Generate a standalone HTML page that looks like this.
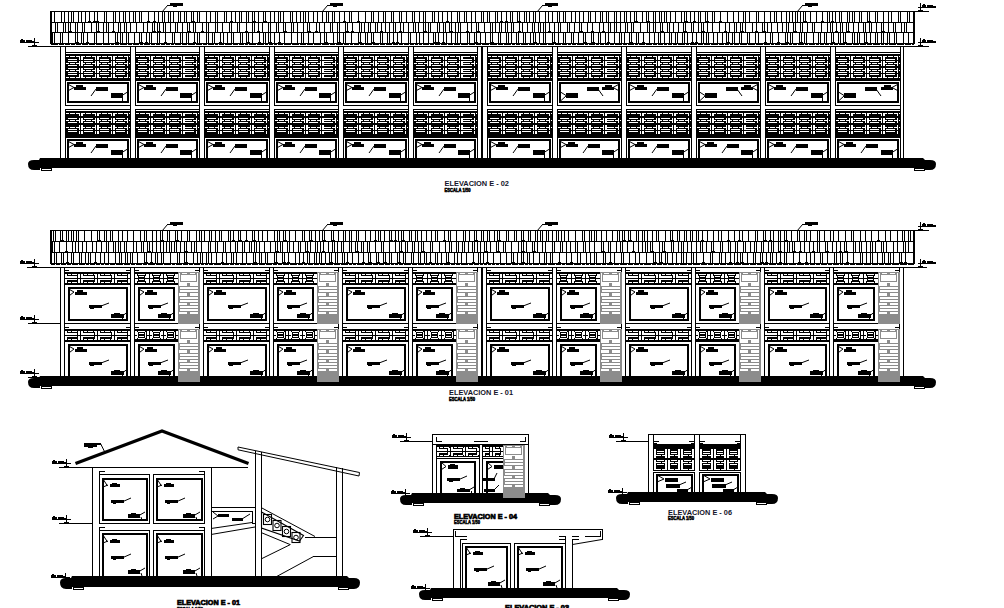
<!DOCTYPE html>
<html><head><meta charset="utf-8"><style>
html,body{margin:0;padding:0;background:#fff;width:1004px;height:608px;overflow:hidden}
svg{display:block}
</style></head><body>
<svg width="1004" height="608" viewBox="0 0 1004 608">
<rect width="1004" height="608" fill="#fff"/>
<path fill="#000" d="M50 11h865v1h-865zM50 43h865v1h-865zM50 11h1v33h-1zM914 11h1v33h-1zM51 11h1v33h-1zM913 11h1v33h-1zM50 22h865v1h-865zM50 32h865v1h-865zM54 11h1v12h-1zM61 11h1v12h-1zM64 11h1v12h-1zM68 11h1v12h-1zM71 11h1v12h-1zM73 11h1v11h-1zM78 11h1v12h-1zM81 11h1v12h-1zM85 11h1v12h-1zM89 11h1v12h-1zM88 21h3v1h-3zM94 11h1v12h-1zM93 21h3v1h-3zM97 11h1v12h-1zM96 21h3v1h-3zM104 11h1v12h-1zM106 11h1v11h-1zM113 11h1v12h-1zM115 11h1v11h-1zM119 11h1v12h-1zM123 11h1v12h-1zM125 11h1v11h-1zM129 11h1v12h-1zM133 11h1v12h-1zM135 11h1v11h-1zM139 11h1v12h-1zM141 11h1v11h-1zM148 11h1v12h-1zM147 21h3v1h-3zM154 11h1v12h-1zM153 21h3v1h-3zM158 11h1v12h-1zM162 11h1v12h-1zM164 11h1v11h-1zM168 11h1v12h-1zM170 11h1v11h-1zM173 11h1v12h-1zM178 11h1v12h-1zM180 11h1v11h-1zM184 11h1v12h-1zM186 11h1v11h-1zM191 11h1v12h-1zM193 11h1v11h-1zM192 21h3v1h-3zM197 11h1v12h-1zM199 11h1v11h-1zM206 11h1v12h-1zM210 11h1v12h-1zM215 11h1v12h-1zM217 11h1v11h-1zM224 11h1v12h-1zM226 11h1v11h-1zM231 11h1v12h-1zM230 21h3v1h-3zM235 11h1v12h-1zM239 11h1v12h-1zM241 11h1v11h-1zM246 11h1v12h-1zM248 11h1v11h-1zM252 11h1v12h-1zM254 11h1v11h-1zM253 21h3v1h-3zM258 11h1v12h-1zM263 11h1v12h-1zM265 11h1v11h-1zM264 21h3v1h-3zM270 11h1v12h-1zM274 11h1v12h-1zM278 11h1v12h-1zM280 11h1v11h-1zM283 11h1v12h-1zM290 11h1v12h-1zM292 11h1v11h-1zM296 11h1v12h-1zM300 11h1v12h-1zM303 11h1v12h-1zM305 11h1v11h-1zM308 11h1v12h-1zM313 11h1v12h-1zM317 11h1v12h-1zM322 11h1v12h-1zM326 11h1v12h-1zM328 11h1v11h-1zM332 11h1v12h-1zM334 11h1v11h-1zM339 11h1v12h-1zM344 11h1v12h-1zM343 21h3v1h-3zM349 11h1v12h-1zM351 11h1v11h-1zM358 11h1v12h-1zM357 21h3v1h-3zM365 11h1v12h-1zM371 11h1v12h-1zM373 11h1v11h-1zM378 11h1v12h-1zM383 11h1v12h-1zM385 11h1v11h-1zM391 11h1v12h-1zM393 11h1v11h-1zM399 11h1v12h-1zM401 11h1v11h-1zM406 11h1v12h-1zM412 11h1v12h-1zM414 11h1v11h-1zM419 11h1v12h-1zM423 11h1v12h-1zM425 11h1v11h-1zM432 11h1v12h-1zM434 11h1v11h-1zM438 11h1v12h-1zM442 11h1v12h-1zM447 11h1v12h-1zM446 21h3v1h-3zM451 11h1v12h-1zM457 11h1v12h-1zM459 11h1v11h-1zM464 11h1v12h-1zM466 11h1v11h-1zM471 11h1v12h-1zM475 11h1v12h-1zM481 11h1v12h-1zM483 11h1v11h-1zM487 11h1v12h-1zM489 11h1v11h-1zM495 11h1v12h-1zM497 11h1v11h-1zM501 11h1v12h-1zM500 21h3v1h-3zM506 11h1v12h-1zM505 21h3v1h-3zM510 11h1v12h-1zM512 11h1v11h-1zM517 11h1v12h-1zM519 11h1v11h-1zM518 21h3v1h-3zM524 11h1v12h-1zM526 11h1v11h-1zM529 11h1v12h-1zM533 11h1v12h-1zM535 11h1v11h-1zM539 11h1v12h-1zM545 11h1v12h-1zM548 11h1v12h-1zM552 11h1v12h-1zM557 11h1v12h-1zM559 11h1v11h-1zM563 11h1v12h-1zM565 11h1v11h-1zM571 11h1v12h-1zM575 11h1v12h-1zM579 11h1v12h-1zM583 11h1v12h-1zM588 11h1v12h-1zM590 11h1v11h-1zM595 11h1v12h-1zM600 11h1v12h-1zM602 11h1v11h-1zM606 11h1v12h-1zM608 11h1v11h-1zM614 11h1v12h-1zM616 11h1v11h-1zM620 11h1v12h-1zM624 11h1v12h-1zM626 11h1v11h-1zM630 11h1v12h-1zM634 11h1v12h-1zM636 11h1v11h-1zM635 21h3v1h-3zM642 11h1v12h-1zM646 11h1v12h-1zM648 11h1v11h-1zM647 21h3v1h-3zM653 11h1v12h-1zM655 11h1v11h-1zM659 11h1v12h-1zM661 11h1v11h-1zM664 11h1v12h-1zM666 11h1v11h-1zM670 11h1v12h-1zM675 11h1v12h-1zM681 11h1v12h-1zM684 11h1v12h-1zM686 11h1v11h-1zM685 21h3v1h-3zM690 11h1v12h-1zM694 11h1v12h-1zM693 21h3v1h-3zM698 11h1v12h-1zM700 11h1v11h-1zM705 11h1v12h-1zM707 11h1v11h-1zM706 21h3v1h-3zM712 11h1v12h-1zM714 11h1v11h-1zM720 11h1v12h-1zM719 21h3v1h-3zM727 11h1v12h-1zM733 11h1v12h-1zM738 11h1v12h-1zM743 11h1v12h-1zM745 11h1v11h-1zM749 11h1v12h-1zM756 11h1v12h-1zM758 11h1v11h-1zM764 11h1v12h-1zM770 11h1v12h-1zM774 11h1v12h-1zM776 11h1v11h-1zM781 11h1v12h-1zM786 11h1v12h-1zM789 11h1v12h-1zM792 11h1v12h-1zM795 11h1v12h-1zM797 11h1v11h-1zM800 11h1v12h-1zM803 11h1v12h-1zM805 11h1v11h-1zM804 21h3v1h-3zM810 11h1v12h-1zM816 11h1v12h-1zM822 11h1v12h-1zM821 21h3v1h-3zM827 11h1v12h-1zM829 11h1v11h-1zM832 11h1v12h-1zM831 21h3v1h-3zM835 11h1v12h-1zM839 11h1v12h-1zM841 11h1v11h-1zM847 11h1v12h-1zM849 11h1v11h-1zM852 11h1v12h-1zM854 11h1v11h-1zM859 11h1v12h-1zM861 11h1v11h-1zM867 11h1v12h-1zM869 11h1v11h-1zM868 21h3v1h-3zM875 11h1v12h-1zM877 11h1v11h-1zM883 11h1v12h-1zM888 11h1v12h-1zM891 11h1v12h-1zM898 11h1v12h-1zM900 11h1v11h-1zM907 11h1v12h-1zM909 11h1v11h-1zM55 22h1v11h-1zM57 22h1v10h-1zM63 22h1v11h-1zM65 22h1v10h-1zM68 22h1v11h-1zM70 22h1v10h-1zM69 31h3v1h-3zM75 22h1v11h-1zM77 22h1v10h-1zM82 22h1v11h-1zM84 22h1v10h-1zM91 22h1v11h-1zM96 22h1v11h-1zM98 22h1v10h-1zM97 31h3v1h-3zM103 22h1v11h-1zM106 22h1v11h-1zM108 22h1v10h-1zM113 22h1v11h-1zM112 31h3v1h-3zM118 22h1v11h-1zM120 22h1v10h-1zM124 22h1v11h-1zM126 22h1v10h-1zM130 22h1v11h-1zM136 22h1v11h-1zM143 22h1v11h-1zM147 22h1v11h-1zM152 22h1v11h-1zM154 22h1v10h-1zM153 31h3v1h-3zM157 22h1v11h-1zM159 22h1v10h-1zM158 31h3v1h-3zM163 22h1v11h-1zM165 22h1v10h-1zM170 22h1v11h-1zM175 22h1v11h-1zM177 22h1v10h-1zM182 22h1v11h-1zM187 22h1v11h-1zM189 22h1v10h-1zM188 31h3v1h-3zM193 22h1v11h-1zM195 22h1v10h-1zM202 22h1v11h-1zM201 31h3v1h-3zM206 22h1v11h-1zM208 22h1v10h-1zM215 22h1v11h-1zM217 22h1v10h-1zM222 22h1v11h-1zM229 22h1v11h-1zM231 22h1v10h-1zM237 22h1v11h-1zM239 22h1v10h-1zM246 22h1v11h-1zM245 31h3v1h-3zM252 22h1v11h-1zM254 22h1v10h-1zM258 22h1v11h-1zM257 31h3v1h-3zM262 22h1v11h-1zM268 22h1v11h-1zM270 22h1v10h-1zM276 22h1v11h-1zM278 22h1v10h-1zM283 22h1v11h-1zM285 22h1v10h-1zM284 31h3v1h-3zM291 22h1v11h-1zM293 22h1v10h-1zM297 22h1v11h-1zM303 22h1v11h-1zM307 22h1v11h-1zM309 22h1v10h-1zM308 31h3v1h-3zM316 22h1v11h-1zM315 31h3v1h-3zM319 22h1v11h-1zM324 22h1v11h-1zM330 22h1v11h-1zM332 22h1v10h-1zM337 22h1v11h-1zM339 22h1v10h-1zM345 22h1v11h-1zM347 22h1v10h-1zM346 31h3v1h-3zM352 22h1v11h-1zM351 31h3v1h-3zM359 22h1v11h-1zM361 22h1v10h-1zM364 22h1v11h-1zM368 22h1v11h-1zM370 22h1v10h-1zM375 22h1v11h-1zM377 22h1v10h-1zM381 22h1v11h-1zM380 31h3v1h-3zM385 22h1v11h-1zM389 22h1v11h-1zM393 22h1v11h-1zM395 22h1v10h-1zM400 22h1v11h-1zM399 31h3v1h-3zM403 22h1v11h-1zM408 22h1v11h-1zM413 22h1v11h-1zM415 22h1v10h-1zM418 22h1v11h-1zM423 22h1v11h-1zM425 22h1v10h-1zM424 31h3v1h-3zM428 22h1v11h-1zM430 22h1v10h-1zM437 22h1v11h-1zM439 22h1v10h-1zM443 22h1v11h-1zM445 22h1v10h-1zM449 22h1v11h-1zM451 22h1v10h-1zM450 31h3v1h-3zM455 22h1v11h-1zM458 22h1v11h-1zM460 22h1v10h-1zM467 22h1v11h-1zM466 31h3v1h-3zM471 22h1v11h-1zM476 22h1v11h-1zM478 22h1v10h-1zM477 31h3v1h-3zM484 22h1v11h-1zM490 22h1v11h-1zM492 22h1v10h-1zM495 22h1v11h-1zM499 22h1v11h-1zM501 22h1v10h-1zM505 22h1v11h-1zM507 22h1v10h-1zM511 22h1v11h-1zM513 22h1v10h-1zM519 22h1v11h-1zM518 31h3v1h-3zM522 22h1v11h-1zM527 22h1v11h-1zM532 22h1v11h-1zM534 22h1v10h-1zM538 22h1v11h-1zM540 22h1v10h-1zM543 22h1v11h-1zM545 22h1v10h-1zM549 22h1v11h-1zM548 31h3v1h-3zM554 22h1v11h-1zM558 22h1v11h-1zM560 22h1v10h-1zM567 22h1v11h-1zM569 22h1v10h-1zM574 22h1v11h-1zM579 22h1v11h-1zM581 22h1v10h-1zM580 31h3v1h-3zM587 22h1v11h-1zM592 22h1v11h-1zM591 31h3v1h-3zM599 22h1v11h-1zM603 22h1v11h-1zM602 31h3v1h-3zM608 22h1v11h-1zM610 22h1v10h-1zM614 22h1v11h-1zM616 22h1v10h-1zM620 22h1v11h-1zM625 22h1v11h-1zM627 22h1v10h-1zM631 22h1v11h-1zM633 22h1v10h-1zM640 22h1v11h-1zM647 22h1v11h-1zM649 22h1v10h-1zM653 22h1v11h-1zM655 22h1v10h-1zM660 22h1v11h-1zM662 22h1v10h-1zM661 31h3v1h-3zM667 22h1v11h-1zM669 22h1v10h-1zM673 22h1v11h-1zM678 22h1v11h-1zM683 22h1v11h-1zM685 22h1v10h-1zM684 31h3v1h-3zM691 22h1v11h-1zM693 22h1v10h-1zM698 22h1v11h-1zM701 22h1v11h-1zM703 22h1v10h-1zM702 31h3v1h-3zM707 22h1v11h-1zM712 22h1v11h-1zM719 22h1v11h-1zM725 22h1v11h-1zM724 31h3v1h-3zM729 22h1v11h-1zM734 22h1v11h-1zM736 22h1v10h-1zM740 22h1v11h-1zM742 22h1v10h-1zM741 31h3v1h-3zM745 22h1v11h-1zM752 22h1v11h-1zM756 22h1v11h-1zM755 31h3v1h-3zM762 22h1v11h-1zM764 22h1v10h-1zM763 31h3v1h-3zM767 22h1v11h-1zM771 22h1v11h-1zM777 22h1v11h-1zM782 22h1v11h-1zM786 22h1v11h-1zM788 22h1v10h-1zM793 22h1v11h-1zM795 22h1v10h-1zM794 31h3v1h-3zM800 22h1v11h-1zM802 22h1v10h-1zM807 22h1v11h-1zM812 22h1v11h-1zM814 22h1v10h-1zM821 22h1v11h-1zM827 22h1v11h-1zM830 22h1v11h-1zM832 22h1v10h-1zM836 22h1v11h-1zM835 31h3v1h-3zM840 22h1v11h-1zM842 22h1v10h-1zM846 22h1v11h-1zM848 22h1v10h-1zM847 31h3v1h-3zM853 22h1v11h-1zM858 22h1v11h-1zM863 22h1v11h-1zM865 22h1v10h-1zM869 22h1v11h-1zM871 22h1v10h-1zM876 22h1v11h-1zM881 22h1v11h-1zM883 22h1v10h-1zM882 31h3v1h-3zM888 22h1v11h-1zM893 22h1v11h-1zM895 22h1v10h-1zM901 22h1v11h-1zM904 22h1v11h-1zM906 22h1v10h-1zM52 32h1v12h-1zM54 32h1v11h-1zM60 32h1v12h-1zM62 32h1v11h-1zM68 32h1v12h-1zM75 32h1v12h-1zM77 32h1v11h-1zM76 42h3v1h-3zM81 32h1v12h-1zM83 32h1v11h-1zM87 32h1v12h-1zM86 42h3v1h-3zM94 32h1v12h-1zM96 32h1v11h-1zM103 32h1v12h-1zM108 32h1v12h-1zM115 32h1v12h-1zM117 32h1v11h-1zM116 42h3v1h-3zM120 32h1v12h-1zM122 32h1v11h-1zM126 32h1v12h-1zM128 32h1v11h-1zM134 32h1v12h-1zM139 32h1v12h-1zM141 32h1v11h-1zM140 42h3v1h-3zM146 32h1v12h-1zM145 42h3v1h-3zM149 32h1v12h-1zM151 32h1v11h-1zM157 32h1v12h-1zM159 32h1v11h-1zM165 32h1v12h-1zM164 42h3v1h-3zM172 32h1v12h-1zM174 32h1v11h-1zM180 32h1v12h-1zM182 32h1v11h-1zM186 32h1v12h-1zM188 32h1v11h-1zM194 32h1v12h-1zM193 42h3v1h-3zM197 32h1v12h-1zM199 32h1v11h-1zM206 32h1v12h-1zM208 32h1v11h-1zM212 32h1v12h-1zM214 32h1v11h-1zM220 32h1v12h-1zM219 42h3v1h-3zM223 32h1v12h-1zM227 32h1v12h-1zM231 32h1v12h-1zM233 32h1v11h-1zM240 32h1v12h-1zM242 32h1v11h-1zM246 32h1v12h-1zM248 32h1v11h-1zM247 42h3v1h-3zM252 32h1v12h-1zM259 32h1v12h-1zM258 42h3v1h-3zM263 32h1v12h-1zM265 32h1v11h-1zM268 32h1v12h-1zM270 32h1v11h-1zM269 42h3v1h-3zM274 32h1v12h-1zM279 32h1v12h-1zM278 42h3v1h-3zM284 32h1v12h-1zM291 32h1v12h-1zM297 32h1v12h-1zM301 32h1v12h-1zM303 32h1v11h-1zM308 32h1v12h-1zM313 32h1v12h-1zM320 32h1v12h-1zM324 32h1v12h-1zM326 32h1v11h-1zM325 42h3v1h-3zM333 32h1v12h-1zM337 32h1v12h-1zM339 32h1v11h-1zM338 42h3v1h-3zM343 32h1v12h-1zM345 32h1v11h-1zM351 32h1v12h-1zM358 32h1v12h-1zM360 32h1v11h-1zM359 42h3v1h-3zM365 32h1v12h-1zM367 32h1v11h-1zM371 32h1v12h-1zM373 32h1v11h-1zM372 42h3v1h-3zM380 32h1v12h-1zM382 32h1v11h-1zM387 32h1v12h-1zM389 32h1v11h-1zM393 32h1v12h-1zM392 42h3v1h-3zM397 32h1v12h-1zM396 42h3v1h-3zM401 32h1v12h-1zM408 32h1v12h-1zM410 32h1v11h-1zM416 32h1v12h-1zM419 32h1v12h-1zM423 32h1v12h-1zM428 32h1v12h-1zM433 32h1v12h-1zM435 32h1v11h-1zM434 42h3v1h-3zM438 32h1v12h-1zM437 42h3v1h-3zM443 32h1v12h-1zM442 42h3v1h-3zM446 32h1v12h-1zM451 32h1v12h-1zM455 32h1v12h-1zM457 32h1v11h-1zM460 32h1v12h-1zM467 32h1v12h-1zM469 32h1v11h-1zM474 32h1v12h-1zM476 32h1v11h-1zM475 42h3v1h-3zM480 32h1v12h-1zM485 32h1v12h-1zM490 32h1v12h-1zM492 32h1v11h-1zM491 42h3v1h-3zM498 32h1v12h-1zM500 32h1v11h-1zM506 32h1v12h-1zM508 32h1v11h-1zM511 32h1v12h-1zM516 32h1v12h-1zM518 32h1v11h-1zM523 32h1v12h-1zM525 32h1v11h-1zM530 32h1v12h-1zM533 32h1v12h-1zM535 32h1v11h-1zM534 42h3v1h-3zM539 32h1v12h-1zM543 32h1v12h-1zM545 32h1v11h-1zM552 32h1v12h-1zM554 32h1v11h-1zM553 42h3v1h-3zM558 32h1v12h-1zM563 32h1v12h-1zM565 32h1v11h-1zM571 32h1v12h-1zM573 32h1v11h-1zM578 32h1v12h-1zM583 32h1v12h-1zM585 32h1v11h-1zM584 42h3v1h-3zM591 32h1v12h-1zM593 32h1v11h-1zM592 42h3v1h-3zM598 32h1v12h-1zM600 32h1v11h-1zM605 32h1v12h-1zM608 32h1v12h-1zM607 42h3v1h-3zM614 32h1v12h-1zM619 32h1v12h-1zM621 32h1v11h-1zM624 32h1v12h-1zM629 32h1v12h-1zM631 32h1v11h-1zM630 42h3v1h-3zM636 32h1v12h-1zM638 32h1v11h-1zM643 32h1v12h-1zM642 42h3v1h-3zM649 32h1v12h-1zM654 32h1v12h-1zM658 32h1v12h-1zM660 32h1v11h-1zM664 32h1v12h-1zM669 32h1v12h-1zM671 32h1v11h-1zM675 32h1v12h-1zM677 32h1v11h-1zM682 32h1v12h-1zM684 32h1v11h-1zM687 32h1v12h-1zM692 32h1v12h-1zM691 42h3v1h-3zM696 32h1v12h-1zM695 42h3v1h-3zM701 32h1v12h-1zM703 32h1v11h-1zM706 32h1v12h-1zM708 32h1v11h-1zM713 32h1v12h-1zM717 32h1v12h-1zM722 32h1v12h-1zM726 32h1v12h-1zM728 32h1v11h-1zM727 42h3v1h-3zM732 32h1v12h-1zM734 32h1v11h-1zM739 32h1v12h-1zM741 32h1v11h-1zM747 32h1v12h-1zM749 32h1v11h-1zM755 32h1v12h-1zM758 32h1v12h-1zM765 32h1v12h-1zM764 42h3v1h-3zM770 32h1v12h-1zM772 32h1v11h-1zM778 32h1v12h-1zM777 42h3v1h-3zM785 32h1v12h-1zM787 32h1v11h-1zM786 42h3v1h-3zM790 32h1v12h-1zM792 32h1v11h-1zM799 32h1v12h-1zM801 32h1v11h-1zM800 42h3v1h-3zM804 32h1v12h-1zM806 32h1v11h-1zM813 32h1v12h-1zM818 32h1v12h-1zM820 32h1v11h-1zM824 32h1v12h-1zM826 32h1v11h-1zM831 32h1v12h-1zM833 32h1v11h-1zM832 42h3v1h-3zM838 32h1v12h-1zM840 32h1v11h-1zM843 32h1v12h-1zM845 32h1v11h-1zM844 42h3v1h-3zM852 32h1v12h-1zM854 32h1v11h-1zM857 32h1v12h-1zM859 32h1v11h-1zM864 32h1v12h-1zM866 32h1v11h-1zM865 42h3v1h-3zM870 32h1v12h-1zM875 32h1v12h-1zM877 32h1v11h-1zM881 32h1v12h-1zM883 32h1v11h-1zM887 32h1v12h-1zM889 32h1v11h-1zM894 32h1v12h-1zM896 32h1v11h-1zM903 32h1v12h-1zM908 32h1v12h-1zM51 44h7v1h-7zM59 44h5v1h-5zM65 44h5v1h-5zM71 44h4v1h-4zM76 44h5v1h-5zM82 44h6v1h-6zM89 44h6v1h-6zM96 44h6v1h-6zM103 44h7v1h-7zM111 44h3v1h-3zM115 44h4v1h-4zM120 44h7v1h-7zM128 44h4v1h-4zM133 44h6v1h-6zM140 44h3v1h-3zM144 44h6v1h-6zM151 44h4v1h-4zM156 44h4v1h-4zM161 44h4v1h-4zM166 44h4v1h-4zM171 44h3v1h-3zM175 44h6v1h-6zM182 44h5v1h-5zM188 44h7v1h-7zM196 44h6v1h-6zM203 44h4v1h-4zM208 44h6v1h-6zM215 44h3v1h-3zM219 44h5v1h-5zM225 44h7v1h-7zM233 44h5v1h-5zM239 44h5v1h-5zM245 44h3v1h-3zM249 44h7v1h-7zM257 44h7v1h-7zM265 44h3v1h-3zM269 44h4v1h-4zM274 44h3v1h-3zM278 44h5v1h-5zM284 44h7v1h-7zM292 44h7v1h-7zM300 44h6v1h-6zM307 44h6v1h-6zM314 44h7v1h-7zM322 44h7v1h-7zM330 44h5v1h-5zM336 44h7v1h-7zM344 44h5v1h-5zM350 44h3v1h-3zM354 44h5v1h-5zM360 44h4v1h-4zM365 44h7v1h-7zM373 44h6v1h-6zM380 44h5v1h-5zM386 44h6v1h-6zM393 44h5v1h-5zM399 44h4v1h-4zM404 44h5v1h-5zM410 44h4v1h-4zM415 44h3v1h-3zM419 44h3v1h-3zM423 44h6v1h-6zM430 44h4v1h-4zM435 44h5v1h-5zM441 44h6v1h-6zM448 44h5v1h-5zM454 44h6v1h-6zM461 44h7v1h-7zM469 44h6v1h-6zM476 44h5v1h-5zM482 44h7v1h-7zM490 44h7v1h-7zM498 44h5v1h-5zM504 44h7v1h-7zM512 44h3v1h-3zM516 44h4v1h-4zM521 44h7v1h-7zM529 44h6v1h-6zM536 44h3v1h-3zM540 44h7v1h-7zM548 44h6v1h-6zM555 44h6v1h-6zM562 44h5v1h-5zM568 44h3v1h-3zM572 44h4v1h-4zM577 44h7v1h-7zM585 44h3v1h-3zM589 44h6v1h-6zM596 44h3v1h-3zM600 44h4v1h-4zM605 44h4v1h-4zM610 44h4v1h-4zM615 44h7v1h-7zM623 44h4v1h-4zM628 44h6v1h-6zM635 44h3v1h-3zM639 44h6v1h-6zM646 44h6v1h-6zM653 44h4v1h-4zM658 44h5v1h-5zM664 44h3v1h-3zM668 44h4v1h-4zM673 44h4v1h-4zM678 44h7v1h-7zM686 44h3v1h-3zM690 44h7v1h-7zM698 44h5v1h-5zM704 44h6v1h-6zM711 44h7v1h-7zM719 44h5v1h-5zM725 44h4v1h-4zM730 44h3v1h-3zM734 44h5v1h-5zM740 44h7v1h-7zM748 44h7v1h-7zM756 44h7v1h-7zM764 44h6v1h-6zM771 44h3v1h-3zM775 44h5v1h-5zM781 44h7v1h-7zM789 44h3v1h-3zM793 44h4v1h-4zM798 44h6v1h-6zM805 44h3v1h-3zM809 44h6v1h-6zM816 44h3v1h-3zM820 44h4v1h-4zM825 44h4v1h-4zM830 44h3v1h-3zM834 44h4v1h-4zM839 44h6v1h-6zM846 44h6v1h-6zM853 44h6v1h-6zM860 44h6v1h-6zM867 44h5v1h-5zM873 44h7v1h-7zM881 44h3v1h-3zM885 44h3v1h-3zM889 44h7v1h-7zM897 44h7v1h-7zM905 44h6v1h-6zM912 44h2v1h-2zM28 46h901v1h-901zM20 40h5v2h-5zM26 40h6v2h-6zM32 41h2v1h-2zM21 39h2v1h-2zM20 42h19v1h-19zM34 38h1v8h-1zM32 45h5v1h-5zM28 46h33v1h-33zM922 40h4v2h-4zM927 40h6v2h-6zM933 41h3v1h-3zM923 39h2v1h-2zM918 42h18v1h-18zM920 38h1v8h-1zM918 45h5v1h-5zM922 5h4v2h-4zM927 5h6v2h-6zM933 6h3v1h-3zM923 4h2v1h-2zM918 7h18v1h-18zM920 3h1v8h-1zM918 10h5v1h-5zM914 11h15v1h-15zM167 5h16v1h-16zM170 3h10v2h-10zM173 6h4v1h-4zM180 3h3v2h-3zM327 5h16v1h-16zM330 3h10v2h-10zM333 6h4v1h-4zM340 3h3v2h-3zM542 5h16v1h-16zM545 3h10v2h-10zM548 6h4v1h-4zM555 3h3v2h-3zM802 5h16v1h-16zM805 3h10v2h-10zM808 6h4v1h-4zM815 3h3v2h-3zM60 47h1v112h-1zM65 47h1v112h-1zM130 47h1v112h-1zM135 47h1v112h-1zM199 47h1v112h-1zM204 47h1v112h-1zM269 47h1v112h-1zM274 47h1v112h-1zM338 47h1v112h-1zM343 47h1v112h-1zM408 47h1v112h-1zM413 47h1v112h-1zM477 47h1v112h-1zM482 47h1v112h-1zM482 47h1v112h-1zM487 47h1v112h-1zM552 47h1v112h-1zM557 47h1v112h-1zM621 47h1v112h-1zM626 47h1v112h-1zM691 47h1v112h-1zM696 47h1v112h-1zM760 47h1v112h-1zM765 47h1v112h-1zM830 47h1v112h-1zM835 47h1v112h-1zM900 47h1v112h-1zM903 47h1v112h-1zM481 47h1v112h-1zM65 52h66v1h-66zM65 54h66v26h-66z"/>
<path fill="#fff" d="M66 56h3v1h-3zM70 56h5v1h-5zM76 56h4v1h-4zM81 56h4v1h-4zM66 63h3v1h-3zM70 63h5v1h-5zM76 63h4v1h-4zM81 63h4v1h-4zM66 70h3v1h-3zM70 70h5v1h-5zM76 70h4v1h-4zM81 70h4v1h-4zM66 77h3v1h-3zM70 77h5v1h-5zM76 77h4v1h-4zM81 77h4v1h-4zM68 59h9v1h-9zM68 61h9v1h-9zM68 65h9v1h-9zM68 68h9v1h-9zM68 72h9v1h-9zM68 74h9v1h-9zM79 56h1v4h-1zM81 56h2v4h-2zM79 61h1v5h-1zM81 61h2v5h-2zM79 68h1v5h-1zM81 68h2v5h-2zM79 74h1v4h-1zM81 74h2v4h-2zM82 56h3v1h-3zM86 56h5v1h-5zM92 56h4v1h-4zM97 56h4v1h-4zM82 63h3v1h-3zM86 63h5v1h-5zM92 63h4v1h-4zM97 63h4v1h-4zM82 70h3v1h-3zM86 70h5v1h-5zM92 70h4v1h-4zM97 70h4v1h-4zM82 77h3v1h-3zM86 77h5v1h-5zM92 77h4v1h-4zM97 77h4v1h-4zM84 59h9v1h-9zM84 61h9v1h-9zM84 65h9v1h-9zM84 68h9v1h-9zM84 72h9v1h-9zM84 74h9v1h-9zM95 56h1v4h-1zM97 56h2v4h-2zM95 61h1v5h-1zM97 61h2v5h-2zM95 68h1v5h-1zM97 68h2v5h-2zM95 74h1v4h-1zM97 74h2v4h-2zM98 56h3v1h-3zM102 56h5v1h-5zM108 56h4v1h-4zM113 56h4v1h-4zM98 63h3v1h-3zM102 63h5v1h-5zM108 63h4v1h-4zM113 63h4v1h-4zM98 70h3v1h-3zM102 70h5v1h-5zM108 70h4v1h-4zM113 70h4v1h-4zM98 77h3v1h-3zM102 77h5v1h-5zM108 77h4v1h-4zM113 77h4v1h-4zM100 59h9v1h-9zM100 61h9v1h-9zM100 65h9v1h-9zM100 68h9v1h-9zM100 72h9v1h-9zM100 74h9v1h-9zM111 56h1v4h-1zM113 56h2v4h-2zM111 61h1v5h-1zM113 61h2v5h-2zM111 68h1v5h-1zM113 68h2v5h-2zM111 74h1v4h-1zM113 74h2v4h-2zM114 56h3v1h-3zM118 56h5v1h-5zM124 56h4v1h-4zM129 56h1v1h-1zM114 63h3v1h-3zM118 63h5v1h-5zM124 63h4v1h-4zM129 63h1v1h-1zM114 70h3v1h-3zM118 70h5v1h-5zM124 70h4v1h-4zM129 70h1v1h-1zM114 77h3v1h-3zM118 77h5v1h-5zM124 77h4v1h-4zM129 77h1v1h-1zM116 59h9v1h-9zM116 61h9v1h-9zM116 65h9v1h-9zM116 68h9v1h-9zM116 72h9v1h-9zM116 74h9v1h-9zM127 56h1v4h-1zM127 61h1v5h-1zM127 68h1v5h-1zM127 74h1v4h-1z"/>
<path fill="none" stroke="#000" stroke-width="1" d="M162 12L167.5 5.5M322 12L327.5 5.5M537 12L542.5 5.5M797 12L802.5 5.5"/>
<path fill="#000" d="M65 80h66v1h-66zM65 105h66v1h-66z"/>
<path fill="#fff" d="M65 106h1v3h-1z"/>
<path fill="#000" d="M67 82h62v2h-62zM67 101h62v2h-62zM67 82h2v21h-2zM127 82h2v21h-2zM76 85h7v2h-7zM74 87h12v3h-12zM96 87h12v4h-12zM111 93h12v5h-12zM122 97h1v6h-1zM65 109h66v1h-66zM65 111h66v26h-66z"/>
<path fill="#fff" d="M66 113h3v1h-3zM70 113h5v1h-5zM76 113h4v1h-4zM81 113h4v1h-4zM66 120h3v1h-3zM70 120h5v1h-5zM76 120h4v1h-4zM81 120h4v1h-4zM66 127h3v1h-3zM70 127h5v1h-5zM76 127h4v1h-4zM81 127h4v1h-4zM68 118h9v1h-9zM68 122h9v1h-9zM68 129h9v1h-9zM68 131h9v1h-9zM79 113h1v3h-1zM81 113h2v3h-2zM79 118h1v5h-1zM81 118h2v5h-2zM79 125h1v5h-1zM81 125h2v5h-2zM79 131h1v3h-1zM81 131h2v3h-2zM82 113h3v1h-3zM86 113h5v1h-5zM92 113h4v1h-4zM97 113h4v1h-4zM82 120h3v1h-3zM86 120h5v1h-5zM92 120h4v1h-4zM97 120h4v1h-4zM82 127h3v1h-3zM86 127h5v1h-5zM92 127h4v1h-4zM97 127h4v1h-4zM84 118h9v1h-9zM84 122h9v1h-9zM84 129h9v1h-9zM84 131h9v1h-9zM95 113h1v3h-1zM97 113h2v3h-2zM95 118h1v5h-1zM97 118h2v5h-2zM95 125h1v5h-1zM97 125h2v5h-2zM95 131h1v3h-1zM97 131h2v3h-2zM98 113h3v1h-3zM102 113h5v1h-5zM108 113h4v1h-4zM113 113h4v1h-4zM98 120h3v1h-3zM102 120h5v1h-5zM108 120h4v1h-4zM113 120h4v1h-4zM98 127h3v1h-3zM102 127h5v1h-5zM108 127h4v1h-4zM113 127h4v1h-4zM100 118h9v1h-9zM100 122h9v1h-9zM100 129h9v1h-9zM100 131h9v1h-9zM111 113h1v3h-1zM113 113h2v3h-2zM111 118h1v5h-1zM113 118h2v5h-2zM111 125h1v5h-1zM113 125h2v5h-2zM111 131h1v3h-1zM113 131h2v3h-2zM114 113h3v1h-3zM118 113h5v1h-5zM124 113h4v1h-4zM129 113h1v1h-1zM114 120h3v1h-3zM118 120h5v1h-5zM124 120h4v1h-4zM129 120h1v1h-1zM114 127h3v1h-3zM118 127h5v1h-5zM124 127h4v1h-4zM129 127h1v1h-1zM116 118h9v1h-9zM116 122h9v1h-9zM116 129h9v1h-9zM116 131h9v1h-9zM127 113h1v3h-1zM127 118h1v5h-1zM127 125h1v5h-1zM127 131h1v3h-1z"/>
<path fill="none" stroke="#000" stroke-width="1" d="M68.5 84.5L74 87.5M68.5 90.5L74 87.5M91 96L96 89M122 95.5L127.5 92"/>
<path fill="#000" d="M65 137h66v1h-66zM67 139h62v2h-62zM67 139h2v20h-2zM127 139h2v20h-2zM76 142h7v2h-7zM74 144h12v3h-12zM96 144h12v4h-12zM111 150h12v5h-12zM122 154h1v5h-1zM135 52h65v1h-65zM135 54h65v26h-65z"/>
<path fill="#fff" d="M136 56h3v1h-3zM140 56h5v1h-5zM146 56h4v1h-4zM151 56h4v1h-4zM136 63h3v1h-3zM140 63h5v1h-5zM146 63h4v1h-4zM151 63h4v1h-4zM136 70h3v1h-3zM140 70h5v1h-5zM146 70h4v1h-4zM151 70h4v1h-4zM136 77h3v1h-3zM140 77h5v1h-5zM146 77h4v1h-4zM151 77h4v1h-4zM138 59h9v1h-9zM138 61h9v1h-9zM138 65h9v1h-9zM138 68h9v1h-9zM138 72h9v1h-9zM138 74h9v1h-9zM149 56h1v4h-1zM151 56h2v4h-2zM149 61h1v5h-1zM151 61h2v5h-2zM149 68h1v5h-1zM151 68h2v5h-2zM149 74h1v4h-1zM151 74h2v4h-2zM152 56h3v1h-3zM156 56h5v1h-5zM162 56h4v1h-4zM167 56h4v1h-4zM152 63h3v1h-3zM156 63h5v1h-5zM162 63h4v1h-4zM167 63h4v1h-4zM152 70h3v1h-3zM156 70h5v1h-5zM162 70h4v1h-4zM167 70h4v1h-4zM152 77h3v1h-3zM156 77h5v1h-5zM162 77h4v1h-4zM167 77h4v1h-4zM154 59h9v1h-9zM154 61h9v1h-9zM154 65h9v1h-9zM154 68h9v1h-9zM154 72h9v1h-9zM154 74h9v1h-9zM165 56h1v4h-1zM167 56h2v4h-2zM165 61h1v5h-1zM167 61h2v5h-2zM165 68h1v5h-1zM167 68h2v5h-2zM165 74h1v4h-1zM167 74h2v4h-2zM168 56h3v1h-3zM172 56h5v1h-5zM178 56h4v1h-4zM183 56h4v1h-4zM168 63h3v1h-3zM172 63h5v1h-5zM178 63h4v1h-4zM183 63h4v1h-4zM168 70h3v1h-3zM172 70h5v1h-5zM178 70h4v1h-4zM183 70h4v1h-4zM168 77h3v1h-3zM172 77h5v1h-5zM178 77h4v1h-4zM183 77h4v1h-4zM170 59h9v1h-9zM170 61h9v1h-9zM170 65h9v1h-9zM170 68h9v1h-9zM170 72h9v1h-9zM170 74h9v1h-9zM181 56h1v4h-1zM183 56h2v4h-2zM181 61h1v5h-1zM183 61h2v5h-2zM181 68h1v5h-1zM183 68h2v5h-2zM181 74h1v4h-1zM183 74h2v4h-2zM183 56h3v1h-3zM187 56h5v1h-5zM193 56h4v1h-4zM198 56h1v1h-1zM183 63h3v1h-3zM187 63h5v1h-5zM193 63h4v1h-4zM198 63h1v1h-1zM183 70h3v1h-3zM187 70h5v1h-5zM193 70h4v1h-4zM198 70h1v1h-1zM183 77h3v1h-3zM187 77h5v1h-5zM193 77h4v1h-4zM198 77h1v1h-1zM185 59h9v1h-9zM185 61h9v1h-9zM185 65h9v1h-9zM185 68h9v1h-9zM185 72h9v1h-9zM185 74h9v1h-9zM196 56h1v4h-1zM196 61h1v5h-1zM196 68h1v5h-1zM196 74h1v4h-1z"/>
<path fill="none" stroke="#000" stroke-width="1" d="M68.5 141.5L74 144.5M68.5 147.5L74 144.5M91 153L96 146M122 152.5L127.5 149"/>
<path fill="#000" d="M135 80h65v1h-65zM135 105h65v1h-65z"/>
<path fill="#fff" d="M135 106h1v3h-1z"/>
<path fill="#000" d="M137 82h61v2h-61zM137 101h61v2h-61zM137 82h2v21h-2zM196 82h2v21h-2zM146 85h7v2h-7zM144 87h12v3h-12zM166 87h12v4h-12zM180 93h12v5h-12zM191 97h1v6h-1zM135 109h65v1h-65zM135 111h65v26h-65z"/>
<path fill="#fff" d="M136 113h3v1h-3zM140 113h5v1h-5zM146 113h4v1h-4zM151 113h4v1h-4zM136 120h3v1h-3zM140 120h5v1h-5zM146 120h4v1h-4zM151 120h4v1h-4zM136 127h3v1h-3zM140 127h5v1h-5zM146 127h4v1h-4zM151 127h4v1h-4zM138 118h9v1h-9zM138 122h9v1h-9zM138 129h9v1h-9zM138 131h9v1h-9zM149 113h1v3h-1zM151 113h2v3h-2zM149 118h1v5h-1zM151 118h2v5h-2zM149 125h1v5h-1zM151 125h2v5h-2zM149 131h1v3h-1zM151 131h2v3h-2zM152 113h3v1h-3zM156 113h5v1h-5zM162 113h4v1h-4zM167 113h4v1h-4zM152 120h3v1h-3zM156 120h5v1h-5zM162 120h4v1h-4zM167 120h4v1h-4zM152 127h3v1h-3zM156 127h5v1h-5zM162 127h4v1h-4zM167 127h4v1h-4zM154 118h9v1h-9zM154 122h9v1h-9zM154 129h9v1h-9zM154 131h9v1h-9zM165 113h1v3h-1zM167 113h2v3h-2zM165 118h1v5h-1zM167 118h2v5h-2zM165 125h1v5h-1zM167 125h2v5h-2zM165 131h1v3h-1zM167 131h2v3h-2zM168 113h3v1h-3zM172 113h5v1h-5zM178 113h4v1h-4zM183 113h4v1h-4zM168 120h3v1h-3zM172 120h5v1h-5zM178 120h4v1h-4zM183 120h4v1h-4zM168 127h3v1h-3zM172 127h5v1h-5zM178 127h4v1h-4zM183 127h4v1h-4zM170 118h9v1h-9zM170 122h9v1h-9zM170 129h9v1h-9zM170 131h9v1h-9zM181 113h1v3h-1zM183 113h2v3h-2zM181 118h1v5h-1zM183 118h2v5h-2zM181 125h1v5h-1zM183 125h2v5h-2zM181 131h1v3h-1zM183 131h2v3h-2zM183 113h3v1h-3zM187 113h5v1h-5zM193 113h4v1h-4zM198 113h1v1h-1zM183 120h3v1h-3zM187 120h5v1h-5zM193 120h4v1h-4zM198 120h1v1h-1zM183 127h3v1h-3zM187 127h5v1h-5zM193 127h4v1h-4zM198 127h1v1h-1zM185 118h9v1h-9zM185 122h9v1h-9zM185 129h9v1h-9zM185 131h9v1h-9zM196 113h1v3h-1zM196 118h1v5h-1zM196 125h1v5h-1zM196 131h1v3h-1z"/>
<path fill="none" stroke="#000" stroke-width="1" d="M138.5 84.5L144 87.5M138.5 90.5L144 87.5M161 96L166 89M191 95.5L196.5 92"/>
<path fill="#000" d="M135 137h65v1h-65zM137 139h61v2h-61zM137 139h2v20h-2zM196 139h2v20h-2zM146 142h7v2h-7zM144 144h12v3h-12zM166 144h12v4h-12zM180 150h12v5h-12zM191 154h1v5h-1zM204 52h66v1h-66zM204 54h66v26h-66z"/>
<path fill="#fff" d="M205 56h3v1h-3zM209 56h5v1h-5zM215 56h4v1h-4zM220 56h4v1h-4zM205 63h3v1h-3zM209 63h5v1h-5zM215 63h4v1h-4zM220 63h4v1h-4zM205 70h3v1h-3zM209 70h5v1h-5zM215 70h4v1h-4zM220 70h4v1h-4zM205 77h3v1h-3zM209 77h5v1h-5zM215 77h4v1h-4zM220 77h4v1h-4zM207 59h9v1h-9zM207 61h9v1h-9zM207 65h9v1h-9zM207 68h9v1h-9zM207 72h9v1h-9zM207 74h9v1h-9zM218 56h1v4h-1zM220 56h2v4h-2zM218 61h1v5h-1zM220 61h2v5h-2zM218 68h1v5h-1zM220 68h2v5h-2zM218 74h1v4h-1zM220 74h2v4h-2zM221 56h3v1h-3zM225 56h5v1h-5zM231 56h4v1h-4zM236 56h4v1h-4zM221 63h3v1h-3zM225 63h5v1h-5zM231 63h4v1h-4zM236 63h4v1h-4zM221 70h3v1h-3zM225 70h5v1h-5zM231 70h4v1h-4zM236 70h4v1h-4zM221 77h3v1h-3zM225 77h5v1h-5zM231 77h4v1h-4zM236 77h4v1h-4zM223 59h9v1h-9zM223 61h9v1h-9zM223 65h9v1h-9zM223 68h9v1h-9zM223 72h9v1h-9zM223 74h9v1h-9zM234 56h1v4h-1zM236 56h2v4h-2zM234 61h1v5h-1zM236 61h2v5h-2zM234 68h1v5h-1zM236 68h2v5h-2zM234 74h1v4h-1zM236 74h2v4h-2zM237 56h3v1h-3zM241 56h5v1h-5zM247 56h4v1h-4zM252 56h4v1h-4zM237 63h3v1h-3zM241 63h5v1h-5zM247 63h4v1h-4zM252 63h4v1h-4zM237 70h3v1h-3zM241 70h5v1h-5zM247 70h4v1h-4zM252 70h4v1h-4zM237 77h3v1h-3zM241 77h5v1h-5zM247 77h4v1h-4zM252 77h4v1h-4zM239 59h9v1h-9zM239 61h9v1h-9zM239 65h9v1h-9zM239 68h9v1h-9zM239 72h9v1h-9zM239 74h9v1h-9zM250 56h1v4h-1zM252 56h2v4h-2zM250 61h1v5h-1zM252 61h2v5h-2zM250 68h1v5h-1zM252 68h2v5h-2zM250 74h1v4h-1zM252 74h2v4h-2zM253 56h3v1h-3zM257 56h5v1h-5zM263 56h4v1h-4zM268 56h1v1h-1zM253 63h3v1h-3zM257 63h5v1h-5zM263 63h4v1h-4zM268 63h1v1h-1zM253 70h3v1h-3zM257 70h5v1h-5zM263 70h4v1h-4zM268 70h1v1h-1zM253 77h3v1h-3zM257 77h5v1h-5zM263 77h4v1h-4zM268 77h1v1h-1zM255 59h9v1h-9zM255 61h9v1h-9zM255 65h9v1h-9zM255 68h9v1h-9zM255 72h9v1h-9zM255 74h9v1h-9zM266 56h1v4h-1zM266 61h1v5h-1zM266 68h1v5h-1zM266 74h1v4h-1z"/>
<path fill="none" stroke="#000" stroke-width="1" d="M138.5 141.5L144 144.5M138.5 147.5L144 144.5M161 153L166 146M191 152.5L196.5 149"/>
<path fill="#000" d="M204 80h66v1h-66zM204 105h66v1h-66z"/>
<path fill="#fff" d="M204 106h1v3h-1z"/>
<path fill="#000" d="M206 82h62v2h-62zM206 101h62v2h-62zM206 82h2v21h-2zM266 82h2v21h-2zM215 85h7v2h-7zM213 87h12v3h-12zM235 87h12v4h-12zM250 93h12v5h-12zM261 97h1v6h-1zM204 109h66v1h-66zM204 111h66v26h-66z"/>
<path fill="#fff" d="M205 113h3v1h-3zM209 113h5v1h-5zM215 113h4v1h-4zM220 113h4v1h-4zM205 120h3v1h-3zM209 120h5v1h-5zM215 120h4v1h-4zM220 120h4v1h-4zM205 127h3v1h-3zM209 127h5v1h-5zM215 127h4v1h-4zM220 127h4v1h-4zM207 118h9v1h-9zM207 122h9v1h-9zM207 129h9v1h-9zM207 131h9v1h-9zM218 113h1v3h-1zM220 113h2v3h-2zM218 118h1v5h-1zM220 118h2v5h-2zM218 125h1v5h-1zM220 125h2v5h-2zM218 131h1v3h-1zM220 131h2v3h-2zM221 113h3v1h-3zM225 113h5v1h-5zM231 113h4v1h-4zM236 113h4v1h-4zM221 120h3v1h-3zM225 120h5v1h-5zM231 120h4v1h-4zM236 120h4v1h-4zM221 127h3v1h-3zM225 127h5v1h-5zM231 127h4v1h-4zM236 127h4v1h-4zM223 118h9v1h-9zM223 122h9v1h-9zM223 129h9v1h-9zM223 131h9v1h-9zM234 113h1v3h-1zM236 113h2v3h-2zM234 118h1v5h-1zM236 118h2v5h-2zM234 125h1v5h-1zM236 125h2v5h-2zM234 131h1v3h-1zM236 131h2v3h-2zM237 113h3v1h-3zM241 113h5v1h-5zM247 113h4v1h-4zM252 113h4v1h-4zM237 120h3v1h-3zM241 120h5v1h-5zM247 120h4v1h-4zM252 120h4v1h-4zM237 127h3v1h-3zM241 127h5v1h-5zM247 127h4v1h-4zM252 127h4v1h-4zM239 118h9v1h-9zM239 122h9v1h-9zM239 129h9v1h-9zM239 131h9v1h-9zM250 113h1v3h-1zM252 113h2v3h-2zM250 118h1v5h-1zM252 118h2v5h-2zM250 125h1v5h-1zM252 125h2v5h-2zM250 131h1v3h-1zM252 131h2v3h-2zM253 113h3v1h-3zM257 113h5v1h-5zM263 113h4v1h-4zM268 113h1v1h-1zM253 120h3v1h-3zM257 120h5v1h-5zM263 120h4v1h-4zM268 120h1v1h-1zM253 127h3v1h-3zM257 127h5v1h-5zM263 127h4v1h-4zM268 127h1v1h-1zM255 118h9v1h-9zM255 122h9v1h-9zM255 129h9v1h-9zM255 131h9v1h-9zM266 113h1v3h-1zM266 118h1v5h-1zM266 125h1v5h-1zM266 131h1v3h-1z"/>
<path fill="none" stroke="#000" stroke-width="1" d="M207.5 84.5L213 87.5M207.5 90.5L213 87.5M230 96L235 89M261 95.5L266.5 92"/>
<path fill="#000" d="M204 137h66v1h-66zM206 139h62v2h-62zM206 139h2v20h-2zM266 139h2v20h-2zM215 142h7v2h-7zM213 144h12v3h-12zM235 144h12v4h-12zM250 150h12v5h-12zM261 154h1v5h-1zM274 52h65v1h-65zM274 54h65v26h-65z"/>
<path fill="#fff" d="M275 56h3v1h-3zM279 56h5v1h-5zM285 56h4v1h-4zM290 56h4v1h-4zM275 63h3v1h-3zM279 63h5v1h-5zM285 63h4v1h-4zM290 63h4v1h-4zM275 70h3v1h-3zM279 70h5v1h-5zM285 70h4v1h-4zM290 70h4v1h-4zM275 77h3v1h-3zM279 77h5v1h-5zM285 77h4v1h-4zM290 77h4v1h-4zM277 59h9v1h-9zM277 61h9v1h-9zM277 65h9v1h-9zM277 68h9v1h-9zM277 72h9v1h-9zM277 74h9v1h-9zM288 56h1v4h-1zM290 56h2v4h-2zM288 61h1v5h-1zM290 61h2v5h-2zM288 68h1v5h-1zM290 68h2v5h-2zM288 74h1v4h-1zM290 74h2v4h-2zM291 56h3v1h-3zM295 56h5v1h-5zM301 56h4v1h-4zM306 56h4v1h-4zM291 63h3v1h-3zM295 63h5v1h-5zM301 63h4v1h-4zM306 63h4v1h-4zM291 70h3v1h-3zM295 70h5v1h-5zM301 70h4v1h-4zM306 70h4v1h-4zM291 77h3v1h-3zM295 77h5v1h-5zM301 77h4v1h-4zM306 77h4v1h-4zM293 59h9v1h-9zM293 61h9v1h-9zM293 65h9v1h-9zM293 68h9v1h-9zM293 72h9v1h-9zM293 74h9v1h-9zM304 56h1v4h-1zM306 56h2v4h-2zM304 61h1v5h-1zM306 61h2v5h-2zM304 68h1v5h-1zM306 68h2v5h-2zM304 74h1v4h-1zM306 74h2v4h-2zM307 56h3v1h-3zM311 56h5v1h-5zM317 56h4v1h-4zM322 56h4v1h-4zM307 63h3v1h-3zM311 63h5v1h-5zM317 63h4v1h-4zM322 63h4v1h-4zM307 70h3v1h-3zM311 70h5v1h-5zM317 70h4v1h-4zM322 70h4v1h-4zM307 77h3v1h-3zM311 77h5v1h-5zM317 77h4v1h-4zM322 77h4v1h-4zM309 59h9v1h-9zM309 61h9v1h-9zM309 65h9v1h-9zM309 68h9v1h-9zM309 72h9v1h-9zM309 74h9v1h-9zM320 56h1v4h-1zM322 56h2v4h-2zM320 61h1v5h-1zM322 61h2v5h-2zM320 68h1v5h-1zM322 68h2v5h-2zM320 74h1v4h-1zM322 74h2v4h-2zM322 56h3v1h-3zM326 56h5v1h-5zM332 56h4v1h-4zM337 56h1v1h-1zM322 63h3v1h-3zM326 63h5v1h-5zM332 63h4v1h-4zM337 63h1v1h-1zM322 70h3v1h-3zM326 70h5v1h-5zM332 70h4v1h-4zM337 70h1v1h-1zM322 77h3v1h-3zM326 77h5v1h-5zM332 77h4v1h-4zM337 77h1v1h-1zM324 59h9v1h-9zM324 61h9v1h-9zM324 65h9v1h-9zM324 68h9v1h-9zM324 72h9v1h-9zM324 74h9v1h-9zM335 56h1v4h-1zM335 61h1v5h-1zM335 68h1v5h-1zM335 74h1v4h-1z"/>
<path fill="none" stroke="#000" stroke-width="1" d="M207.5 141.5L213 144.5M207.5 147.5L213 144.5M230 153L235 146M261 152.5L266.5 149"/>
<path fill="#000" d="M274 80h65v1h-65zM274 105h65v1h-65z"/>
<path fill="#fff" d="M274 106h1v3h-1z"/>
<path fill="#000" d="M276 82h61v2h-61zM276 101h61v2h-61zM276 82h2v21h-2zM335 82h2v21h-2zM285 85h7v2h-7zM283 87h12v3h-12zM305 87h12v4h-12zM319 93h12v5h-12zM330 97h1v6h-1zM274 109h65v1h-65zM274 111h65v26h-65z"/>
<path fill="#fff" d="M275 113h3v1h-3zM279 113h5v1h-5zM285 113h4v1h-4zM290 113h4v1h-4zM275 120h3v1h-3zM279 120h5v1h-5zM285 120h4v1h-4zM290 120h4v1h-4zM275 127h3v1h-3zM279 127h5v1h-5zM285 127h4v1h-4zM290 127h4v1h-4zM277 118h9v1h-9zM277 122h9v1h-9zM277 129h9v1h-9zM277 131h9v1h-9zM288 113h1v3h-1zM290 113h2v3h-2zM288 118h1v5h-1zM290 118h2v5h-2zM288 125h1v5h-1zM290 125h2v5h-2zM288 131h1v3h-1zM290 131h2v3h-2zM291 113h3v1h-3zM295 113h5v1h-5zM301 113h4v1h-4zM306 113h4v1h-4zM291 120h3v1h-3zM295 120h5v1h-5zM301 120h4v1h-4zM306 120h4v1h-4zM291 127h3v1h-3zM295 127h5v1h-5zM301 127h4v1h-4zM306 127h4v1h-4zM293 118h9v1h-9zM293 122h9v1h-9zM293 129h9v1h-9zM293 131h9v1h-9zM304 113h1v3h-1zM306 113h2v3h-2zM304 118h1v5h-1zM306 118h2v5h-2zM304 125h1v5h-1zM306 125h2v5h-2zM304 131h1v3h-1zM306 131h2v3h-2zM307 113h3v1h-3zM311 113h5v1h-5zM317 113h4v1h-4zM322 113h4v1h-4zM307 120h3v1h-3zM311 120h5v1h-5zM317 120h4v1h-4zM322 120h4v1h-4zM307 127h3v1h-3zM311 127h5v1h-5zM317 127h4v1h-4zM322 127h4v1h-4zM309 118h9v1h-9zM309 122h9v1h-9zM309 129h9v1h-9zM309 131h9v1h-9zM320 113h1v3h-1zM322 113h2v3h-2zM320 118h1v5h-1zM322 118h2v5h-2zM320 125h1v5h-1zM322 125h2v5h-2zM320 131h1v3h-1zM322 131h2v3h-2zM322 113h3v1h-3zM326 113h5v1h-5zM332 113h4v1h-4zM337 113h1v1h-1zM322 120h3v1h-3zM326 120h5v1h-5zM332 120h4v1h-4zM337 120h1v1h-1zM322 127h3v1h-3zM326 127h5v1h-5zM332 127h4v1h-4zM337 127h1v1h-1zM324 118h9v1h-9zM324 122h9v1h-9zM324 129h9v1h-9zM324 131h9v1h-9zM335 113h1v3h-1zM335 118h1v5h-1zM335 125h1v5h-1zM335 131h1v3h-1z"/>
<path fill="none" stroke="#000" stroke-width="1" d="M277.5 84.5L283 87.5M277.5 90.5L283 87.5M300 96L305 89M330 95.5L335.5 92"/>
<path fill="#000" d="M274 137h65v1h-65zM276 139h61v2h-61zM276 139h2v20h-2zM335 139h2v20h-2zM285 142h7v2h-7zM283 144h12v3h-12zM305 144h12v4h-12zM319 150h12v5h-12zM330 154h1v5h-1zM343 52h66v1h-66zM343 54h66v26h-66z"/>
<path fill="#fff" d="M344 56h3v1h-3zM348 56h5v1h-5zM354 56h4v1h-4zM359 56h4v1h-4zM344 63h3v1h-3zM348 63h5v1h-5zM354 63h4v1h-4zM359 63h4v1h-4zM344 70h3v1h-3zM348 70h5v1h-5zM354 70h4v1h-4zM359 70h4v1h-4zM344 77h3v1h-3zM348 77h5v1h-5zM354 77h4v1h-4zM359 77h4v1h-4zM346 59h9v1h-9zM346 61h9v1h-9zM346 65h9v1h-9zM346 68h9v1h-9zM346 72h9v1h-9zM346 74h9v1h-9zM357 56h1v4h-1zM359 56h2v4h-2zM357 61h1v5h-1zM359 61h2v5h-2zM357 68h1v5h-1zM359 68h2v5h-2zM357 74h1v4h-1zM359 74h2v4h-2zM360 56h3v1h-3zM364 56h5v1h-5zM370 56h4v1h-4zM375 56h4v1h-4zM360 63h3v1h-3zM364 63h5v1h-5zM370 63h4v1h-4zM375 63h4v1h-4zM360 70h3v1h-3zM364 70h5v1h-5zM370 70h4v1h-4zM375 70h4v1h-4zM360 77h3v1h-3zM364 77h5v1h-5zM370 77h4v1h-4zM375 77h4v1h-4zM362 59h9v1h-9zM362 61h9v1h-9zM362 65h9v1h-9zM362 68h9v1h-9zM362 72h9v1h-9zM362 74h9v1h-9zM373 56h1v4h-1zM375 56h2v4h-2zM373 61h1v5h-1zM375 61h2v5h-2zM373 68h1v5h-1zM375 68h2v5h-2zM373 74h1v4h-1zM375 74h2v4h-2zM376 56h3v1h-3zM380 56h5v1h-5zM386 56h4v1h-4zM391 56h4v1h-4zM376 63h3v1h-3zM380 63h5v1h-5zM386 63h4v1h-4zM391 63h4v1h-4zM376 70h3v1h-3zM380 70h5v1h-5zM386 70h4v1h-4zM391 70h4v1h-4zM376 77h3v1h-3zM380 77h5v1h-5zM386 77h4v1h-4zM391 77h4v1h-4zM378 59h9v1h-9zM378 61h9v1h-9zM378 65h9v1h-9zM378 68h9v1h-9zM378 72h9v1h-9zM378 74h9v1h-9zM389 56h1v4h-1zM391 56h2v4h-2zM389 61h1v5h-1zM391 61h2v5h-2zM389 68h1v5h-1zM391 68h2v5h-2zM389 74h1v4h-1zM391 74h2v4h-2zM392 56h3v1h-3zM396 56h5v1h-5zM402 56h4v1h-4zM407 56h1v1h-1zM392 63h3v1h-3zM396 63h5v1h-5zM402 63h4v1h-4zM407 63h1v1h-1zM392 70h3v1h-3zM396 70h5v1h-5zM402 70h4v1h-4zM407 70h1v1h-1zM392 77h3v1h-3zM396 77h5v1h-5zM402 77h4v1h-4zM407 77h1v1h-1zM394 59h9v1h-9zM394 61h9v1h-9zM394 65h9v1h-9zM394 68h9v1h-9zM394 72h9v1h-9zM394 74h9v1h-9zM405 56h1v4h-1zM405 61h1v5h-1zM405 68h1v5h-1zM405 74h1v4h-1z"/>
<path fill="none" stroke="#000" stroke-width="1" d="M277.5 141.5L283 144.5M277.5 147.5L283 144.5M300 153L305 146M330 152.5L335.5 149"/>
<path fill="#000" d="M343 80h66v1h-66zM343 105h66v1h-66z"/>
<path fill="#fff" d="M343 106h1v3h-1z"/>
<path fill="#000" d="M345 82h62v2h-62zM345 101h62v2h-62zM345 82h2v21h-2zM405 82h2v21h-2zM354 85h7v2h-7zM352 87h12v3h-12zM374 87h12v4h-12zM389 93h12v5h-12zM400 97h1v6h-1zM343 109h66v1h-66zM343 111h66v26h-66z"/>
<path fill="#fff" d="M344 113h3v1h-3zM348 113h5v1h-5zM354 113h4v1h-4zM359 113h4v1h-4zM344 120h3v1h-3zM348 120h5v1h-5zM354 120h4v1h-4zM359 120h4v1h-4zM344 127h3v1h-3zM348 127h5v1h-5zM354 127h4v1h-4zM359 127h4v1h-4zM346 118h9v1h-9zM346 122h9v1h-9zM346 129h9v1h-9zM346 131h9v1h-9zM357 113h1v3h-1zM359 113h2v3h-2zM357 118h1v5h-1zM359 118h2v5h-2zM357 125h1v5h-1zM359 125h2v5h-2zM357 131h1v3h-1zM359 131h2v3h-2zM360 113h3v1h-3zM364 113h5v1h-5zM370 113h4v1h-4zM375 113h4v1h-4zM360 120h3v1h-3zM364 120h5v1h-5zM370 120h4v1h-4zM375 120h4v1h-4zM360 127h3v1h-3zM364 127h5v1h-5zM370 127h4v1h-4zM375 127h4v1h-4zM362 118h9v1h-9zM362 122h9v1h-9zM362 129h9v1h-9zM362 131h9v1h-9zM373 113h1v3h-1zM375 113h2v3h-2zM373 118h1v5h-1zM375 118h2v5h-2zM373 125h1v5h-1zM375 125h2v5h-2zM373 131h1v3h-1zM375 131h2v3h-2zM376 113h3v1h-3zM380 113h5v1h-5zM386 113h4v1h-4zM391 113h4v1h-4zM376 120h3v1h-3zM380 120h5v1h-5zM386 120h4v1h-4zM391 120h4v1h-4zM376 127h3v1h-3zM380 127h5v1h-5zM386 127h4v1h-4zM391 127h4v1h-4zM378 118h9v1h-9zM378 122h9v1h-9zM378 129h9v1h-9zM378 131h9v1h-9zM389 113h1v3h-1zM391 113h2v3h-2zM389 118h1v5h-1zM391 118h2v5h-2zM389 125h1v5h-1zM391 125h2v5h-2zM389 131h1v3h-1zM391 131h2v3h-2zM392 113h3v1h-3zM396 113h5v1h-5zM402 113h4v1h-4zM407 113h1v1h-1zM392 120h3v1h-3zM396 120h5v1h-5zM402 120h4v1h-4zM407 120h1v1h-1zM392 127h3v1h-3zM396 127h5v1h-5zM402 127h4v1h-4zM407 127h1v1h-1zM394 118h9v1h-9zM394 122h9v1h-9zM394 129h9v1h-9zM394 131h9v1h-9zM405 113h1v3h-1zM405 118h1v5h-1zM405 125h1v5h-1zM405 131h1v3h-1z"/>
<path fill="none" stroke="#000" stroke-width="1" d="M346.5 84.5L352 87.5M346.5 90.5L352 87.5M369 96L374 89M400 95.5L405.5 92"/>
<path fill="#000" d="M343 137h66v1h-66zM345 139h62v2h-62zM345 139h2v20h-2zM405 139h2v20h-2zM354 142h7v2h-7zM352 144h12v3h-12zM374 144h12v4h-12zM389 150h12v5h-12zM400 154h1v5h-1zM413 52h65v1h-65zM413 54h65v26h-65z"/>
<path fill="#fff" d="M414 56h3v1h-3zM418 56h5v1h-5zM424 56h4v1h-4zM429 56h4v1h-4zM414 63h3v1h-3zM418 63h5v1h-5zM424 63h4v1h-4zM429 63h4v1h-4zM414 70h3v1h-3zM418 70h5v1h-5zM424 70h4v1h-4zM429 70h4v1h-4zM414 77h3v1h-3zM418 77h5v1h-5zM424 77h4v1h-4zM429 77h4v1h-4zM416 59h9v1h-9zM416 61h9v1h-9zM416 65h9v1h-9zM416 68h9v1h-9zM416 72h9v1h-9zM416 74h9v1h-9zM427 56h1v4h-1zM429 56h2v4h-2zM427 61h1v5h-1zM429 61h2v5h-2zM427 68h1v5h-1zM429 68h2v5h-2zM427 74h1v4h-1zM429 74h2v4h-2zM430 56h3v1h-3zM434 56h5v1h-5zM440 56h4v1h-4zM445 56h4v1h-4zM430 63h3v1h-3zM434 63h5v1h-5zM440 63h4v1h-4zM445 63h4v1h-4zM430 70h3v1h-3zM434 70h5v1h-5zM440 70h4v1h-4zM445 70h4v1h-4zM430 77h3v1h-3zM434 77h5v1h-5zM440 77h4v1h-4zM445 77h4v1h-4zM432 59h9v1h-9zM432 61h9v1h-9zM432 65h9v1h-9zM432 68h9v1h-9zM432 72h9v1h-9zM432 74h9v1h-9zM443 56h1v4h-1zM445 56h2v4h-2zM443 61h1v5h-1zM445 61h2v5h-2zM443 68h1v5h-1zM445 68h2v5h-2zM443 74h1v4h-1zM445 74h2v4h-2zM446 56h3v1h-3zM450 56h5v1h-5zM456 56h4v1h-4zM461 56h4v1h-4zM446 63h3v1h-3zM450 63h5v1h-5zM456 63h4v1h-4zM461 63h4v1h-4zM446 70h3v1h-3zM450 70h5v1h-5zM456 70h4v1h-4zM461 70h4v1h-4zM446 77h3v1h-3zM450 77h5v1h-5zM456 77h4v1h-4zM461 77h4v1h-4zM448 59h9v1h-9zM448 61h9v1h-9zM448 65h9v1h-9zM448 68h9v1h-9zM448 72h9v1h-9zM448 74h9v1h-9zM459 56h1v4h-1zM461 56h2v4h-2zM459 61h1v5h-1zM461 61h2v5h-2zM459 68h1v5h-1zM461 68h2v5h-2zM459 74h1v4h-1zM461 74h2v4h-2zM461 56h3v1h-3zM465 56h5v1h-5zM471 56h4v1h-4zM476 56h1v1h-1zM461 63h3v1h-3zM465 63h5v1h-5zM471 63h4v1h-4zM476 63h1v1h-1zM461 70h3v1h-3zM465 70h5v1h-5zM471 70h4v1h-4zM476 70h1v1h-1zM461 77h3v1h-3zM465 77h5v1h-5zM471 77h4v1h-4zM476 77h1v1h-1zM463 59h9v1h-9zM463 61h9v1h-9zM463 65h9v1h-9zM463 68h9v1h-9zM463 72h9v1h-9zM463 74h9v1h-9zM474 56h1v4h-1zM474 61h1v5h-1zM474 68h1v5h-1zM474 74h1v4h-1z"/>
<path fill="none" stroke="#000" stroke-width="1" d="M346.5 141.5L352 144.5M346.5 147.5L352 144.5M369 153L374 146M400 152.5L405.5 149"/>
<path fill="#000" d="M413 80h65v1h-65zM413 105h65v1h-65z"/>
<path fill="#fff" d="M413 106h1v3h-1z"/>
<path fill="#000" d="M415 82h61v2h-61zM415 101h61v2h-61zM415 82h2v21h-2zM474 82h2v21h-2zM424 85h7v2h-7zM422 87h12v3h-12zM444 87h12v4h-12zM458 93h12v5h-12zM469 97h1v6h-1zM413 109h65v1h-65zM413 111h65v26h-65z"/>
<path fill="#fff" d="M414 113h3v1h-3zM418 113h5v1h-5zM424 113h4v1h-4zM429 113h4v1h-4zM414 120h3v1h-3zM418 120h5v1h-5zM424 120h4v1h-4zM429 120h4v1h-4zM414 127h3v1h-3zM418 127h5v1h-5zM424 127h4v1h-4zM429 127h4v1h-4zM416 118h9v1h-9zM416 122h9v1h-9zM416 129h9v1h-9zM416 131h9v1h-9zM427 113h1v3h-1zM429 113h2v3h-2zM427 118h1v5h-1zM429 118h2v5h-2zM427 125h1v5h-1zM429 125h2v5h-2zM427 131h1v3h-1zM429 131h2v3h-2zM430 113h3v1h-3zM434 113h5v1h-5zM440 113h4v1h-4zM445 113h4v1h-4zM430 120h3v1h-3zM434 120h5v1h-5zM440 120h4v1h-4zM445 120h4v1h-4zM430 127h3v1h-3zM434 127h5v1h-5zM440 127h4v1h-4zM445 127h4v1h-4zM432 118h9v1h-9zM432 122h9v1h-9zM432 129h9v1h-9zM432 131h9v1h-9zM443 113h1v3h-1zM445 113h2v3h-2zM443 118h1v5h-1zM445 118h2v5h-2zM443 125h1v5h-1zM445 125h2v5h-2zM443 131h1v3h-1zM445 131h2v3h-2zM446 113h3v1h-3zM450 113h5v1h-5zM456 113h4v1h-4zM461 113h4v1h-4zM446 120h3v1h-3zM450 120h5v1h-5zM456 120h4v1h-4zM461 120h4v1h-4zM446 127h3v1h-3zM450 127h5v1h-5zM456 127h4v1h-4zM461 127h4v1h-4zM448 118h9v1h-9zM448 122h9v1h-9zM448 129h9v1h-9zM448 131h9v1h-9zM459 113h1v3h-1zM461 113h2v3h-2zM459 118h1v5h-1zM461 118h2v5h-2zM459 125h1v5h-1zM461 125h2v5h-2zM459 131h1v3h-1zM461 131h2v3h-2zM461 113h3v1h-3zM465 113h5v1h-5zM471 113h4v1h-4zM476 113h1v1h-1zM461 120h3v1h-3zM465 120h5v1h-5zM471 120h4v1h-4zM476 120h1v1h-1zM461 127h3v1h-3zM465 127h5v1h-5zM471 127h4v1h-4zM476 127h1v1h-1zM463 118h9v1h-9zM463 122h9v1h-9zM463 129h9v1h-9zM463 131h9v1h-9zM474 113h1v3h-1zM474 118h1v5h-1zM474 125h1v5h-1zM474 131h1v3h-1z"/>
<path fill="none" stroke="#000" stroke-width="1" d="M416.5 84.5L422 87.5M416.5 90.5L422 87.5M439 96L444 89M469 95.5L474.5 92"/>
<path fill="#000" d="M413 137h65v1h-65zM415 139h61v2h-61zM415 139h2v20h-2zM474 139h2v20h-2zM424 142h7v2h-7zM422 144h12v3h-12zM444 144h12v4h-12zM458 150h12v5h-12zM469 154h1v5h-1zM487 52h66v1h-66zM487 54h66v26h-66z"/>
<path fill="#fff" d="M488 56h3v1h-3zM492 56h5v1h-5zM498 56h4v1h-4zM503 56h4v1h-4zM488 63h3v1h-3zM492 63h5v1h-5zM498 63h4v1h-4zM503 63h4v1h-4zM488 70h3v1h-3zM492 70h5v1h-5zM498 70h4v1h-4zM503 70h4v1h-4zM488 77h3v1h-3zM492 77h5v1h-5zM498 77h4v1h-4zM503 77h4v1h-4zM490 59h9v1h-9zM490 61h9v1h-9zM490 65h9v1h-9zM490 68h9v1h-9zM490 72h9v1h-9zM490 74h9v1h-9zM501 56h1v4h-1zM503 56h2v4h-2zM501 61h1v5h-1zM503 61h2v5h-2zM501 68h1v5h-1zM503 68h2v5h-2zM501 74h1v4h-1zM503 74h2v4h-2zM504 56h3v1h-3zM508 56h5v1h-5zM514 56h4v1h-4zM519 56h4v1h-4zM504 63h3v1h-3zM508 63h5v1h-5zM514 63h4v1h-4zM519 63h4v1h-4zM504 70h3v1h-3zM508 70h5v1h-5zM514 70h4v1h-4zM519 70h4v1h-4zM504 77h3v1h-3zM508 77h5v1h-5zM514 77h4v1h-4zM519 77h4v1h-4zM506 59h9v1h-9zM506 61h9v1h-9zM506 65h9v1h-9zM506 68h9v1h-9zM506 72h9v1h-9zM506 74h9v1h-9zM517 56h1v4h-1zM519 56h2v4h-2zM517 61h1v5h-1zM519 61h2v5h-2zM517 68h1v5h-1zM519 68h2v5h-2zM517 74h1v4h-1zM519 74h2v4h-2zM520 56h3v1h-3zM524 56h5v1h-5zM530 56h4v1h-4zM535 56h4v1h-4zM520 63h3v1h-3zM524 63h5v1h-5zM530 63h4v1h-4zM535 63h4v1h-4zM520 70h3v1h-3zM524 70h5v1h-5zM530 70h4v1h-4zM535 70h4v1h-4zM520 77h3v1h-3zM524 77h5v1h-5zM530 77h4v1h-4zM535 77h4v1h-4zM522 59h9v1h-9zM522 61h9v1h-9zM522 65h9v1h-9zM522 68h9v1h-9zM522 72h9v1h-9zM522 74h9v1h-9zM533 56h1v4h-1zM535 56h2v4h-2zM533 61h1v5h-1zM535 61h2v5h-2zM533 68h1v5h-1zM535 68h2v5h-2zM533 74h1v4h-1zM535 74h2v4h-2zM536 56h3v1h-3zM540 56h5v1h-5zM546 56h4v1h-4zM551 56h1v1h-1zM536 63h3v1h-3zM540 63h5v1h-5zM546 63h4v1h-4zM551 63h1v1h-1zM536 70h3v1h-3zM540 70h5v1h-5zM546 70h4v1h-4zM551 70h1v1h-1zM536 77h3v1h-3zM540 77h5v1h-5zM546 77h4v1h-4zM551 77h1v1h-1zM538 59h9v1h-9zM538 61h9v1h-9zM538 65h9v1h-9zM538 68h9v1h-9zM538 72h9v1h-9zM538 74h9v1h-9zM549 56h1v4h-1zM549 61h1v5h-1zM549 68h1v5h-1zM549 74h1v4h-1z"/>
<path fill="none" stroke="#000" stroke-width="1" d="M416.5 141.5L422 144.5M416.5 147.5L422 144.5M439 153L444 146M469 152.5L474.5 149"/>
<path fill="#000" d="M487 80h66v1h-66zM487 105h66v1h-66z"/>
<path fill="#fff" d="M487 106h1v3h-1z"/>
<path fill="#000" d="M489 82h62v2h-62zM489 101h62v2h-62zM489 82h2v21h-2zM549 82h2v21h-2zM498 85h7v2h-7zM496 87h12v3h-12zM518 87h12v4h-12zM533 93h12v5h-12zM544 97h1v6h-1zM487 109h66v1h-66zM487 111h66v26h-66z"/>
<path fill="#fff" d="M488 113h3v1h-3zM492 113h5v1h-5zM498 113h4v1h-4zM503 113h4v1h-4zM488 120h3v1h-3zM492 120h5v1h-5zM498 120h4v1h-4zM503 120h4v1h-4zM488 127h3v1h-3zM492 127h5v1h-5zM498 127h4v1h-4zM503 127h4v1h-4zM490 118h9v1h-9zM490 122h9v1h-9zM490 129h9v1h-9zM490 131h9v1h-9zM501 113h1v3h-1zM503 113h2v3h-2zM501 118h1v5h-1zM503 118h2v5h-2zM501 125h1v5h-1zM503 125h2v5h-2zM501 131h1v3h-1zM503 131h2v3h-2zM504 113h3v1h-3zM508 113h5v1h-5zM514 113h4v1h-4zM519 113h4v1h-4zM504 120h3v1h-3zM508 120h5v1h-5zM514 120h4v1h-4zM519 120h4v1h-4zM504 127h3v1h-3zM508 127h5v1h-5zM514 127h4v1h-4zM519 127h4v1h-4zM506 118h9v1h-9zM506 122h9v1h-9zM506 129h9v1h-9zM506 131h9v1h-9zM517 113h1v3h-1zM519 113h2v3h-2zM517 118h1v5h-1zM519 118h2v5h-2zM517 125h1v5h-1zM519 125h2v5h-2zM517 131h1v3h-1zM519 131h2v3h-2zM520 113h3v1h-3zM524 113h5v1h-5zM530 113h4v1h-4zM535 113h4v1h-4zM520 120h3v1h-3zM524 120h5v1h-5zM530 120h4v1h-4zM535 120h4v1h-4zM520 127h3v1h-3zM524 127h5v1h-5zM530 127h4v1h-4zM535 127h4v1h-4zM522 118h9v1h-9zM522 122h9v1h-9zM522 129h9v1h-9zM522 131h9v1h-9zM533 113h1v3h-1zM535 113h2v3h-2zM533 118h1v5h-1zM535 118h2v5h-2zM533 125h1v5h-1zM535 125h2v5h-2zM533 131h1v3h-1zM535 131h2v3h-2zM536 113h3v1h-3zM540 113h5v1h-5zM546 113h4v1h-4zM551 113h1v1h-1zM536 120h3v1h-3zM540 120h5v1h-5zM546 120h4v1h-4zM551 120h1v1h-1zM536 127h3v1h-3zM540 127h5v1h-5zM546 127h4v1h-4zM551 127h1v1h-1zM538 118h9v1h-9zM538 122h9v1h-9zM538 129h9v1h-9zM538 131h9v1h-9zM549 113h1v3h-1zM549 118h1v5h-1zM549 125h1v5h-1zM549 131h1v3h-1z"/>
<path fill="none" stroke="#000" stroke-width="1" d="M490.5 84.5L496 87.5M490.5 90.5L496 87.5M513 96L518 89M544 95.5L549.5 92"/>
<path fill="#000" d="M487 137h66v1h-66zM489 139h62v2h-62zM489 139h2v20h-2zM549 139h2v20h-2zM498 142h7v2h-7zM496 144h12v3h-12zM518 144h12v4h-12zM533 150h12v5h-12zM544 154h1v5h-1zM557 52h65v1h-65zM557 54h65v26h-65z"/>
<path fill="#fff" d="M558 56h3v1h-3zM562 56h5v1h-5zM568 56h4v1h-4zM573 56h4v1h-4zM558 63h3v1h-3zM562 63h5v1h-5zM568 63h4v1h-4zM573 63h4v1h-4zM558 70h3v1h-3zM562 70h5v1h-5zM568 70h4v1h-4zM573 70h4v1h-4zM558 77h3v1h-3zM562 77h5v1h-5zM568 77h4v1h-4zM573 77h4v1h-4zM560 59h9v1h-9zM560 61h9v1h-9zM560 65h9v1h-9zM560 68h9v1h-9zM560 72h9v1h-9zM560 74h9v1h-9zM571 56h1v4h-1zM573 56h2v4h-2zM571 61h1v5h-1zM573 61h2v5h-2zM571 68h1v5h-1zM573 68h2v5h-2zM571 74h1v4h-1zM573 74h2v4h-2zM574 56h3v1h-3zM578 56h5v1h-5zM584 56h4v1h-4zM589 56h4v1h-4zM574 63h3v1h-3zM578 63h5v1h-5zM584 63h4v1h-4zM589 63h4v1h-4zM574 70h3v1h-3zM578 70h5v1h-5zM584 70h4v1h-4zM589 70h4v1h-4zM574 77h3v1h-3zM578 77h5v1h-5zM584 77h4v1h-4zM589 77h4v1h-4zM576 59h9v1h-9zM576 61h9v1h-9zM576 65h9v1h-9zM576 68h9v1h-9zM576 72h9v1h-9zM576 74h9v1h-9zM587 56h1v4h-1zM589 56h2v4h-2zM587 61h1v5h-1zM589 61h2v5h-2zM587 68h1v5h-1zM589 68h2v5h-2zM587 74h1v4h-1zM589 74h2v4h-2zM590 56h3v1h-3zM594 56h5v1h-5zM600 56h4v1h-4zM605 56h4v1h-4zM590 63h3v1h-3zM594 63h5v1h-5zM600 63h4v1h-4zM605 63h4v1h-4zM590 70h3v1h-3zM594 70h5v1h-5zM600 70h4v1h-4zM605 70h4v1h-4zM590 77h3v1h-3zM594 77h5v1h-5zM600 77h4v1h-4zM605 77h4v1h-4zM592 59h9v1h-9zM592 61h9v1h-9zM592 65h9v1h-9zM592 68h9v1h-9zM592 72h9v1h-9zM592 74h9v1h-9zM603 56h1v4h-1zM605 56h2v4h-2zM603 61h1v5h-1zM605 61h2v5h-2zM603 68h1v5h-1zM605 68h2v5h-2zM603 74h1v4h-1zM605 74h2v4h-2zM605 56h3v1h-3zM609 56h5v1h-5zM615 56h4v1h-4zM620 56h1v1h-1zM605 63h3v1h-3zM609 63h5v1h-5zM615 63h4v1h-4zM620 63h1v1h-1zM605 70h3v1h-3zM609 70h5v1h-5zM615 70h4v1h-4zM620 70h1v1h-1zM605 77h3v1h-3zM609 77h5v1h-5zM615 77h4v1h-4zM620 77h1v1h-1zM607 59h9v1h-9zM607 61h9v1h-9zM607 65h9v1h-9zM607 68h9v1h-9zM607 72h9v1h-9zM607 74h9v1h-9zM618 56h1v4h-1zM618 61h1v5h-1zM618 68h1v5h-1zM618 74h1v4h-1z"/>
<path fill="none" stroke="#000" stroke-width="1" d="M490.5 141.5L496 144.5M490.5 147.5L496 144.5M513 153L518 146M544 152.5L549.5 149"/>
<path fill="#000" d="M557 80h65v1h-65zM557 105h65v1h-65z"/>
<path fill="#fff" d="M557 106h1v3h-1z"/>
<path fill="#000" d="M559 82h61v2h-61zM559 101h61v2h-61zM559 82h2v21h-2zM618 82h2v21h-2zM605 85h7v2h-7zM602 87h12v3h-12zM587 87h12v4h-12zM566 93h12v5h-12zM557 109h65v1h-65zM557 111h65v26h-65z"/>
<path fill="#fff" d="M558 113h3v1h-3zM562 113h5v1h-5zM568 113h4v1h-4zM573 113h4v1h-4zM558 120h3v1h-3zM562 120h5v1h-5zM568 120h4v1h-4zM573 120h4v1h-4zM558 127h3v1h-3zM562 127h5v1h-5zM568 127h4v1h-4zM573 127h4v1h-4zM560 118h9v1h-9zM560 122h9v1h-9zM560 129h9v1h-9zM560 131h9v1h-9zM571 113h1v3h-1zM573 113h2v3h-2zM571 118h1v5h-1zM573 118h2v5h-2zM571 125h1v5h-1zM573 125h2v5h-2zM571 131h1v3h-1zM573 131h2v3h-2zM574 113h3v1h-3zM578 113h5v1h-5zM584 113h4v1h-4zM589 113h4v1h-4zM574 120h3v1h-3zM578 120h5v1h-5zM584 120h4v1h-4zM589 120h4v1h-4zM574 127h3v1h-3zM578 127h5v1h-5zM584 127h4v1h-4zM589 127h4v1h-4zM576 118h9v1h-9zM576 122h9v1h-9zM576 129h9v1h-9zM576 131h9v1h-9zM587 113h1v3h-1zM589 113h2v3h-2zM587 118h1v5h-1zM589 118h2v5h-2zM587 125h1v5h-1zM589 125h2v5h-2zM587 131h1v3h-1zM589 131h2v3h-2zM590 113h3v1h-3zM594 113h5v1h-5zM600 113h4v1h-4zM605 113h4v1h-4zM590 120h3v1h-3zM594 120h5v1h-5zM600 120h4v1h-4zM605 120h4v1h-4zM590 127h3v1h-3zM594 127h5v1h-5zM600 127h4v1h-4zM605 127h4v1h-4zM592 118h9v1h-9zM592 122h9v1h-9zM592 129h9v1h-9zM592 131h9v1h-9zM603 113h1v3h-1zM605 113h2v3h-2zM603 118h1v5h-1zM605 118h2v5h-2zM603 125h1v5h-1zM605 125h2v5h-2zM603 131h1v3h-1zM605 131h2v3h-2zM605 113h3v1h-3zM609 113h5v1h-5zM615 113h4v1h-4zM620 113h1v1h-1zM605 120h3v1h-3zM609 120h5v1h-5zM615 120h4v1h-4zM620 120h1v1h-1zM605 127h3v1h-3zM609 127h5v1h-5zM615 127h4v1h-4zM620 127h1v1h-1zM607 118h9v1h-9zM607 122h9v1h-9zM607 129h9v1h-9zM607 131h9v1h-9zM618 113h1v3h-1zM618 118h1v5h-1zM618 125h1v5h-1zM618 131h1v3h-1z"/>
<path fill="none" stroke="#000" stroke-width="1" d="M618.5 84.5L613 87.5M618.5 90.5L613 87.5M598 89L603 96M566 95.5L560.5 92M566 96L560.5 101"/>
<path fill="#000" d="M557 137h65v1h-65zM559 139h61v2h-61zM559 139h2v20h-2zM618 139h2v20h-2zM568 142h7v2h-7zM566 144h12v3h-12zM588 144h12v4h-12zM602 150h12v5h-12zM613 154h1v5h-1zM626 52h66v1h-66zM626 54h66v26h-66z"/>
<path fill="#fff" d="M627 56h3v1h-3zM631 56h5v1h-5zM637 56h4v1h-4zM642 56h4v1h-4zM627 63h3v1h-3zM631 63h5v1h-5zM637 63h4v1h-4zM642 63h4v1h-4zM627 70h3v1h-3zM631 70h5v1h-5zM637 70h4v1h-4zM642 70h4v1h-4zM627 77h3v1h-3zM631 77h5v1h-5zM637 77h4v1h-4zM642 77h4v1h-4zM629 59h9v1h-9zM629 61h9v1h-9zM629 65h9v1h-9zM629 68h9v1h-9zM629 72h9v1h-9zM629 74h9v1h-9zM640 56h1v4h-1zM642 56h2v4h-2zM640 61h1v5h-1zM642 61h2v5h-2zM640 68h1v5h-1zM642 68h2v5h-2zM640 74h1v4h-1zM642 74h2v4h-2zM643 56h3v1h-3zM647 56h5v1h-5zM653 56h4v1h-4zM658 56h4v1h-4zM643 63h3v1h-3zM647 63h5v1h-5zM653 63h4v1h-4zM658 63h4v1h-4zM643 70h3v1h-3zM647 70h5v1h-5zM653 70h4v1h-4zM658 70h4v1h-4zM643 77h3v1h-3zM647 77h5v1h-5zM653 77h4v1h-4zM658 77h4v1h-4zM645 59h9v1h-9zM645 61h9v1h-9zM645 65h9v1h-9zM645 68h9v1h-9zM645 72h9v1h-9zM645 74h9v1h-9zM656 56h1v4h-1zM658 56h2v4h-2zM656 61h1v5h-1zM658 61h2v5h-2zM656 68h1v5h-1zM658 68h2v5h-2zM656 74h1v4h-1zM658 74h2v4h-2zM659 56h3v1h-3zM663 56h5v1h-5zM669 56h4v1h-4zM674 56h4v1h-4zM659 63h3v1h-3zM663 63h5v1h-5zM669 63h4v1h-4zM674 63h4v1h-4zM659 70h3v1h-3zM663 70h5v1h-5zM669 70h4v1h-4zM674 70h4v1h-4zM659 77h3v1h-3zM663 77h5v1h-5zM669 77h4v1h-4zM674 77h4v1h-4zM661 59h9v1h-9zM661 61h9v1h-9zM661 65h9v1h-9zM661 68h9v1h-9zM661 72h9v1h-9zM661 74h9v1h-9zM672 56h1v4h-1zM674 56h2v4h-2zM672 61h1v5h-1zM674 61h2v5h-2zM672 68h1v5h-1zM674 68h2v5h-2zM672 74h1v4h-1zM674 74h2v4h-2zM675 56h3v1h-3zM679 56h5v1h-5zM685 56h4v1h-4zM690 56h1v1h-1zM675 63h3v1h-3zM679 63h5v1h-5zM685 63h4v1h-4zM690 63h1v1h-1zM675 70h3v1h-3zM679 70h5v1h-5zM685 70h4v1h-4zM690 70h1v1h-1zM675 77h3v1h-3zM679 77h5v1h-5zM685 77h4v1h-4zM690 77h1v1h-1zM677 59h9v1h-9zM677 61h9v1h-9zM677 65h9v1h-9zM677 68h9v1h-9zM677 72h9v1h-9zM677 74h9v1h-9zM688 56h1v4h-1zM688 61h1v5h-1zM688 68h1v5h-1zM688 74h1v4h-1z"/>
<path fill="none" stroke="#000" stroke-width="1" d="M560.5 141.5L566 144.5M560.5 147.5L566 144.5M583 153L588 146M613 152.5L618.5 149"/>
<path fill="#000" d="M626 80h66v1h-66zM626 105h66v1h-66z"/>
<path fill="#fff" d="M626 106h1v3h-1z"/>
<path fill="#000" d="M628 82h62v2h-62zM628 101h62v2h-62zM628 82h2v21h-2zM688 82h2v21h-2zM637 85h7v2h-7zM635 87h12v3h-12zM657 87h12v4h-12zM672 93h12v5h-12zM683 97h1v6h-1zM626 109h66v1h-66zM626 111h66v26h-66z"/>
<path fill="#fff" d="M627 113h3v1h-3zM631 113h5v1h-5zM637 113h4v1h-4zM642 113h4v1h-4zM627 120h3v1h-3zM631 120h5v1h-5zM637 120h4v1h-4zM642 120h4v1h-4zM627 127h3v1h-3zM631 127h5v1h-5zM637 127h4v1h-4zM642 127h4v1h-4zM629 118h9v1h-9zM629 122h9v1h-9zM629 129h9v1h-9zM629 131h9v1h-9zM640 113h1v3h-1zM642 113h2v3h-2zM640 118h1v5h-1zM642 118h2v5h-2zM640 125h1v5h-1zM642 125h2v5h-2zM640 131h1v3h-1zM642 131h2v3h-2zM643 113h3v1h-3zM647 113h5v1h-5zM653 113h4v1h-4zM658 113h4v1h-4zM643 120h3v1h-3zM647 120h5v1h-5zM653 120h4v1h-4zM658 120h4v1h-4zM643 127h3v1h-3zM647 127h5v1h-5zM653 127h4v1h-4zM658 127h4v1h-4zM645 118h9v1h-9zM645 122h9v1h-9zM645 129h9v1h-9zM645 131h9v1h-9zM656 113h1v3h-1zM658 113h2v3h-2zM656 118h1v5h-1zM658 118h2v5h-2zM656 125h1v5h-1zM658 125h2v5h-2zM656 131h1v3h-1zM658 131h2v3h-2zM659 113h3v1h-3zM663 113h5v1h-5zM669 113h4v1h-4zM674 113h4v1h-4zM659 120h3v1h-3zM663 120h5v1h-5zM669 120h4v1h-4zM674 120h4v1h-4zM659 127h3v1h-3zM663 127h5v1h-5zM669 127h4v1h-4zM674 127h4v1h-4zM661 118h9v1h-9zM661 122h9v1h-9zM661 129h9v1h-9zM661 131h9v1h-9zM672 113h1v3h-1zM674 113h2v3h-2zM672 118h1v5h-1zM674 118h2v5h-2zM672 125h1v5h-1zM674 125h2v5h-2zM672 131h1v3h-1zM674 131h2v3h-2zM675 113h3v1h-3zM679 113h5v1h-5zM685 113h4v1h-4zM690 113h1v1h-1zM675 120h3v1h-3zM679 120h5v1h-5zM685 120h4v1h-4zM690 120h1v1h-1zM675 127h3v1h-3zM679 127h5v1h-5zM685 127h4v1h-4zM690 127h1v1h-1zM677 118h9v1h-9zM677 122h9v1h-9zM677 129h9v1h-9zM677 131h9v1h-9zM688 113h1v3h-1zM688 118h1v5h-1zM688 125h1v5h-1zM688 131h1v3h-1z"/>
<path fill="none" stroke="#000" stroke-width="1" d="M629.5 84.5L635 87.5M629.5 90.5L635 87.5M652 96L657 89M683 95.5L688.5 92"/>
<path fill="#000" d="M626 137h66v1h-66zM628 139h62v2h-62zM628 139h2v20h-2zM688 139h2v20h-2zM637 142h7v2h-7zM635 144h12v3h-12zM657 144h12v4h-12zM672 150h12v5h-12zM683 154h1v5h-1zM696 52h65v1h-65zM696 54h65v26h-65z"/>
<path fill="#fff" d="M697 56h3v1h-3zM701 56h5v1h-5zM707 56h4v1h-4zM712 56h4v1h-4zM697 63h3v1h-3zM701 63h5v1h-5zM707 63h4v1h-4zM712 63h4v1h-4zM697 70h3v1h-3zM701 70h5v1h-5zM707 70h4v1h-4zM712 70h4v1h-4zM697 77h3v1h-3zM701 77h5v1h-5zM707 77h4v1h-4zM712 77h4v1h-4zM699 59h9v1h-9zM699 61h9v1h-9zM699 65h9v1h-9zM699 68h9v1h-9zM699 72h9v1h-9zM699 74h9v1h-9zM710 56h1v4h-1zM712 56h2v4h-2zM710 61h1v5h-1zM712 61h2v5h-2zM710 68h1v5h-1zM712 68h2v5h-2zM710 74h1v4h-1zM712 74h2v4h-2zM713 56h3v1h-3zM717 56h5v1h-5zM723 56h4v1h-4zM728 56h4v1h-4zM713 63h3v1h-3zM717 63h5v1h-5zM723 63h4v1h-4zM728 63h4v1h-4zM713 70h3v1h-3zM717 70h5v1h-5zM723 70h4v1h-4zM728 70h4v1h-4zM713 77h3v1h-3zM717 77h5v1h-5zM723 77h4v1h-4zM728 77h4v1h-4zM715 59h9v1h-9zM715 61h9v1h-9zM715 65h9v1h-9zM715 68h9v1h-9zM715 72h9v1h-9zM715 74h9v1h-9zM726 56h1v4h-1zM728 56h2v4h-2zM726 61h1v5h-1zM728 61h2v5h-2zM726 68h1v5h-1zM728 68h2v5h-2zM726 74h1v4h-1zM728 74h2v4h-2zM729 56h3v1h-3zM733 56h5v1h-5zM739 56h4v1h-4zM744 56h4v1h-4zM729 63h3v1h-3zM733 63h5v1h-5zM739 63h4v1h-4zM744 63h4v1h-4zM729 70h3v1h-3zM733 70h5v1h-5zM739 70h4v1h-4zM744 70h4v1h-4zM729 77h3v1h-3zM733 77h5v1h-5zM739 77h4v1h-4zM744 77h4v1h-4zM731 59h9v1h-9zM731 61h9v1h-9zM731 65h9v1h-9zM731 68h9v1h-9zM731 72h9v1h-9zM731 74h9v1h-9zM742 56h1v4h-1zM744 56h2v4h-2zM742 61h1v5h-1zM744 61h2v5h-2zM742 68h1v5h-1zM744 68h2v5h-2zM742 74h1v4h-1zM744 74h2v4h-2zM744 56h3v1h-3zM748 56h5v1h-5zM754 56h4v1h-4zM759 56h1v1h-1zM744 63h3v1h-3zM748 63h5v1h-5zM754 63h4v1h-4zM759 63h1v1h-1zM744 70h3v1h-3zM748 70h5v1h-5zM754 70h4v1h-4zM759 70h1v1h-1zM744 77h3v1h-3zM748 77h5v1h-5zM754 77h4v1h-4zM759 77h1v1h-1zM746 59h9v1h-9zM746 61h9v1h-9zM746 65h9v1h-9zM746 68h9v1h-9zM746 72h9v1h-9zM746 74h9v1h-9zM757 56h1v4h-1zM757 61h1v5h-1zM757 68h1v5h-1zM757 74h1v4h-1z"/>
<path fill="none" stroke="#000" stroke-width="1" d="M629.5 141.5L635 144.5M629.5 147.5L635 144.5M652 153L657 146M683 152.5L688.5 149"/>
<path fill="#000" d="M696 80h65v1h-65zM696 105h65v1h-65z"/>
<path fill="#fff" d="M696 106h1v3h-1z"/>
<path fill="#000" d="M698 82h61v2h-61zM698 101h61v2h-61zM698 82h2v21h-2zM757 82h2v21h-2zM744 85h7v2h-7zM741 87h12v3h-12zM726 87h12v4h-12zM705 93h12v5h-12zM696 109h65v1h-65zM696 111h65v26h-65z"/>
<path fill="#fff" d="M697 113h3v1h-3zM701 113h5v1h-5zM707 113h4v1h-4zM712 113h4v1h-4zM697 120h3v1h-3zM701 120h5v1h-5zM707 120h4v1h-4zM712 120h4v1h-4zM697 127h3v1h-3zM701 127h5v1h-5zM707 127h4v1h-4zM712 127h4v1h-4zM699 118h9v1h-9zM699 122h9v1h-9zM699 129h9v1h-9zM699 131h9v1h-9zM710 113h1v3h-1zM712 113h2v3h-2zM710 118h1v5h-1zM712 118h2v5h-2zM710 125h1v5h-1zM712 125h2v5h-2zM710 131h1v3h-1zM712 131h2v3h-2zM713 113h3v1h-3zM717 113h5v1h-5zM723 113h4v1h-4zM728 113h4v1h-4zM713 120h3v1h-3zM717 120h5v1h-5zM723 120h4v1h-4zM728 120h4v1h-4zM713 127h3v1h-3zM717 127h5v1h-5zM723 127h4v1h-4zM728 127h4v1h-4zM715 118h9v1h-9zM715 122h9v1h-9zM715 129h9v1h-9zM715 131h9v1h-9zM726 113h1v3h-1zM728 113h2v3h-2zM726 118h1v5h-1zM728 118h2v5h-2zM726 125h1v5h-1zM728 125h2v5h-2zM726 131h1v3h-1zM728 131h2v3h-2zM729 113h3v1h-3zM733 113h5v1h-5zM739 113h4v1h-4zM744 113h4v1h-4zM729 120h3v1h-3zM733 120h5v1h-5zM739 120h4v1h-4zM744 120h4v1h-4zM729 127h3v1h-3zM733 127h5v1h-5zM739 127h4v1h-4zM744 127h4v1h-4zM731 118h9v1h-9zM731 122h9v1h-9zM731 129h9v1h-9zM731 131h9v1h-9zM742 113h1v3h-1zM744 113h2v3h-2zM742 118h1v5h-1zM744 118h2v5h-2zM742 125h1v5h-1zM744 125h2v5h-2zM742 131h1v3h-1zM744 131h2v3h-2zM744 113h3v1h-3zM748 113h5v1h-5zM754 113h4v1h-4zM759 113h1v1h-1zM744 120h3v1h-3zM748 120h5v1h-5zM754 120h4v1h-4zM759 120h1v1h-1zM744 127h3v1h-3zM748 127h5v1h-5zM754 127h4v1h-4zM759 127h1v1h-1zM746 118h9v1h-9zM746 122h9v1h-9zM746 129h9v1h-9zM746 131h9v1h-9zM757 113h1v3h-1zM757 118h1v5h-1zM757 125h1v5h-1zM757 131h1v3h-1z"/>
<path fill="none" stroke="#000" stroke-width="1" d="M757.5 84.5L752 87.5M757.5 90.5L752 87.5M737 89L742 96M705 95.5L699.5 92M705 96L699.5 101"/>
<path fill="#000" d="M696 137h65v1h-65zM698 139h61v2h-61zM698 139h2v20h-2zM757 139h2v20h-2zM707 142h7v2h-7zM705 144h12v3h-12zM727 144h12v4h-12zM741 150h12v5h-12zM752 154h1v5h-1zM765 52h66v1h-66zM765 54h66v26h-66z"/>
<path fill="#fff" d="M766 56h3v1h-3zM770 56h5v1h-5zM776 56h4v1h-4zM781 56h4v1h-4zM766 63h3v1h-3zM770 63h5v1h-5zM776 63h4v1h-4zM781 63h4v1h-4zM766 70h3v1h-3zM770 70h5v1h-5zM776 70h4v1h-4zM781 70h4v1h-4zM766 77h3v1h-3zM770 77h5v1h-5zM776 77h4v1h-4zM781 77h4v1h-4zM768 59h9v1h-9zM768 61h9v1h-9zM768 65h9v1h-9zM768 68h9v1h-9zM768 72h9v1h-9zM768 74h9v1h-9zM779 56h1v4h-1zM781 56h2v4h-2zM779 61h1v5h-1zM781 61h2v5h-2zM779 68h1v5h-1zM781 68h2v5h-2zM779 74h1v4h-1zM781 74h2v4h-2zM782 56h3v1h-3zM786 56h5v1h-5zM792 56h4v1h-4zM797 56h4v1h-4zM782 63h3v1h-3zM786 63h5v1h-5zM792 63h4v1h-4zM797 63h4v1h-4zM782 70h3v1h-3zM786 70h5v1h-5zM792 70h4v1h-4zM797 70h4v1h-4zM782 77h3v1h-3zM786 77h5v1h-5zM792 77h4v1h-4zM797 77h4v1h-4zM784 59h9v1h-9zM784 61h9v1h-9zM784 65h9v1h-9zM784 68h9v1h-9zM784 72h9v1h-9zM784 74h9v1h-9zM795 56h1v4h-1zM797 56h2v4h-2zM795 61h1v5h-1zM797 61h2v5h-2zM795 68h1v5h-1zM797 68h2v5h-2zM795 74h1v4h-1zM797 74h2v4h-2zM798 56h3v1h-3zM802 56h5v1h-5zM808 56h4v1h-4zM813 56h4v1h-4zM798 63h3v1h-3zM802 63h5v1h-5zM808 63h4v1h-4zM813 63h4v1h-4zM798 70h3v1h-3zM802 70h5v1h-5zM808 70h4v1h-4zM813 70h4v1h-4zM798 77h3v1h-3zM802 77h5v1h-5zM808 77h4v1h-4zM813 77h4v1h-4zM800 59h9v1h-9zM800 61h9v1h-9zM800 65h9v1h-9zM800 68h9v1h-9zM800 72h9v1h-9zM800 74h9v1h-9zM811 56h1v4h-1zM813 56h2v4h-2zM811 61h1v5h-1zM813 61h2v5h-2zM811 68h1v5h-1zM813 68h2v5h-2zM811 74h1v4h-1zM813 74h2v4h-2zM814 56h3v1h-3zM818 56h5v1h-5zM824 56h4v1h-4zM829 56h1v1h-1zM814 63h3v1h-3zM818 63h5v1h-5zM824 63h4v1h-4zM829 63h1v1h-1zM814 70h3v1h-3zM818 70h5v1h-5zM824 70h4v1h-4zM829 70h1v1h-1zM814 77h3v1h-3zM818 77h5v1h-5zM824 77h4v1h-4zM829 77h1v1h-1zM816 59h9v1h-9zM816 61h9v1h-9zM816 65h9v1h-9zM816 68h9v1h-9zM816 72h9v1h-9zM816 74h9v1h-9zM827 56h1v4h-1zM827 61h1v5h-1zM827 68h1v5h-1zM827 74h1v4h-1z"/>
<path fill="none" stroke="#000" stroke-width="1" d="M699.5 141.5L705 144.5M699.5 147.5L705 144.5M722 153L727 146M752 152.5L757.5 149"/>
<path fill="#000" d="M765 80h66v1h-66zM765 105h66v1h-66z"/>
<path fill="#fff" d="M765 106h1v3h-1z"/>
<path fill="#000" d="M767 82h62v2h-62zM767 101h62v2h-62zM767 82h2v21h-2zM827 82h2v21h-2zM776 85h7v2h-7zM774 87h12v3h-12zM796 87h12v4h-12zM811 93h12v5h-12zM822 97h1v6h-1zM765 109h66v1h-66zM765 111h66v26h-66z"/>
<path fill="#fff" d="M766 113h3v1h-3zM770 113h5v1h-5zM776 113h4v1h-4zM781 113h4v1h-4zM766 120h3v1h-3zM770 120h5v1h-5zM776 120h4v1h-4zM781 120h4v1h-4zM766 127h3v1h-3zM770 127h5v1h-5zM776 127h4v1h-4zM781 127h4v1h-4zM768 118h9v1h-9zM768 122h9v1h-9zM768 129h9v1h-9zM768 131h9v1h-9zM779 113h1v3h-1zM781 113h2v3h-2zM779 118h1v5h-1zM781 118h2v5h-2zM779 125h1v5h-1zM781 125h2v5h-2zM779 131h1v3h-1zM781 131h2v3h-2zM782 113h3v1h-3zM786 113h5v1h-5zM792 113h4v1h-4zM797 113h4v1h-4zM782 120h3v1h-3zM786 120h5v1h-5zM792 120h4v1h-4zM797 120h4v1h-4zM782 127h3v1h-3zM786 127h5v1h-5zM792 127h4v1h-4zM797 127h4v1h-4zM784 118h9v1h-9zM784 122h9v1h-9zM784 129h9v1h-9zM784 131h9v1h-9zM795 113h1v3h-1zM797 113h2v3h-2zM795 118h1v5h-1zM797 118h2v5h-2zM795 125h1v5h-1zM797 125h2v5h-2zM795 131h1v3h-1zM797 131h2v3h-2zM798 113h3v1h-3zM802 113h5v1h-5zM808 113h4v1h-4zM813 113h4v1h-4zM798 120h3v1h-3zM802 120h5v1h-5zM808 120h4v1h-4zM813 120h4v1h-4zM798 127h3v1h-3zM802 127h5v1h-5zM808 127h4v1h-4zM813 127h4v1h-4zM800 118h9v1h-9zM800 122h9v1h-9zM800 129h9v1h-9zM800 131h9v1h-9zM811 113h1v3h-1zM813 113h2v3h-2zM811 118h1v5h-1zM813 118h2v5h-2zM811 125h1v5h-1zM813 125h2v5h-2zM811 131h1v3h-1zM813 131h2v3h-2zM814 113h3v1h-3zM818 113h5v1h-5zM824 113h4v1h-4zM829 113h1v1h-1zM814 120h3v1h-3zM818 120h5v1h-5zM824 120h4v1h-4zM829 120h1v1h-1zM814 127h3v1h-3zM818 127h5v1h-5zM824 127h4v1h-4zM829 127h1v1h-1zM816 118h9v1h-9zM816 122h9v1h-9zM816 129h9v1h-9zM816 131h9v1h-9zM827 113h1v3h-1zM827 118h1v5h-1zM827 125h1v5h-1zM827 131h1v3h-1z"/>
<path fill="none" stroke="#000" stroke-width="1" d="M768.5 84.5L774 87.5M768.5 90.5L774 87.5M791 96L796 89M822 95.5L827.5 92"/>
<path fill="#000" d="M765 137h66v1h-66zM767 139h62v2h-62zM767 139h2v20h-2zM827 139h2v20h-2zM776 142h7v2h-7zM774 144h12v3h-12zM796 144h12v4h-12zM811 150h12v5h-12zM822 154h1v5h-1zM835 52h66v1h-66zM835 54h66v26h-66z"/>
<path fill="#fff" d="M836 56h3v1h-3zM840 56h5v1h-5zM846 56h4v1h-4zM851 56h4v1h-4zM836 63h3v1h-3zM840 63h5v1h-5zM846 63h4v1h-4zM851 63h4v1h-4zM836 70h3v1h-3zM840 70h5v1h-5zM846 70h4v1h-4zM851 70h4v1h-4zM836 77h3v1h-3zM840 77h5v1h-5zM846 77h4v1h-4zM851 77h4v1h-4zM838 59h9v1h-9zM838 61h9v1h-9zM838 65h9v1h-9zM838 68h9v1h-9zM838 72h9v1h-9zM838 74h9v1h-9zM849 56h1v4h-1zM851 56h2v4h-2zM849 61h1v5h-1zM851 61h2v5h-2zM849 68h1v5h-1zM851 68h2v5h-2zM849 74h1v4h-1zM851 74h2v4h-2zM852 56h3v1h-3zM856 56h5v1h-5zM862 56h4v1h-4zM867 56h4v1h-4zM852 63h3v1h-3zM856 63h5v1h-5zM862 63h4v1h-4zM867 63h4v1h-4zM852 70h3v1h-3zM856 70h5v1h-5zM862 70h4v1h-4zM867 70h4v1h-4zM852 77h3v1h-3zM856 77h5v1h-5zM862 77h4v1h-4zM867 77h4v1h-4zM854 59h9v1h-9zM854 61h9v1h-9zM854 65h9v1h-9zM854 68h9v1h-9zM854 72h9v1h-9zM854 74h9v1h-9zM865 56h1v4h-1zM867 56h2v4h-2zM865 61h1v5h-1zM867 61h2v5h-2zM865 68h1v5h-1zM867 68h2v5h-2zM865 74h1v4h-1zM867 74h2v4h-2zM868 56h3v1h-3zM872 56h5v1h-5zM878 56h4v1h-4zM883 56h4v1h-4zM868 63h3v1h-3zM872 63h5v1h-5zM878 63h4v1h-4zM883 63h4v1h-4zM868 70h3v1h-3zM872 70h5v1h-5zM878 70h4v1h-4zM883 70h4v1h-4zM868 77h3v1h-3zM872 77h5v1h-5zM878 77h4v1h-4zM883 77h4v1h-4zM870 59h9v1h-9zM870 61h9v1h-9zM870 65h9v1h-9zM870 68h9v1h-9zM870 72h9v1h-9zM870 74h9v1h-9zM881 56h1v4h-1zM883 56h2v4h-2zM881 61h1v5h-1zM883 61h2v5h-2zM881 68h1v5h-1zM883 68h2v5h-2zM881 74h1v4h-1zM883 74h2v4h-2zM884 56h3v1h-3zM888 56h5v1h-5zM894 56h4v1h-4zM899 56h1v1h-1zM884 63h3v1h-3zM888 63h5v1h-5zM894 63h4v1h-4zM899 63h1v1h-1zM884 70h3v1h-3zM888 70h5v1h-5zM894 70h4v1h-4zM899 70h1v1h-1zM884 77h3v1h-3zM888 77h5v1h-5zM894 77h4v1h-4zM899 77h1v1h-1zM886 59h9v1h-9zM886 61h9v1h-9zM886 65h9v1h-9zM886 68h9v1h-9zM886 72h9v1h-9zM886 74h9v1h-9zM897 56h1v4h-1zM897 61h1v5h-1zM897 68h1v5h-1zM897 74h1v4h-1z"/>
<path fill="none" stroke="#000" stroke-width="1" d="M768.5 141.5L774 144.5M768.5 147.5L774 144.5M791 153L796 146M822 152.5L827.5 149"/>
<path fill="#000" d="M835 80h66v1h-66zM835 105h66v1h-66z"/>
<path fill="#fff" d="M835 106h1v3h-1z"/>
<path fill="#000" d="M837 82h62v2h-62zM837 101h62v2h-62zM837 82h2v21h-2zM897 82h2v21h-2zM884 85h7v2h-7zM881 87h12v3h-12zM865 87h12v4h-12zM844 93h12v5h-12zM835 109h66v1h-66zM835 111h66v26h-66z"/>
<path fill="#fff" d="M836 113h3v1h-3zM840 113h5v1h-5zM846 113h4v1h-4zM851 113h4v1h-4zM836 120h3v1h-3zM840 120h5v1h-5zM846 120h4v1h-4zM851 120h4v1h-4zM836 127h3v1h-3zM840 127h5v1h-5zM846 127h4v1h-4zM851 127h4v1h-4zM838 118h9v1h-9zM838 122h9v1h-9zM838 129h9v1h-9zM838 131h9v1h-9zM849 113h1v3h-1zM851 113h2v3h-2zM849 118h1v5h-1zM851 118h2v5h-2zM849 125h1v5h-1zM851 125h2v5h-2zM849 131h1v3h-1zM851 131h2v3h-2zM852 113h3v1h-3zM856 113h5v1h-5zM862 113h4v1h-4zM867 113h4v1h-4zM852 120h3v1h-3zM856 120h5v1h-5zM862 120h4v1h-4zM867 120h4v1h-4zM852 127h3v1h-3zM856 127h5v1h-5zM862 127h4v1h-4zM867 127h4v1h-4zM854 118h9v1h-9zM854 122h9v1h-9zM854 129h9v1h-9zM854 131h9v1h-9zM865 113h1v3h-1zM867 113h2v3h-2zM865 118h1v5h-1zM867 118h2v5h-2zM865 125h1v5h-1zM867 125h2v5h-2zM865 131h1v3h-1zM867 131h2v3h-2zM868 113h3v1h-3zM872 113h5v1h-5zM878 113h4v1h-4zM883 113h4v1h-4zM868 120h3v1h-3zM872 120h5v1h-5zM878 120h4v1h-4zM883 120h4v1h-4zM868 127h3v1h-3zM872 127h5v1h-5zM878 127h4v1h-4zM883 127h4v1h-4zM870 118h9v1h-9zM870 122h9v1h-9zM870 129h9v1h-9zM870 131h9v1h-9zM881 113h1v3h-1zM883 113h2v3h-2zM881 118h1v5h-1zM883 118h2v5h-2zM881 125h1v5h-1zM883 125h2v5h-2zM881 131h1v3h-1zM883 131h2v3h-2zM884 113h3v1h-3zM888 113h5v1h-5zM894 113h4v1h-4zM899 113h1v1h-1zM884 120h3v1h-3zM888 120h5v1h-5zM894 120h4v1h-4zM899 120h1v1h-1zM884 127h3v1h-3zM888 127h5v1h-5zM894 127h4v1h-4zM899 127h1v1h-1zM886 118h9v1h-9zM886 122h9v1h-9zM886 129h9v1h-9zM886 131h9v1h-9zM897 113h1v3h-1zM897 118h1v5h-1zM897 125h1v5h-1zM897 131h1v3h-1z"/>
<path fill="none" stroke="#000" stroke-width="1" d="M897.5 84.5L892 87.5M897.5 90.5L892 87.5M876 89L881 96M844 95.5L838.5 92M844 96L838.5 101"/>
<path fill="#000" d="M835 137h66v1h-66zM837 139h62v2h-62zM837 139h2v20h-2zM897 139h2v20h-2zM846 142h7v2h-7zM844 144h12v3h-12zM866 144h12v4h-12zM881 150h12v5h-12zM892 154h1v5h-1z"/>
<path fill="none" stroke="#000" stroke-width="1" d="M838.5 141.5L844 144.5M838.5 147.5L844 144.5M861 153L866 146M892 152.5L897.5 149"/>
<path d="M40 158H923L925 160H930Q936 160 936 164.0Q936 170 930 170H924V168H40V170H34Q28 170 28 164.0Q28 160 34 160H39Z" fill="#000"/>
<path fill="#000" d="M41 168h11v1h-11zM41 170h11v1h-11zM41 168h1v3h-1zM51 168h1v3h-1zM914 168h11v1h-11zM914 170h11v1h-11zM914 168h1v3h-1zM924 168h1v3h-1z"/>
<text x="444.5" y="186" font-family="Liberation Sans, sans-serif" font-weight="bold" font-size="7" fill="#14142a" textLength="64.5" lengthAdjust="spacingAndGlyphs">ELEVACION E - 02</text>
<text x="444.5" y="191.5" font-family="Liberation Sans, sans-serif" font-weight="bold" font-size="5" fill="#000" stroke="#000" stroke-width="0.5" textLength="26" lengthAdjust="spacingAndGlyphs">ESCALA 1/50</text>
<path fill="#000" d="M50 230h865v1h-865zM50 263h865v1h-865zM50 230h1v34h-1zM914 230h1v34h-1zM51 230h1v34h-1zM913 230h1v34h-1zM50 241h865v1h-865zM50 252h865v1h-865zM53 230h1v12h-1zM55 230h1v11h-1zM60 230h1v12h-1zM62 230h1v11h-1zM61 240h3v1h-3zM66 230h1v12h-1zM68 230h1v11h-1zM71 230h1v12h-1zM73 230h1v11h-1zM76 230h1v12h-1zM78 230h1v11h-1zM84 230h1v12h-1zM91 230h1v12h-1zM97 230h1v12h-1zM99 230h1v11h-1zM98 240h3v1h-3zM104 230h1v12h-1zM106 230h1v11h-1zM110 230h1v12h-1zM112 230h1v11h-1zM118 230h1v12h-1zM122 230h1v12h-1zM127 230h1v12h-1zM133 230h1v12h-1zM140 230h1v12h-1zM144 230h1v12h-1zM146 230h1v11h-1zM152 230h1v12h-1zM156 230h1v12h-1zM160 230h1v12h-1zM162 230h1v11h-1zM161 240h3v1h-3zM167 230h1v12h-1zM169 230h1v11h-1zM175 230h1v12h-1zM177 230h1v11h-1zM176 240h3v1h-3zM181 230h1v12h-1zM187 230h1v12h-1zM189 230h1v11h-1zM196 230h1v12h-1zM199 230h1v12h-1zM201 230h1v11h-1zM204 230h1v12h-1zM209 230h1v12h-1zM211 230h1v11h-1zM215 230h1v12h-1zM219 230h1v12h-1zM221 230h1v11h-1zM228 230h1v12h-1zM230 230h1v11h-1zM233 230h1v12h-1zM232 240h3v1h-3zM238 230h1v12h-1zM240 230h1v11h-1zM239 240h3v1h-3zM246 230h1v12h-1zM245 240h3v1h-3zM252 230h1v12h-1zM254 230h1v11h-1zM253 240h3v1h-3zM258 230h1v12h-1zM262 230h1v12h-1zM267 230h1v12h-1zM274 230h1v12h-1zM277 230h1v12h-1zM279 230h1v11h-1zM283 230h1v12h-1zM285 230h1v11h-1zM284 240h3v1h-3zM289 230h1v12h-1zM295 230h1v12h-1zM302 230h1v12h-1zM304 230h1v11h-1zM309 230h1v12h-1zM311 230h1v11h-1zM310 240h3v1h-3zM315 230h1v12h-1zM319 230h1v12h-1zM322 230h1v12h-1zM324 230h1v11h-1zM323 240h3v1h-3zM331 230h1v12h-1zM333 230h1v11h-1zM332 240h3v1h-3zM338 230h1v12h-1zM343 230h1v12h-1zM345 230h1v11h-1zM349 230h1v12h-1zM351 230h1v11h-1zM356 230h1v12h-1zM358 230h1v11h-1zM365 230h1v12h-1zM370 230h1v12h-1zM375 230h1v12h-1zM374 240h3v1h-3zM378 230h1v12h-1zM380 230h1v11h-1zM384 230h1v12h-1zM389 230h1v12h-1zM391 230h1v11h-1zM390 240h3v1h-3zM395 230h1v12h-1zM394 240h3v1h-3zM398 230h1v12h-1zM401 230h1v12h-1zM403 230h1v11h-1zM402 240h3v1h-3zM409 230h1v12h-1zM411 230h1v11h-1zM415 230h1v12h-1zM417 230h1v11h-1zM421 230h1v12h-1zM426 230h1v12h-1zM431 230h1v12h-1zM435 230h1v12h-1zM437 230h1v11h-1zM444 230h1v12h-1zM443 240h3v1h-3zM448 230h1v12h-1zM450 230h1v11h-1zM456 230h1v12h-1zM463 230h1v12h-1zM465 230h1v11h-1zM469 230h1v12h-1zM474 230h1v12h-1zM476 230h1v11h-1zM475 240h3v1h-3zM481 230h1v12h-1zM483 230h1v11h-1zM487 230h1v12h-1zM489 230h1v11h-1zM494 230h1v12h-1zM497 230h1v12h-1zM499 230h1v11h-1zM498 240h3v1h-3zM506 230h1v12h-1zM508 230h1v11h-1zM514 230h1v12h-1zM516 230h1v11h-1zM521 230h1v12h-1zM523 230h1v11h-1zM522 240h3v1h-3zM528 230h1v12h-1zM530 230h1v11h-1zM535 230h1v12h-1zM537 230h1v11h-1zM540 230h1v12h-1zM542 230h1v11h-1zM546 230h1v12h-1zM548 230h1v11h-1zM552 230h1v12h-1zM556 230h1v12h-1zM558 230h1v11h-1zM561 230h1v12h-1zM564 230h1v12h-1zM568 230h1v12h-1zM575 230h1v12h-1zM582 230h1v12h-1zM584 230h1v11h-1zM589 230h1v12h-1zM591 230h1v11h-1zM594 230h1v12h-1zM596 230h1v11h-1zM601 230h1v12h-1zM606 230h1v12h-1zM612 230h1v12h-1zM617 230h1v12h-1zM619 230h1v11h-1zM622 230h1v12h-1zM624 230h1v11h-1zM623 240h3v1h-3zM628 230h1v12h-1zM630 230h1v11h-1zM629 240h3v1h-3zM636 230h1v12h-1zM638 230h1v11h-1zM642 230h1v12h-1zM644 230h1v11h-1zM647 230h1v12h-1zM652 230h1v12h-1zM656 230h1v12h-1zM658 230h1v11h-1zM665 230h1v12h-1zM670 230h1v12h-1zM672 230h1v11h-1zM671 240h3v1h-3zM677 230h1v12h-1zM679 230h1v11h-1zM684 230h1v12h-1zM686 230h1v11h-1zM690 230h1v12h-1zM692 230h1v11h-1zM696 230h1v12h-1zM698 230h1v11h-1zM702 230h1v12h-1zM701 240h3v1h-3zM707 230h1v12h-1zM713 230h1v12h-1zM718 230h1v12h-1zM721 230h1v12h-1zM728 230h1v12h-1zM727 240h3v1h-3zM734 230h1v12h-1zM739 230h1v12h-1zM738 240h3v1h-3zM742 230h1v12h-1zM748 230h1v12h-1zM755 230h1v12h-1zM757 230h1v11h-1zM763 230h1v12h-1zM765 230h1v11h-1zM764 240h3v1h-3zM770 230h1v12h-1zM769 240h3v1h-3zM773 230h1v12h-1zM778 230h1v12h-1zM780 230h1v11h-1zM784 230h1v12h-1zM786 230h1v11h-1zM785 240h3v1h-3zM791 230h1v12h-1zM797 230h1v12h-1zM799 230h1v11h-1zM804 230h1v12h-1zM806 230h1v11h-1zM810 230h1v12h-1zM817 230h1v12h-1zM819 230h1v11h-1zM824 230h1v12h-1zM830 230h1v12h-1zM833 230h1v12h-1zM838 230h1v12h-1zM845 230h1v12h-1zM851 230h1v12h-1zM853 230h1v11h-1zM860 230h1v12h-1zM865 230h1v12h-1zM871 230h1v12h-1zM878 230h1v12h-1zM877 240h3v1h-3zM885 230h1v12h-1zM890 230h1v12h-1zM897 230h1v12h-1zM902 230h1v12h-1zM904 230h1v11h-1zM908 230h1v12h-1zM910 230h1v11h-1zM52 241h1v12h-1zM54 241h1v11h-1zM59 241h1v12h-1zM66 241h1v12h-1zM65 251h3v1h-3zM72 241h1v12h-1zM75 241h1v12h-1zM78 241h1v12h-1zM82 241h1v12h-1zM86 241h1v12h-1zM92 241h1v12h-1zM96 241h1v12h-1zM101 241h1v12h-1zM106 241h1v12h-1zM108 241h1v11h-1zM113 241h1v12h-1zM115 241h1v11h-1zM118 241h1v12h-1zM120 241h1v11h-1zM124 241h1v12h-1zM126 241h1v11h-1zM133 241h1v12h-1zM136 241h1v12h-1zM141 241h1v12h-1zM143 241h1v11h-1zM147 241h1v12h-1zM149 241h1v11h-1zM148 251h3v1h-3zM152 241h1v12h-1zM156 241h1v12h-1zM160 241h1v12h-1zM163 241h1v12h-1zM166 241h1v12h-1zM169 241h1v12h-1zM171 241h1v11h-1zM174 241h1v12h-1zM176 241h1v11h-1zM180 241h1v12h-1zM184 241h1v12h-1zM186 241h1v11h-1zM185 251h3v1h-3zM191 241h1v12h-1zM194 241h1v12h-1zM196 241h1v11h-1zM201 241h1v12h-1zM208 241h1v12h-1zM210 241h1v11h-1zM215 241h1v12h-1zM217 241h1v11h-1zM223 241h1v12h-1zM225 241h1v11h-1zM230 241h1v12h-1zM235 241h1v12h-1zM237 241h1v11h-1zM242 241h1v12h-1zM244 241h1v11h-1zM249 241h1v12h-1zM251 241h1v11h-1zM254 241h1v12h-1zM256 241h1v11h-1zM259 241h1v12h-1zM264 241h1v12h-1zM270 241h1v12h-1zM275 241h1v12h-1zM277 241h1v11h-1zM276 251h3v1h-3zM280 241h1v12h-1zM282 241h1v11h-1zM287 241h1v12h-1zM289 241h1v11h-1zM293 241h1v12h-1zM298 241h1v12h-1zM300 241h1v11h-1zM305 241h1v12h-1zM307 241h1v11h-1zM306 251h3v1h-3zM310 241h1v12h-1zM315 241h1v12h-1zM317 241h1v11h-1zM320 241h1v12h-1zM323 241h1v12h-1zM322 251h3v1h-3zM328 241h1v12h-1zM332 241h1v12h-1zM334 241h1v11h-1zM337 241h1v12h-1zM341 241h1v12h-1zM343 241h1v11h-1zM349 241h1v12h-1zM351 241h1v11h-1zM355 241h1v12h-1zM357 241h1v11h-1zM356 251h3v1h-3zM361 241h1v12h-1zM363 241h1v11h-1zM367 241h1v12h-1zM369 241h1v11h-1zM375 241h1v12h-1zM381 241h1v12h-1zM383 241h1v11h-1zM389 241h1v12h-1zM395 241h1v12h-1zM399 241h1v12h-1zM401 241h1v11h-1zM400 251h3v1h-3zM405 241h1v12h-1zM407 241h1v11h-1zM412 241h1v12h-1zM414 241h1v11h-1zM418 241h1v12h-1zM421 241h1v12h-1zM423 241h1v11h-1zM422 251h3v1h-3zM430 241h1v12h-1zM432 241h1v11h-1zM439 241h1v12h-1zM445 241h1v12h-1zM449 241h1v12h-1zM451 241h1v11h-1zM456 241h1v12h-1zM458 241h1v11h-1zM462 241h1v12h-1zM464 241h1v11h-1zM468 241h1v12h-1zM472 241h1v12h-1zM474 241h1v11h-1zM477 241h1v12h-1zM480 241h1v12h-1zM484 241h1v12h-1zM486 241h1v11h-1zM485 251h3v1h-3zM490 241h1v12h-1zM496 241h1v12h-1zM498 241h1v11h-1zM497 251h3v1h-3zM503 241h1v12h-1zM505 241h1v11h-1zM511 241h1v12h-1zM518 241h1v12h-1zM521 241h1v12h-1zM523 241h1v11h-1zM522 251h3v1h-3zM526 241h1v12h-1zM532 241h1v12h-1zM534 241h1v11h-1zM533 251h3v1h-3zM537 241h1v12h-1zM542 241h1v12h-1zM545 241h1v12h-1zM552 241h1v12h-1zM554 241h1v11h-1zM560 241h1v12h-1zM562 241h1v11h-1zM566 241h1v12h-1zM570 241h1v12h-1zM575 241h1v12h-1zM577 241h1v11h-1zM583 241h1v12h-1zM585 241h1v11h-1zM589 241h1v12h-1zM594 241h1v12h-1zM601 241h1v12h-1zM603 241h1v11h-1zM602 251h3v1h-3zM608 241h1v12h-1zM610 241h1v11h-1zM616 241h1v12h-1zM620 241h1v12h-1zM622 241h1v11h-1zM627 241h1v12h-1zM633 241h1v12h-1zM632 251h3v1h-3zM638 241h1v12h-1zM642 241h1v12h-1zM645 241h1v12h-1zM647 241h1v11h-1zM650 241h1v12h-1zM652 241h1v11h-1zM651 251h3v1h-3zM659 241h1v12h-1zM662 241h1v12h-1zM664 241h1v11h-1zM663 251h3v1h-3zM671 241h1v12h-1zM673 241h1v11h-1zM678 241h1v12h-1zM681 241h1v12h-1zM683 241h1v11h-1zM687 241h1v12h-1zM691 241h1v12h-1zM696 241h1v12h-1zM700 241h1v12h-1zM702 241h1v11h-1zM706 241h1v12h-1zM711 241h1v12h-1zM713 241h1v11h-1zM712 251h3v1h-3zM720 241h1v12h-1zM722 241h1v11h-1zM728 241h1v12h-1zM730 241h1v11h-1zM735 241h1v12h-1zM737 241h1v11h-1zM743 241h1v12h-1zM745 241h1v11h-1zM750 241h1v12h-1zM754 241h1v12h-1zM756 241h1v11h-1zM761 241h1v12h-1zM763 241h1v11h-1zM768 241h1v12h-1zM771 241h1v12h-1zM773 241h1v11h-1zM778 241h1v12h-1zM780 241h1v11h-1zM779 251h3v1h-3zM784 241h1v12h-1zM787 241h1v12h-1zM789 241h1v11h-1zM792 241h1v12h-1zM794 241h1v11h-1zM793 251h3v1h-3zM800 241h1v12h-1zM799 251h3v1h-3zM804 241h1v12h-1zM809 241h1v12h-1zM813 241h1v12h-1zM812 251h3v1h-3zM817 241h1v12h-1zM819 241h1v11h-1zM825 241h1v12h-1zM827 241h1v11h-1zM826 251h3v1h-3zM832 241h1v12h-1zM836 241h1v12h-1zM840 241h1v12h-1zM839 251h3v1h-3zM844 241h1v12h-1zM846 241h1v11h-1zM845 251h3v1h-3zM853 241h1v12h-1zM855 241h1v11h-1zM859 241h1v12h-1zM861 241h1v11h-1zM866 241h1v12h-1zM870 241h1v12h-1zM872 241h1v11h-1zM875 241h1v12h-1zM881 241h1v12h-1zM883 241h1v11h-1zM886 241h1v12h-1zM893 241h1v12h-1zM897 241h1v12h-1zM903 241h1v12h-1zM905 241h1v11h-1zM908 241h1v12h-1zM54 252h1v12h-1zM56 252h1v11h-1zM61 252h1v12h-1zM63 252h1v11h-1zM67 252h1v12h-1zM66 262h3v1h-3zM71 252h1v12h-1zM73 252h1v11h-1zM79 252h1v12h-1zM81 252h1v11h-1zM85 252h1v12h-1zM88 252h1v12h-1zM90 252h1v11h-1zM95 252h1v12h-1zM94 262h3v1h-3zM100 252h1v12h-1zM104 252h1v12h-1zM108 252h1v12h-1zM115 252h1v12h-1zM119 252h1v12h-1zM121 252h1v11h-1zM125 252h1v12h-1zM127 252h1v11h-1zM130 252h1v12h-1zM132 252h1v11h-1zM137 252h1v12h-1zM144 252h1v12h-1zM146 252h1v11h-1zM145 262h3v1h-3zM151 252h1v12h-1zM150 262h3v1h-3zM155 252h1v12h-1zM157 252h1v11h-1zM161 252h1v12h-1zM163 252h1v11h-1zM170 252h1v12h-1zM177 252h1v12h-1zM179 252h1v11h-1zM184 252h1v12h-1zM186 252h1v11h-1zM185 262h3v1h-3zM193 252h1v12h-1zM197 252h1v12h-1zM200 252h1v12h-1zM202 252h1v11h-1zM206 252h1v12h-1zM208 252h1v11h-1zM211 252h1v12h-1zM216 252h1v12h-1zM222 252h1v12h-1zM221 262h3v1h-3zM226 252h1v12h-1zM231 252h1v12h-1zM233 252h1v11h-1zM236 252h1v12h-1zM242 252h1v12h-1zM246 252h1v12h-1zM253 252h1v12h-1zM255 252h1v11h-1zM254 262h3v1h-3zM259 252h1v12h-1zM261 252h1v11h-1zM265 252h1v12h-1zM267 252h1v11h-1zM274 252h1v12h-1zM276 252h1v11h-1zM275 262h3v1h-3zM282 252h1v12h-1zM284 252h1v11h-1zM283 262h3v1h-3zM288 252h1v12h-1zM287 262h3v1h-3zM295 252h1v12h-1zM299 252h1v12h-1zM303 252h1v12h-1zM302 262h3v1h-3zM307 252h1v12h-1zM309 252h1v11h-1zM314 252h1v12h-1zM316 252h1v11h-1zM319 252h1v12h-1zM321 252h1v11h-1zM325 252h1v12h-1zM329 252h1v12h-1zM331 252h1v11h-1zM330 262h3v1h-3zM335 252h1v12h-1zM337 252h1v11h-1zM342 252h1v12h-1zM344 252h1v11h-1zM347 252h1v12h-1zM346 262h3v1h-3zM352 252h1v12h-1zM358 252h1v12h-1zM363 252h1v12h-1zM362 262h3v1h-3zM368 252h1v12h-1zM370 252h1v11h-1zM369 262h3v1h-3zM376 252h1v12h-1zM378 252h1v11h-1zM377 262h3v1h-3zM383 252h1v12h-1zM385 252h1v11h-1zM384 262h3v1h-3zM389 252h1v12h-1zM391 252h1v11h-1zM397 252h1v12h-1zM399 252h1v11h-1zM398 262h3v1h-3zM403 252h1v12h-1zM405 252h1v11h-1zM411 252h1v12h-1zM413 252h1v11h-1zM418 252h1v12h-1zM420 252h1v11h-1zM424 252h1v12h-1zM426 252h1v11h-1zM430 252h1v12h-1zM429 262h3v1h-3zM435 252h1v12h-1zM437 252h1v11h-1zM441 252h1v12h-1zM446 252h1v12h-1zM448 252h1v11h-1zM447 262h3v1h-3zM454 252h1v12h-1zM457 252h1v12h-1zM461 252h1v12h-1zM466 252h1v12h-1zM473 252h1v12h-1zM472 262h3v1h-3zM478 252h1v12h-1zM480 252h1v11h-1zM483 252h1v12h-1zM487 252h1v12h-1zM486 262h3v1h-3zM493 252h1v12h-1zM500 252h1v12h-1zM506 252h1v12h-1zM511 252h1v12h-1zM513 252h1v11h-1zM512 262h3v1h-3zM517 252h1v12h-1zM521 252h1v12h-1zM523 252h1v11h-1zM522 262h3v1h-3zM527 252h1v12h-1zM529 252h1v11h-1zM533 252h1v12h-1zM539 252h1v12h-1zM544 252h1v12h-1zM546 252h1v11h-1zM550 252h1v12h-1zM552 252h1v11h-1zM559 252h1v12h-1zM558 262h3v1h-3zM566 252h1v12h-1zM571 252h1v12h-1zM570 262h3v1h-3zM577 252h1v12h-1zM580 252h1v12h-1zM586 252h1v12h-1zM590 252h1v12h-1zM594 252h1v12h-1zM596 252h1v11h-1zM603 252h1v12h-1zM605 252h1v11h-1zM610 252h1v12h-1zM609 262h3v1h-3zM614 252h1v12h-1zM621 252h1v12h-1zM623 252h1v11h-1zM629 252h1v12h-1zM635 252h1v12h-1zM639 252h1v12h-1zM646 252h1v12h-1zM653 252h1v12h-1zM655 252h1v11h-1zM654 262h3v1h-3zM659 252h1v12h-1zM661 252h1v11h-1zM660 262h3v1h-3zM665 252h1v12h-1zM667 252h1v11h-1zM672 252h1v12h-1zM676 252h1v12h-1zM681 252h1v12h-1zM683 252h1v11h-1zM686 252h1v12h-1zM691 252h1v12h-1zM693 252h1v11h-1zM696 252h1v12h-1zM703 252h1v12h-1zM702 262h3v1h-3zM710 252h1v12h-1zM712 252h1v11h-1zM719 252h1v12h-1zM721 252h1v11h-1zM725 252h1v12h-1zM730 252h1v12h-1zM729 262h3v1h-3zM734 252h1v12h-1zM737 252h1v12h-1zM736 262h3v1h-3zM740 252h1v12h-1zM742 252h1v11h-1zM741 262h3v1h-3zM747 252h1v12h-1zM753 252h1v12h-1zM755 252h1v11h-1zM760 252h1v12h-1zM762 252h1v11h-1zM761 262h3v1h-3zM766 252h1v12h-1zM765 262h3v1h-3zM770 252h1v12h-1zM772 252h1v11h-1zM776 252h1v12h-1zM780 252h1v12h-1zM779 262h3v1h-3zM784 252h1v12h-1zM786 252h1v11h-1zM793 252h1v12h-1zM799 252h1v12h-1zM798 262h3v1h-3zM806 252h1v12h-1zM805 262h3v1h-3zM810 252h1v12h-1zM814 252h1v12h-1zM820 252h1v12h-1zM822 252h1v11h-1zM827 252h1v12h-1zM834 252h1v12h-1zM836 252h1v11h-1zM840 252h1v12h-1zM842 252h1v11h-1zM847 252h1v12h-1zM846 262h3v1h-3zM853 252h1v12h-1zM860 252h1v12h-1zM862 252h1v11h-1zM866 252h1v12h-1zM870 252h1v12h-1zM872 252h1v11h-1zM877 252h1v12h-1zM882 252h1v12h-1zM884 252h1v11h-1zM888 252h1v12h-1zM890 252h1v11h-1zM893 252h1v12h-1zM899 252h1v12h-1zM901 252h1v11h-1zM900 262h3v1h-3zM905 252h1v12h-1zM904 262h3v1h-3zM51 264h4v1h-4zM56 264h4v1h-4zM61 264h5v1h-5zM67 264h4v1h-4zM72 264h6v1h-6zM79 264h6v1h-6zM86 264h3v1h-3zM90 264h5v1h-5zM96 264h4v1h-4zM101 264h3v1h-3zM105 264h4v1h-4zM110 264h5v1h-5zM116 264h7v1h-7zM124 264h6v1h-6zM131 264h4v1h-4zM136 264h6v1h-6zM143 264h4v1h-4zM148 264h7v1h-7zM156 264h7v1h-7zM164 264h7v1h-7zM172 264h3v1h-3zM176 264h6v1h-6zM183 264h5v1h-5zM189 264h4v1h-4zM194 264h6v1h-6zM201 264h3v1h-3zM205 264h3v1h-3zM209 264h4v1h-4zM214 264h7v1h-7zM222 264h7v1h-7zM230 264h4v1h-4zM235 264h4v1h-4zM240 264h6v1h-6zM247 264h4v1h-4zM252 264h6v1h-6zM259 264h6v1h-6zM266 264h6v1h-6zM273 264h4v1h-4zM278 264h4v1h-4zM283 264h6v1h-6zM290 264h7v1h-7zM298 264h5v1h-5zM304 264h3v1h-3zM308 264h5v1h-5zM314 264h5v1h-5zM320 264h5v1h-5zM326 264h7v1h-7zM334 264h6v1h-6zM341 264h7v1h-7zM349 264h3v1h-3zM353 264h3v1h-3zM357 264h7v1h-7zM365 264h7v1h-7zM373 264h5v1h-5zM379 264h5v1h-5zM385 264h5v1h-5zM391 264h3v1h-3zM395 264h3v1h-3zM399 264h4v1h-4zM404 264h7v1h-7zM412 264h5v1h-5zM418 264h6v1h-6zM425 264h5v1h-5zM431 264h4v1h-4zM436 264h3v1h-3zM440 264h3v1h-3zM444 264h6v1h-6zM451 264h4v1h-4zM456 264h4v1h-4zM461 264h7v1h-7zM469 264h4v1h-4zM474 264h5v1h-5zM480 264h3v1h-3zM484 264h3v1h-3zM488 264h3v1h-3zM492 264h3v1h-3zM496 264h3v1h-3zM500 264h5v1h-5zM506 264h5v1h-5zM512 264h6v1h-6zM519 264h5v1h-5zM525 264h3v1h-3zM529 264h3v1h-3zM533 264h6v1h-6zM540 264h7v1h-7zM548 264h7v1h-7zM556 264h5v1h-5zM562 264h3v1h-3zM566 264h7v1h-7zM574 264h7v1h-7zM582 264h3v1h-3zM586 264h3v1h-3zM590 264h5v1h-5zM596 264h5v1h-5zM602 264h4v1h-4zM607 264h6v1h-6zM614 264h5v1h-5zM620 264h7v1h-7zM628 264h5v1h-5zM634 264h5v1h-5zM640 264h3v1h-3zM644 264h7v1h-7zM652 264h4v1h-4zM657 264h5v1h-5zM663 264h4v1h-4zM668 264h6v1h-6zM675 264h4v1h-4zM680 264h7v1h-7zM688 264h4v1h-4zM693 264h7v1h-7zM701 264h6v1h-6zM708 264h5v1h-5zM714 264h5v1h-5zM720 264h6v1h-6zM727 264h6v1h-6zM734 264h7v1h-7zM742 264h7v1h-7zM750 264h6v1h-6zM757 264h5v1h-5zM763 264h5v1h-5zM769 264h7v1h-7zM777 264h5v1h-5zM783 264h5v1h-5zM789 264h7v1h-7zM797 264h7v1h-7zM805 264h4v1h-4zM810 264h5v1h-5zM816 264h4v1h-4zM821 264h6v1h-6zM828 264h4v1h-4zM833 264h6v1h-6zM840 264h3v1h-3zM844 264h5v1h-5zM850 264h5v1h-5zM856 264h7v1h-7zM864 264h7v1h-7zM872 264h6v1h-6zM879 264h5v1h-5zM885 264h6v1h-6zM892 264h7v1h-7zM900 264h7v1h-7zM908 264h6v1h-6zM27 267h900v1h-900zM20 261h5v2h-5zM26 261h6v2h-6zM32 262h2v1h-2zM21 260h2v1h-2zM20 263h19v1h-19zM34 259h1v8h-1zM32 266h5v1h-5zM922 261h4v2h-4zM927 261h6v2h-6zM933 262h3v1h-3zM923 260h2v1h-2zM918 263h18v1h-18zM920 259h1v8h-1zM918 266h5v1h-5zM922 224h4v2h-4zM927 224h6v2h-6zM933 225h3v1h-3zM923 223h2v1h-2zM918 226h18v1h-18zM920 222h1v8h-1zM918 229h5v1h-5zM914 230h15v1h-15zM20 317h5v2h-5zM26 317h6v2h-6zM32 318h2v1h-2zM21 316h2v1h-2zM20 319h19v1h-19zM34 315h1v8h-1zM32 322h5v1h-5zM28 323h33v1h-33zM20 371h5v2h-5zM26 371h6v2h-6zM32 372h2v1h-2zM21 370h2v1h-2zM20 373h19v1h-19zM34 369h1v8h-1zM32 376h5v1h-5zM28 377h33v1h-33zM167 224h16v1h-16zM170 222h10v2h-10zM173 225h4v1h-4zM180 222h3v2h-3zM327 224h16v1h-16zM330 222h10v2h-10zM333 225h4v1h-4zM340 222h3v2h-3zM542 224h16v1h-16zM545 222h10v2h-10zM548 225h4v1h-4zM555 222h3v2h-3zM802 224h16v1h-16zM805 222h10v2h-10zM808 225h4v1h-4zM815 222h3v2h-3zM60 267h1v111h-1zM64 267h1v111h-1zM130 267h1v111h-1zM134 267h1v111h-1zM199 267h1v111h-1zM203 267h1v111h-1zM269 267h1v111h-1zM273 267h1v111h-1zM338 267h1v111h-1zM342 267h1v111h-1zM408 267h1v111h-1zM412 267h1v111h-1zM477 267h1v111h-1zM481 267h1v111h-1zM482 267h1v111h-1zM486 267h1v111h-1zM552 267h1v111h-1zM556 267h1v111h-1zM621 267h1v111h-1zM625 267h1v111h-1zM691 267h1v111h-1zM695 267h1v111h-1zM760 267h1v111h-1zM764 267h1v111h-1zM829 267h1v111h-1zM833 267h1v111h-1zM899 267h1v111h-1zM903 267h1v111h-1zM481 267h2v111h-2zM64 323h67v1h-67zM64 270h5v1h-5zM126 270h5v1h-5zM64 272h67v12h-67z"/>
<path fill="#fff" d="M65 274h2v1h-2zM68 274h3v1h-3zM72 274h5v1h-5zM78 274h2v1h-2zM65 282h2v1h-2zM68 282h3v1h-3zM72 282h5v1h-5zM78 282h2v1h-2zM67 276h10v2h-10zM67 279h10v1h-10zM65 275h2v3h-2zM78 275h2v3h-2zM65 279h2v3h-2zM78 279h2v3h-2zM81 274h2v1h-2zM84 274h3v1h-3zM88 274h5v1h-5zM94 274h3v1h-3zM81 282h2v1h-2zM84 282h3v1h-3zM88 282h5v1h-5zM94 282h3v1h-3zM83 276h11v2h-11zM83 279h11v1h-11zM81 275h2v3h-2zM95 275h2v3h-2zM81 279h2v3h-2zM95 279h2v3h-2zM98 274h2v1h-2zM101 274h3v1h-3zM105 274h5v1h-5zM111 274h3v1h-3zM98 282h2v1h-2zM101 282h3v1h-3zM105 282h5v1h-5zM111 282h3v1h-3zM100 276h11v2h-11zM100 279h11v1h-11zM98 275h2v3h-2zM112 275h2v3h-2zM98 279h2v3h-2zM112 279h2v3h-2zM115 274h2v1h-2zM118 274h3v1h-3zM122 274h5v1h-5zM128 274h2v1h-2zM115 282h2v1h-2zM118 282h3v1h-3zM122 282h5v1h-5zM128 282h2v1h-2zM117 276h10v2h-10zM117 279h10v1h-10zM115 275h2v3h-2zM128 275h2v3h-2zM115 279h2v3h-2zM128 279h2v3h-2z"/>
<path fill="none" stroke="#000" stroke-width="1" d="M162 231L167.5 224.5M322 231L327.5 224.5M537 231L542.5 224.5M797 231L802.5 224.5"/>
<path fill="#000" d="M64 284h67v1h-67zM68 287h60v2h-60zM68 319h60v2h-60zM68 287h2v34h-2zM126 287h2v34h-2zM77 290h6v2h-6zM75 292h12v3h-12zM89 305h13v3h-13zM90 308h4v1h-4zM111 314h13v4h-13zM114 313h6v1h-6zM122 317h1v3h-1zM64 327h5v1h-5zM126 327h5v1h-5zM64 329h67v12h-67z"/>
<path fill="#fff" d="M65 331h2v1h-2zM68 331h3v1h-3zM72 331h5v1h-5zM78 331h2v1h-2zM65 339h2v1h-2zM68 339h3v1h-3zM72 339h5v1h-5zM78 339h2v1h-2zM67 333h10v2h-10zM67 336h10v1h-10zM65 332h2v3h-2zM78 332h2v3h-2zM65 336h2v3h-2zM78 336h2v3h-2zM81 331h2v1h-2zM84 331h3v1h-3zM88 331h5v1h-5zM94 331h3v1h-3zM81 339h2v1h-2zM84 339h3v1h-3zM88 339h5v1h-5zM94 339h3v1h-3zM83 333h11v2h-11zM83 336h11v1h-11zM81 332h2v3h-2zM95 332h2v3h-2zM81 336h2v3h-2zM95 336h2v3h-2zM98 331h2v1h-2zM101 331h3v1h-3zM105 331h5v1h-5zM111 331h3v1h-3zM98 339h2v1h-2zM101 339h3v1h-3zM105 339h5v1h-5zM111 339h3v1h-3zM100 333h11v2h-11zM100 336h11v1h-11zM98 332h2v3h-2zM112 332h2v3h-2zM98 336h2v3h-2zM112 336h2v3h-2zM115 331h2v1h-2zM118 331h3v1h-3zM122 331h5v1h-5zM128 331h2v1h-2zM115 339h2v1h-2zM118 339h3v1h-3zM122 339h5v1h-5zM128 339h2v1h-2zM117 333h10v2h-10zM117 336h10v1h-10zM115 332h2v3h-2zM128 332h2v3h-2zM115 336h2v3h-2zM128 336h2v3h-2z"/>
<path fill="none" stroke="#000" stroke-width="1" d="M69.5 289.5L74 292M69.5 295.5L74 292M101 306L109 303M123 315.5L127.5 312"/>
<path fill="#000" d="M64 341h67v1h-67zM68 344h60v2h-60zM68 378h60v2h-60zM68 344h2v36h-2zM126 344h2v36h-2zM77 347h6v2h-6zM75 349h12v3h-12zM89 362h13v3h-13zM90 365h4v1h-4zM111 371h13v4h-13zM114 370h6v1h-6zM122 374h1v4h-1zM134 323h66v1h-66zM134 270h5v1h-5zM195 270h5v1h-5zM134 272h45v12h-45z"/>
<path fill="#fff" d="M135 274h43v9h-43z"/>
<path fill="none" stroke="#000" stroke-width="1" d="M69.5 346.5L74 349M69.5 352.5L74 349M101 363L109 360M123 372.5L127.5 369"/>
<path fill="#000" d="M134 278h45v1h-45zM138 275h7v7h-7zM137 274h1v2h-1zM145 274h1v2h-1zM137 281h1v2h-1zM145 281h1v2h-1zM149 272h1v12h-1zM153 275h7v7h-7zM152 274h1v2h-1zM160 274h1v2h-1zM152 281h1v2h-1zM160 281h1v2h-1zM163 272h1v12h-1zM167 275h7v7h-7zM166 274h1v2h-1zM174 274h1v2h-1zM166 281h1v2h-1zM174 281h1v2h-1z"/>
<path fill="#fff" d="M139 276h5v1h-5zM139 279h5v1h-5zM140 274h3v1h-3zM140 282h3v1h-3zM154 276h5v1h-5zM154 279h5v1h-5zM155 274h3v1h-3zM155 282h3v1h-3zM168 276h5v1h-5zM168 279h5v1h-5zM169 274h3v1h-3zM169 282h3v1h-3z"/>
<path fill="#000" d="M134 284h45v1h-45zM138 287h37v2h-37zM138 319h37v2h-37zM138 287h2v34h-2zM173 287h2v34h-2zM147 290h6v2h-6zM145 292h12v3h-12zM148 305h13v3h-13zM149 308h4v1h-4zM158 314h13v4h-13zM161 313h6v1h-6zM169 317h1v3h-1z"/>
<path fill="none" stroke="#000" stroke-width="1" d="M139.5 289.5L144 292M139.5 295.5L144 292M160 306L168 303M170 315.5L174.5 312"/>
<path fill="#000" d="M134 327h5v1h-5zM195 327h5v1h-5zM134 329h45v12h-45z"/>
<path fill="#fff" d="M135 331h2v4h-2zM135 336h2v3h-2zM147 331h2v4h-2zM147 336h2v3h-2zM138 331h7v1h-7zM138 338h7v1h-7zM137 332h1v6h-1zM145 332h1v6h-1zM139 333h5v1h-5zM139 336h5v1h-5zM150 331h2v4h-2zM150 336h2v3h-2zM161 331h2v4h-2zM161 336h2v3h-2zM153 331h7v1h-7zM153 338h7v1h-7zM152 332h1v6h-1zM160 332h1v6h-1zM154 333h5v1h-5zM154 336h5v1h-5zM164 331h2v4h-2zM164 336h2v3h-2zM176 331h2v4h-2zM176 336h2v3h-2zM167 331h7v1h-7zM167 338h7v1h-7zM166 332h1v6h-1zM174 332h1v6h-1zM168 333h5v1h-5zM168 336h5v1h-5z"/>
<path fill="#000" d="M134 341h45v1h-45zM138 344h37v2h-37zM138 378h37v2h-37zM138 344h2v36h-2zM173 344h2v36h-2zM147 347h6v2h-6zM145 349h12v3h-12zM148 362h13v3h-13zM149 365h4v1h-4zM158 371h13v4h-13zM161 370h6v1h-6zM169 374h1v4h-1z"/>
<path fill="none" stroke="#000" stroke-width="1" d="M139.5 346.5L144 349M139.5 352.5L144 349M160 363L168 360M170 372.5L174.5 369"/>
<path fill="#000" d="M203 323h67v1h-67zM203 270h5v1h-5zM265 270h5v1h-5zM203 272h67v12h-67z"/>
<path fill="#fff" d="M204 274h2v1h-2zM207 274h3v1h-3zM211 274h5v1h-5zM217 274h2v1h-2zM204 282h2v1h-2zM207 282h3v1h-3zM211 282h5v1h-5zM217 282h2v1h-2zM206 276h10v2h-10zM206 279h10v1h-10zM204 275h2v3h-2zM217 275h2v3h-2zM204 279h2v3h-2zM217 279h2v3h-2zM220 274h2v1h-2zM223 274h3v1h-3zM227 274h5v1h-5zM233 274h3v1h-3zM220 282h2v1h-2zM223 282h3v1h-3zM227 282h5v1h-5zM233 282h3v1h-3zM222 276h11v2h-11zM222 279h11v1h-11zM220 275h2v3h-2zM234 275h2v3h-2zM220 279h2v3h-2zM234 279h2v3h-2zM237 274h2v1h-2zM240 274h3v1h-3zM244 274h5v1h-5zM250 274h3v1h-3zM237 282h2v1h-2zM240 282h3v1h-3zM244 282h5v1h-5zM250 282h3v1h-3zM239 276h11v2h-11zM239 279h11v1h-11zM237 275h2v3h-2zM251 275h2v3h-2zM237 279h2v3h-2zM251 279h2v3h-2zM254 274h2v1h-2zM257 274h3v1h-3zM261 274h5v1h-5zM267 274h2v1h-2zM254 282h2v1h-2zM257 282h3v1h-3zM261 282h5v1h-5zM267 282h2v1h-2zM256 276h10v2h-10zM256 279h10v1h-10zM254 275h2v3h-2zM267 275h2v3h-2zM254 279h2v3h-2zM267 279h2v3h-2z"/>
<path fill="#000" d="M203 284h67v1h-67zM207 287h60v2h-60zM207 319h60v2h-60zM207 287h2v34h-2zM265 287h2v34h-2zM216 290h6v2h-6zM214 292h12v3h-12zM228 305h13v3h-13zM229 308h4v1h-4zM250 314h13v4h-13zM253 313h6v1h-6zM261 317h1v3h-1zM203 327h5v1h-5zM265 327h5v1h-5zM203 329h67v12h-67z"/>
<path fill="#fff" d="M204 331h2v1h-2zM207 331h3v1h-3zM211 331h5v1h-5zM217 331h2v1h-2zM204 339h2v1h-2zM207 339h3v1h-3zM211 339h5v1h-5zM217 339h2v1h-2zM206 333h10v2h-10zM206 336h10v1h-10zM204 332h2v3h-2zM217 332h2v3h-2zM204 336h2v3h-2zM217 336h2v3h-2zM220 331h2v1h-2zM223 331h3v1h-3zM227 331h5v1h-5zM233 331h3v1h-3zM220 339h2v1h-2zM223 339h3v1h-3zM227 339h5v1h-5zM233 339h3v1h-3zM222 333h11v2h-11zM222 336h11v1h-11zM220 332h2v3h-2zM234 332h2v3h-2zM220 336h2v3h-2zM234 336h2v3h-2zM237 331h2v1h-2zM240 331h3v1h-3zM244 331h5v1h-5zM250 331h3v1h-3zM237 339h2v1h-2zM240 339h3v1h-3zM244 339h5v1h-5zM250 339h3v1h-3zM239 333h11v2h-11zM239 336h11v1h-11zM237 332h2v3h-2zM251 332h2v3h-2zM237 336h2v3h-2zM251 336h2v3h-2zM254 331h2v1h-2zM257 331h3v1h-3zM261 331h5v1h-5zM267 331h2v1h-2zM254 339h2v1h-2zM257 339h3v1h-3zM261 339h5v1h-5zM267 339h2v1h-2zM256 333h10v2h-10zM256 336h10v1h-10zM254 332h2v3h-2zM267 332h2v3h-2zM254 336h2v3h-2zM267 336h2v3h-2z"/>
<path fill="none" stroke="#000" stroke-width="1" d="M208.5 289.5L213 292M208.5 295.5L213 292M240 306L248 303M262 315.5L266.5 312"/>
<path fill="#000" d="M203 341h67v1h-67zM207 344h60v2h-60zM207 378h60v2h-60zM207 344h2v36h-2zM265 344h2v36h-2zM216 347h6v2h-6zM214 349h12v3h-12zM228 362h13v3h-13zM229 365h4v1h-4zM250 371h13v4h-13zM253 370h6v1h-6zM261 374h1v4h-1zM273 323h66v1h-66zM273 270h5v1h-5zM334 270h5v1h-5zM273 272h45v12h-45z"/>
<path fill="#fff" d="M274 274h43v9h-43z"/>
<path fill="none" stroke="#000" stroke-width="1" d="M208.5 346.5L213 349M208.5 352.5L213 349M240 363L248 360M262 372.5L266.5 369"/>
<path fill="#000" d="M273 278h45v1h-45zM277 275h7v7h-7zM276 274h1v2h-1zM284 274h1v2h-1zM276 281h1v2h-1zM284 281h1v2h-1zM288 272h1v12h-1zM292 275h7v7h-7zM291 274h1v2h-1zM299 274h1v2h-1zM291 281h1v2h-1zM299 281h1v2h-1zM302 272h1v12h-1zM306 275h7v7h-7zM305 274h1v2h-1zM313 274h1v2h-1zM305 281h1v2h-1zM313 281h1v2h-1z"/>
<path fill="#fff" d="M278 276h5v1h-5zM278 279h5v1h-5zM279 274h3v1h-3zM279 282h3v1h-3zM293 276h5v1h-5zM293 279h5v1h-5zM294 274h3v1h-3zM294 282h3v1h-3zM307 276h5v1h-5zM307 279h5v1h-5zM308 274h3v1h-3zM308 282h3v1h-3z"/>
<path fill="#000" d="M273 284h45v1h-45zM277 287h37v2h-37zM277 319h37v2h-37zM277 287h2v34h-2zM312 287h2v34h-2zM286 290h6v2h-6zM284 292h12v3h-12zM287 305h13v3h-13zM288 308h4v1h-4zM297 314h13v4h-13zM300 313h6v1h-6zM308 317h1v3h-1z"/>
<path fill="none" stroke="#000" stroke-width="1" d="M278.5 289.5L283 292M278.5 295.5L283 292M299 306L307 303M309 315.5L313.5 312"/>
<path fill="#000" d="M273 327h5v1h-5zM334 327h5v1h-5zM273 329h45v12h-45z"/>
<path fill="#fff" d="M274 331h2v4h-2zM274 336h2v3h-2zM286 331h2v4h-2zM286 336h2v3h-2zM277 331h7v1h-7zM277 338h7v1h-7zM276 332h1v6h-1zM284 332h1v6h-1zM278 333h5v1h-5zM278 336h5v1h-5zM289 331h2v4h-2zM289 336h2v3h-2zM300 331h2v4h-2zM300 336h2v3h-2zM292 331h7v1h-7zM292 338h7v1h-7zM291 332h1v6h-1zM299 332h1v6h-1zM293 333h5v1h-5zM293 336h5v1h-5zM303 331h2v4h-2zM303 336h2v3h-2zM315 331h2v4h-2zM315 336h2v3h-2zM306 331h7v1h-7zM306 338h7v1h-7zM305 332h1v6h-1zM313 332h1v6h-1zM307 333h5v1h-5zM307 336h5v1h-5z"/>
<path fill="#000" d="M273 341h45v1h-45zM277 344h37v2h-37zM277 378h37v2h-37zM277 344h2v36h-2zM312 344h2v36h-2zM286 347h6v2h-6zM284 349h12v3h-12zM287 362h13v3h-13zM288 365h4v1h-4zM297 371h13v4h-13zM300 370h6v1h-6zM308 374h1v4h-1z"/>
<path fill="none" stroke="#000" stroke-width="1" d="M278.5 346.5L283 349M278.5 352.5L283 349M299 363L307 360M309 372.5L313.5 369"/>
<path fill="#000" d="M342 323h67v1h-67zM342 270h5v1h-5zM404 270h5v1h-5zM342 272h67v12h-67z"/>
<path fill="#fff" d="M343 274h2v1h-2zM346 274h3v1h-3zM350 274h5v1h-5zM356 274h2v1h-2zM343 282h2v1h-2zM346 282h3v1h-3zM350 282h5v1h-5zM356 282h2v1h-2zM345 276h10v2h-10zM345 279h10v1h-10zM343 275h2v3h-2zM356 275h2v3h-2zM343 279h2v3h-2zM356 279h2v3h-2zM359 274h2v1h-2zM362 274h3v1h-3zM366 274h5v1h-5zM372 274h3v1h-3zM359 282h2v1h-2zM362 282h3v1h-3zM366 282h5v1h-5zM372 282h3v1h-3zM361 276h11v2h-11zM361 279h11v1h-11zM359 275h2v3h-2zM373 275h2v3h-2zM359 279h2v3h-2zM373 279h2v3h-2zM376 274h2v1h-2zM379 274h3v1h-3zM383 274h5v1h-5zM389 274h3v1h-3zM376 282h2v1h-2zM379 282h3v1h-3zM383 282h5v1h-5zM389 282h3v1h-3zM378 276h11v2h-11zM378 279h11v1h-11zM376 275h2v3h-2zM390 275h2v3h-2zM376 279h2v3h-2zM390 279h2v3h-2zM393 274h2v1h-2zM396 274h3v1h-3zM400 274h5v1h-5zM406 274h2v1h-2zM393 282h2v1h-2zM396 282h3v1h-3zM400 282h5v1h-5zM406 282h2v1h-2zM395 276h10v2h-10zM395 279h10v1h-10zM393 275h2v3h-2zM406 275h2v3h-2zM393 279h2v3h-2zM406 279h2v3h-2z"/>
<path fill="#000" d="M342 284h67v1h-67zM346 287h60v2h-60zM346 319h60v2h-60zM346 287h2v34h-2zM404 287h2v34h-2zM355 290h6v2h-6zM353 292h12v3h-12zM367 305h13v3h-13zM368 308h4v1h-4zM389 314h13v4h-13zM392 313h6v1h-6zM400 317h1v3h-1zM342 327h5v1h-5zM404 327h5v1h-5zM342 329h67v12h-67z"/>
<path fill="#fff" d="M343 331h2v1h-2zM346 331h3v1h-3zM350 331h5v1h-5zM356 331h2v1h-2zM343 339h2v1h-2zM346 339h3v1h-3zM350 339h5v1h-5zM356 339h2v1h-2zM345 333h10v2h-10zM345 336h10v1h-10zM343 332h2v3h-2zM356 332h2v3h-2zM343 336h2v3h-2zM356 336h2v3h-2zM359 331h2v1h-2zM362 331h3v1h-3zM366 331h5v1h-5zM372 331h3v1h-3zM359 339h2v1h-2zM362 339h3v1h-3zM366 339h5v1h-5zM372 339h3v1h-3zM361 333h11v2h-11zM361 336h11v1h-11zM359 332h2v3h-2zM373 332h2v3h-2zM359 336h2v3h-2zM373 336h2v3h-2zM376 331h2v1h-2zM379 331h3v1h-3zM383 331h5v1h-5zM389 331h3v1h-3zM376 339h2v1h-2zM379 339h3v1h-3zM383 339h5v1h-5zM389 339h3v1h-3zM378 333h11v2h-11zM378 336h11v1h-11zM376 332h2v3h-2zM390 332h2v3h-2zM376 336h2v3h-2zM390 336h2v3h-2zM393 331h2v1h-2zM396 331h3v1h-3zM400 331h5v1h-5zM406 331h2v1h-2zM393 339h2v1h-2zM396 339h3v1h-3zM400 339h5v1h-5zM406 339h2v1h-2zM395 333h10v2h-10zM395 336h10v1h-10zM393 332h2v3h-2zM406 332h2v3h-2zM393 336h2v3h-2zM406 336h2v3h-2z"/>
<path fill="none" stroke="#000" stroke-width="1" d="M347.5 289.5L352 292M347.5 295.5L352 292M379 306L387 303M401 315.5L405.5 312"/>
<path fill="#000" d="M342 341h67v1h-67zM346 344h60v2h-60zM346 378h60v2h-60zM346 344h2v36h-2zM404 344h2v36h-2zM355 347h6v2h-6zM353 349h12v3h-12zM367 362h13v3h-13zM368 365h4v1h-4zM389 371h13v4h-13zM392 370h6v1h-6zM400 374h1v4h-1zM412 323h66v1h-66zM412 270h5v1h-5zM473 270h5v1h-5zM412 272h45v12h-45z"/>
<path fill="#fff" d="M413 274h43v9h-43z"/>
<path fill="none" stroke="#000" stroke-width="1" d="M347.5 346.5L352 349M347.5 352.5L352 349M379 363L387 360M401 372.5L405.5 369"/>
<path fill="#000" d="M412 278h45v1h-45zM416 275h7v7h-7zM415 274h1v2h-1zM423 274h1v2h-1zM415 281h1v2h-1zM423 281h1v2h-1zM427 272h1v12h-1zM431 275h7v7h-7zM430 274h1v2h-1zM438 274h1v2h-1zM430 281h1v2h-1zM438 281h1v2h-1zM441 272h1v12h-1zM445 275h7v7h-7zM444 274h1v2h-1zM452 274h1v2h-1zM444 281h1v2h-1zM452 281h1v2h-1z"/>
<path fill="#fff" d="M417 276h5v1h-5zM417 279h5v1h-5zM418 274h3v1h-3zM418 282h3v1h-3zM432 276h5v1h-5zM432 279h5v1h-5zM433 274h3v1h-3zM433 282h3v1h-3zM446 276h5v1h-5zM446 279h5v1h-5zM447 274h3v1h-3zM447 282h3v1h-3z"/>
<path fill="#000" d="M412 284h45v1h-45zM416 287h37v2h-37zM416 319h37v2h-37zM416 287h2v34h-2zM451 287h2v34h-2zM425 290h6v2h-6zM423 292h12v3h-12zM426 305h13v3h-13zM427 308h4v1h-4zM436 314h13v4h-13zM439 313h6v1h-6zM447 317h1v3h-1z"/>
<path fill="none" stroke="#000" stroke-width="1" d="M417.5 289.5L422 292M417.5 295.5L422 292M438 306L446 303M448 315.5L452.5 312"/>
<path fill="#000" d="M412 327h5v1h-5zM473 327h5v1h-5zM412 329h45v12h-45z"/>
<path fill="#fff" d="M413 331h2v4h-2zM413 336h2v3h-2zM425 331h2v4h-2zM425 336h2v3h-2zM416 331h7v1h-7zM416 338h7v1h-7zM415 332h1v6h-1zM423 332h1v6h-1zM417 333h5v1h-5zM417 336h5v1h-5zM428 331h2v4h-2zM428 336h2v3h-2zM439 331h2v4h-2zM439 336h2v3h-2zM431 331h7v1h-7zM431 338h7v1h-7zM430 332h1v6h-1zM438 332h1v6h-1zM432 333h5v1h-5zM432 336h5v1h-5zM442 331h2v4h-2zM442 336h2v3h-2zM454 331h2v4h-2zM454 336h2v3h-2zM445 331h7v1h-7zM445 338h7v1h-7zM444 332h1v6h-1zM452 332h1v6h-1zM446 333h5v1h-5zM446 336h5v1h-5z"/>
<path fill="#000" d="M412 341h45v1h-45zM416 344h37v2h-37zM416 378h37v2h-37zM416 344h2v36h-2zM451 344h2v36h-2zM425 347h6v2h-6zM423 349h12v3h-12zM426 362h13v3h-13zM427 365h4v1h-4zM436 371h13v4h-13zM439 370h6v1h-6zM447 374h1v4h-1z"/>
<path fill="none" stroke="#000" stroke-width="1" d="M417.5 346.5L422 349M417.5 352.5L422 349M438 363L446 360M448 372.5L452.5 369"/>
<path fill="#000" d="M486 323h67v1h-67zM486 270h5v1h-5zM548 270h5v1h-5zM486 272h67v12h-67z"/>
<path fill="#fff" d="M487 274h2v1h-2zM490 274h3v1h-3zM494 274h5v1h-5zM500 274h2v1h-2zM487 282h2v1h-2zM490 282h3v1h-3zM494 282h5v1h-5zM500 282h2v1h-2zM489 276h10v2h-10zM489 279h10v1h-10zM487 275h2v3h-2zM500 275h2v3h-2zM487 279h2v3h-2zM500 279h2v3h-2zM503 274h2v1h-2zM506 274h3v1h-3zM510 274h5v1h-5zM516 274h3v1h-3zM503 282h2v1h-2zM506 282h3v1h-3zM510 282h5v1h-5zM516 282h3v1h-3zM505 276h11v2h-11zM505 279h11v1h-11zM503 275h2v3h-2zM517 275h2v3h-2zM503 279h2v3h-2zM517 279h2v3h-2zM520 274h2v1h-2zM523 274h3v1h-3zM527 274h5v1h-5zM533 274h3v1h-3zM520 282h2v1h-2zM523 282h3v1h-3zM527 282h5v1h-5zM533 282h3v1h-3zM522 276h11v2h-11zM522 279h11v1h-11zM520 275h2v3h-2zM534 275h2v3h-2zM520 279h2v3h-2zM534 279h2v3h-2zM537 274h2v1h-2zM540 274h3v1h-3zM544 274h5v1h-5zM550 274h2v1h-2zM537 282h2v1h-2zM540 282h3v1h-3zM544 282h5v1h-5zM550 282h2v1h-2zM539 276h10v2h-10zM539 279h10v1h-10zM537 275h2v3h-2zM550 275h2v3h-2zM537 279h2v3h-2zM550 279h2v3h-2z"/>
<path fill="#000" d="M486 284h67v1h-67zM490 287h60v2h-60zM490 319h60v2h-60zM490 287h2v34h-2zM548 287h2v34h-2zM499 290h6v2h-6zM497 292h12v3h-12zM511 305h13v3h-13zM512 308h4v1h-4zM533 314h13v4h-13zM536 313h6v1h-6zM544 317h1v3h-1zM486 327h5v1h-5zM548 327h5v1h-5zM486 329h67v12h-67z"/>
<path fill="#fff" d="M487 331h2v1h-2zM490 331h3v1h-3zM494 331h5v1h-5zM500 331h2v1h-2zM487 339h2v1h-2zM490 339h3v1h-3zM494 339h5v1h-5zM500 339h2v1h-2zM489 333h10v2h-10zM489 336h10v1h-10zM487 332h2v3h-2zM500 332h2v3h-2zM487 336h2v3h-2zM500 336h2v3h-2zM503 331h2v1h-2zM506 331h3v1h-3zM510 331h5v1h-5zM516 331h3v1h-3zM503 339h2v1h-2zM506 339h3v1h-3zM510 339h5v1h-5zM516 339h3v1h-3zM505 333h11v2h-11zM505 336h11v1h-11zM503 332h2v3h-2zM517 332h2v3h-2zM503 336h2v3h-2zM517 336h2v3h-2zM520 331h2v1h-2zM523 331h3v1h-3zM527 331h5v1h-5zM533 331h3v1h-3zM520 339h2v1h-2zM523 339h3v1h-3zM527 339h5v1h-5zM533 339h3v1h-3zM522 333h11v2h-11zM522 336h11v1h-11zM520 332h2v3h-2zM534 332h2v3h-2zM520 336h2v3h-2zM534 336h2v3h-2zM537 331h2v1h-2zM540 331h3v1h-3zM544 331h5v1h-5zM550 331h2v1h-2zM537 339h2v1h-2zM540 339h3v1h-3zM544 339h5v1h-5zM550 339h2v1h-2zM539 333h10v2h-10zM539 336h10v1h-10zM537 332h2v3h-2zM550 332h2v3h-2zM537 336h2v3h-2zM550 336h2v3h-2z"/>
<path fill="none" stroke="#000" stroke-width="1" d="M491.5 289.5L496 292M491.5 295.5L496 292M523 306L531 303M545 315.5L549.5 312"/>
<path fill="#000" d="M486 341h67v1h-67zM490 344h60v2h-60zM490 378h60v2h-60zM490 344h2v36h-2zM548 344h2v36h-2zM499 347h6v2h-6zM497 349h12v3h-12zM511 362h13v3h-13zM512 365h4v1h-4zM533 371h13v4h-13zM536 370h6v1h-6zM544 374h1v4h-1zM556 323h66v1h-66zM556 270h5v1h-5zM617 270h5v1h-5zM556 272h45v12h-45z"/>
<path fill="#fff" d="M557 274h43v9h-43z"/>
<path fill="none" stroke="#000" stroke-width="1" d="M491.5 346.5L496 349M491.5 352.5L496 349M523 363L531 360M545 372.5L549.5 369"/>
<path fill="#000" d="M556 278h45v1h-45zM560 275h7v7h-7zM559 274h1v2h-1zM567 274h1v2h-1zM559 281h1v2h-1zM567 281h1v2h-1zM571 272h1v12h-1zM575 275h7v7h-7zM574 274h1v2h-1zM582 274h1v2h-1zM574 281h1v2h-1zM582 281h1v2h-1zM585 272h1v12h-1zM589 275h7v7h-7zM588 274h1v2h-1zM596 274h1v2h-1zM588 281h1v2h-1zM596 281h1v2h-1z"/>
<path fill="#fff" d="M561 276h5v1h-5zM561 279h5v1h-5zM562 274h3v1h-3zM562 282h3v1h-3zM576 276h5v1h-5zM576 279h5v1h-5zM577 274h3v1h-3zM577 282h3v1h-3zM590 276h5v1h-5zM590 279h5v1h-5zM591 274h3v1h-3zM591 282h3v1h-3z"/>
<path fill="#000" d="M556 284h45v1h-45zM560 287h37v2h-37zM560 319h37v2h-37zM560 287h2v34h-2zM595 287h2v34h-2zM569 290h6v2h-6zM567 292h12v3h-12zM570 305h13v3h-13zM571 308h4v1h-4zM580 314h13v4h-13zM583 313h6v1h-6zM591 317h1v3h-1z"/>
<path fill="none" stroke="#000" stroke-width="1" d="M561.5 289.5L566 292M561.5 295.5L566 292M582 306L590 303M592 315.5L596.5 312"/>
<path fill="#000" d="M556 327h5v1h-5zM617 327h5v1h-5zM556 329h45v12h-45z"/>
<path fill="#fff" d="M557 331h2v4h-2zM557 336h2v3h-2zM569 331h2v4h-2zM569 336h2v3h-2zM560 331h7v1h-7zM560 338h7v1h-7zM559 332h1v6h-1zM567 332h1v6h-1zM561 333h5v1h-5zM561 336h5v1h-5zM572 331h2v4h-2zM572 336h2v3h-2zM583 331h2v4h-2zM583 336h2v3h-2zM575 331h7v1h-7zM575 338h7v1h-7zM574 332h1v6h-1zM582 332h1v6h-1zM576 333h5v1h-5zM576 336h5v1h-5zM586 331h2v4h-2zM586 336h2v3h-2zM598 331h2v4h-2zM598 336h2v3h-2zM589 331h7v1h-7zM589 338h7v1h-7zM588 332h1v6h-1zM596 332h1v6h-1zM590 333h5v1h-5zM590 336h5v1h-5z"/>
<path fill="#000" d="M556 341h45v1h-45zM560 344h37v2h-37zM560 378h37v2h-37zM560 344h2v36h-2zM595 344h2v36h-2zM569 347h6v2h-6zM567 349h12v3h-12zM570 362h13v3h-13zM571 365h4v1h-4zM580 371h13v4h-13zM583 370h6v1h-6zM591 374h1v4h-1z"/>
<path fill="none" stroke="#000" stroke-width="1" d="M561.5 346.5L566 349M561.5 352.5L566 349M582 363L590 360M592 372.5L596.5 369"/>
<path fill="#000" d="M625 323h67v1h-67zM625 270h5v1h-5zM687 270h5v1h-5zM625 272h67v12h-67z"/>
<path fill="#fff" d="M626 274h2v1h-2zM629 274h3v1h-3zM633 274h5v1h-5zM639 274h2v1h-2zM626 282h2v1h-2zM629 282h3v1h-3zM633 282h5v1h-5zM639 282h2v1h-2zM628 276h10v2h-10zM628 279h10v1h-10zM626 275h2v3h-2zM639 275h2v3h-2zM626 279h2v3h-2zM639 279h2v3h-2zM642 274h2v1h-2zM645 274h3v1h-3zM649 274h5v1h-5zM655 274h3v1h-3zM642 282h2v1h-2zM645 282h3v1h-3zM649 282h5v1h-5zM655 282h3v1h-3zM644 276h11v2h-11zM644 279h11v1h-11zM642 275h2v3h-2zM656 275h2v3h-2zM642 279h2v3h-2zM656 279h2v3h-2zM659 274h2v1h-2zM662 274h3v1h-3zM666 274h5v1h-5zM672 274h3v1h-3zM659 282h2v1h-2zM662 282h3v1h-3zM666 282h5v1h-5zM672 282h3v1h-3zM661 276h11v2h-11zM661 279h11v1h-11zM659 275h2v3h-2zM673 275h2v3h-2zM659 279h2v3h-2zM673 279h2v3h-2zM676 274h2v1h-2zM679 274h3v1h-3zM683 274h5v1h-5zM689 274h2v1h-2zM676 282h2v1h-2zM679 282h3v1h-3zM683 282h5v1h-5zM689 282h2v1h-2zM678 276h10v2h-10zM678 279h10v1h-10zM676 275h2v3h-2zM689 275h2v3h-2zM676 279h2v3h-2zM689 279h2v3h-2z"/>
<path fill="#000" d="M625 284h67v1h-67zM629 287h60v2h-60zM629 319h60v2h-60zM629 287h2v34h-2zM687 287h2v34h-2zM638 290h6v2h-6zM636 292h12v3h-12zM650 305h13v3h-13zM651 308h4v1h-4zM672 314h13v4h-13zM675 313h6v1h-6zM683 317h1v3h-1zM625 327h5v1h-5zM687 327h5v1h-5zM625 329h67v12h-67z"/>
<path fill="#fff" d="M626 331h2v1h-2zM629 331h3v1h-3zM633 331h5v1h-5zM639 331h2v1h-2zM626 339h2v1h-2zM629 339h3v1h-3zM633 339h5v1h-5zM639 339h2v1h-2zM628 333h10v2h-10zM628 336h10v1h-10zM626 332h2v3h-2zM639 332h2v3h-2zM626 336h2v3h-2zM639 336h2v3h-2zM642 331h2v1h-2zM645 331h3v1h-3zM649 331h5v1h-5zM655 331h3v1h-3zM642 339h2v1h-2zM645 339h3v1h-3zM649 339h5v1h-5zM655 339h3v1h-3zM644 333h11v2h-11zM644 336h11v1h-11zM642 332h2v3h-2zM656 332h2v3h-2zM642 336h2v3h-2zM656 336h2v3h-2zM659 331h2v1h-2zM662 331h3v1h-3zM666 331h5v1h-5zM672 331h3v1h-3zM659 339h2v1h-2zM662 339h3v1h-3zM666 339h5v1h-5zM672 339h3v1h-3zM661 333h11v2h-11zM661 336h11v1h-11zM659 332h2v3h-2zM673 332h2v3h-2zM659 336h2v3h-2zM673 336h2v3h-2zM676 331h2v1h-2zM679 331h3v1h-3zM683 331h5v1h-5zM689 331h2v1h-2zM676 339h2v1h-2zM679 339h3v1h-3zM683 339h5v1h-5zM689 339h2v1h-2zM678 333h10v2h-10zM678 336h10v1h-10zM676 332h2v3h-2zM689 332h2v3h-2zM676 336h2v3h-2zM689 336h2v3h-2z"/>
<path fill="none" stroke="#000" stroke-width="1" d="M630.5 289.5L635 292M630.5 295.5L635 292M662 306L670 303M684 315.5L688.5 312"/>
<path fill="#000" d="M625 341h67v1h-67zM629 344h60v2h-60zM629 378h60v2h-60zM629 344h2v36h-2zM687 344h2v36h-2zM638 347h6v2h-6zM636 349h12v3h-12zM650 362h13v3h-13zM651 365h4v1h-4zM672 371h13v4h-13zM675 370h6v1h-6zM683 374h1v4h-1zM695 323h66v1h-66zM695 270h5v1h-5zM756 270h5v1h-5zM695 272h45v12h-45z"/>
<path fill="#fff" d="M696 274h43v9h-43z"/>
<path fill="none" stroke="#000" stroke-width="1" d="M630.5 346.5L635 349M630.5 352.5L635 349M662 363L670 360M684 372.5L688.5 369"/>
<path fill="#000" d="M695 278h45v1h-45zM699 275h7v7h-7zM698 274h1v2h-1zM706 274h1v2h-1zM698 281h1v2h-1zM706 281h1v2h-1zM710 272h1v12h-1zM714 275h7v7h-7zM713 274h1v2h-1zM721 274h1v2h-1zM713 281h1v2h-1zM721 281h1v2h-1zM724 272h1v12h-1zM728 275h7v7h-7zM727 274h1v2h-1zM735 274h1v2h-1zM727 281h1v2h-1zM735 281h1v2h-1z"/>
<path fill="#fff" d="M700 276h5v1h-5zM700 279h5v1h-5zM701 274h3v1h-3zM701 282h3v1h-3zM715 276h5v1h-5zM715 279h5v1h-5zM716 274h3v1h-3zM716 282h3v1h-3zM729 276h5v1h-5zM729 279h5v1h-5zM730 274h3v1h-3zM730 282h3v1h-3z"/>
<path fill="#000" d="M695 284h45v1h-45zM699 287h37v2h-37zM699 319h37v2h-37zM699 287h2v34h-2zM734 287h2v34h-2zM708 290h6v2h-6zM706 292h12v3h-12zM709 305h13v3h-13zM710 308h4v1h-4zM719 314h13v4h-13zM722 313h6v1h-6zM730 317h1v3h-1z"/>
<path fill="none" stroke="#000" stroke-width="1" d="M700.5 289.5L705 292M700.5 295.5L705 292M721 306L729 303M731 315.5L735.5 312"/>
<path fill="#000" d="M695 327h5v1h-5zM756 327h5v1h-5zM695 329h45v12h-45z"/>
<path fill="#fff" d="M696 331h2v4h-2zM696 336h2v3h-2zM708 331h2v4h-2zM708 336h2v3h-2zM699 331h7v1h-7zM699 338h7v1h-7zM698 332h1v6h-1zM706 332h1v6h-1zM700 333h5v1h-5zM700 336h5v1h-5zM711 331h2v4h-2zM711 336h2v3h-2zM722 331h2v4h-2zM722 336h2v3h-2zM714 331h7v1h-7zM714 338h7v1h-7zM713 332h1v6h-1zM721 332h1v6h-1zM715 333h5v1h-5zM715 336h5v1h-5zM725 331h2v4h-2zM725 336h2v3h-2zM737 331h2v4h-2zM737 336h2v3h-2zM728 331h7v1h-7zM728 338h7v1h-7zM727 332h1v6h-1zM735 332h1v6h-1zM729 333h5v1h-5zM729 336h5v1h-5z"/>
<path fill="#000" d="M695 341h45v1h-45zM699 344h37v2h-37zM699 378h37v2h-37zM699 344h2v36h-2zM734 344h2v36h-2zM708 347h6v2h-6zM706 349h12v3h-12zM709 362h13v3h-13zM710 365h4v1h-4zM719 371h13v4h-13zM722 370h6v1h-6zM730 374h1v4h-1z"/>
<path fill="none" stroke="#000" stroke-width="1" d="M700.5 346.5L705 349M700.5 352.5L705 349M721 363L729 360M731 372.5L735.5 369"/>
<path fill="#000" d="M764 323h66v1h-66zM764 270h5v1h-5zM825 270h5v1h-5zM764 272h66v12h-66z"/>
<path fill="#fff" d="M765 274h2v1h-2zM768 274h3v1h-3zM772 274h5v1h-5zM778 274h2v1h-2zM765 282h2v1h-2zM768 282h3v1h-3zM772 282h5v1h-5zM778 282h2v1h-2zM767 276h10v2h-10zM767 279h10v1h-10zM765 275h2v3h-2zM778 275h2v3h-2zM765 279h2v3h-2zM778 279h2v3h-2zM781 274h2v1h-2zM784 274h3v1h-3zM788 274h5v1h-5zM794 274h2v1h-2zM781 282h2v1h-2zM784 282h3v1h-3zM788 282h5v1h-5zM794 282h2v1h-2zM783 276h10v2h-10zM783 279h10v1h-10zM781 275h2v3h-2zM794 275h2v3h-2zM781 279h2v3h-2zM794 279h2v3h-2zM797 274h2v1h-2zM800 274h3v1h-3zM804 274h5v1h-5zM810 274h3v1h-3zM797 282h2v1h-2zM800 282h3v1h-3zM804 282h5v1h-5zM810 282h3v1h-3zM799 276h11v2h-11zM799 279h11v1h-11zM797 275h2v3h-2zM811 275h2v3h-2zM797 279h2v3h-2zM811 279h2v3h-2zM814 274h2v1h-2zM817 274h3v1h-3zM821 274h5v1h-5zM827 274h2v1h-2zM814 282h2v1h-2zM817 282h3v1h-3zM821 282h5v1h-5zM827 282h2v1h-2zM816 276h10v2h-10zM816 279h10v1h-10zM814 275h2v3h-2zM827 275h2v3h-2zM814 279h2v3h-2zM827 279h2v3h-2z"/>
<path fill="#000" d="M764 284h66v1h-66zM768 287h59v2h-59zM768 319h59v2h-59zM768 287h2v34h-2zM825 287h2v34h-2zM777 290h6v2h-6zM775 292h12v3h-12zM789 305h13v3h-13zM790 308h4v1h-4zM810 314h13v4h-13zM813 313h6v1h-6zM821 317h1v3h-1zM764 327h5v1h-5zM825 327h5v1h-5zM764 329h66v12h-66z"/>
<path fill="#fff" d="M765 331h2v1h-2zM768 331h3v1h-3zM772 331h5v1h-5zM778 331h2v1h-2zM765 339h2v1h-2zM768 339h3v1h-3zM772 339h5v1h-5zM778 339h2v1h-2zM767 333h10v2h-10zM767 336h10v1h-10zM765 332h2v3h-2zM778 332h2v3h-2zM765 336h2v3h-2zM778 336h2v3h-2zM781 331h2v1h-2zM784 331h3v1h-3zM788 331h5v1h-5zM794 331h2v1h-2zM781 339h2v1h-2zM784 339h3v1h-3zM788 339h5v1h-5zM794 339h2v1h-2zM783 333h10v2h-10zM783 336h10v1h-10zM781 332h2v3h-2zM794 332h2v3h-2zM781 336h2v3h-2zM794 336h2v3h-2zM797 331h2v1h-2zM800 331h3v1h-3zM804 331h5v1h-5zM810 331h3v1h-3zM797 339h2v1h-2zM800 339h3v1h-3zM804 339h5v1h-5zM810 339h3v1h-3zM799 333h11v2h-11zM799 336h11v1h-11zM797 332h2v3h-2zM811 332h2v3h-2zM797 336h2v3h-2zM811 336h2v3h-2zM814 331h2v1h-2zM817 331h3v1h-3zM821 331h5v1h-5zM827 331h2v1h-2zM814 339h2v1h-2zM817 339h3v1h-3zM821 339h5v1h-5zM827 339h2v1h-2zM816 333h10v2h-10zM816 336h10v1h-10zM814 332h2v3h-2zM827 332h2v3h-2zM814 336h2v3h-2zM827 336h2v3h-2z"/>
<path fill="none" stroke="#000" stroke-width="1" d="M769.5 289.5L774 292M769.5 295.5L774 292M801 306L809 303M822 315.5L826.5 312"/>
<path fill="#000" d="M764 341h66v1h-66zM768 344h59v2h-59zM768 378h59v2h-59zM768 344h2v36h-2zM825 344h2v36h-2zM777 347h6v2h-6zM775 349h12v3h-12zM789 362h13v3h-13zM790 365h4v1h-4zM810 371h13v4h-13zM813 370h6v1h-6zM821 374h1v4h-1zM833 323h67v1h-67zM833 270h5v1h-5zM895 270h5v1h-5zM833 272h46v12h-46z"/>
<path fill="#fff" d="M834 274h44v9h-44z"/>
<path fill="none" stroke="#000" stroke-width="1" d="M769.5 346.5L774 349M769.5 352.5L774 349M801 363L809 360M822 372.5L826.5 369"/>
<path fill="#000" d="M833 278h46v1h-46zM837 275h7v7h-7zM836 274h1v2h-1zM844 274h1v2h-1zM836 281h1v2h-1zM844 281h1v2h-1zM848 272h1v12h-1zM852 275h7v7h-7zM851 274h1v2h-1zM859 274h1v2h-1zM851 281h1v2h-1zM859 281h1v2h-1zM863 272h1v12h-1zM867 275h7v7h-7zM866 274h1v2h-1zM874 274h1v2h-1zM866 281h1v2h-1zM874 281h1v2h-1z"/>
<path fill="#fff" d="M838 276h5v1h-5zM838 279h5v1h-5zM839 274h3v1h-3zM839 282h3v1h-3zM853 276h5v1h-5zM853 279h5v1h-5zM854 274h3v1h-3zM854 282h3v1h-3zM868 276h5v1h-5zM868 279h5v1h-5zM869 274h3v1h-3zM869 282h3v1h-3z"/>
<path fill="#000" d="M833 284h46v1h-46zM837 287h38v2h-38zM837 319h38v2h-38zM837 287h2v34h-2zM873 287h2v34h-2zM846 290h6v2h-6zM844 292h12v3h-12zM847 305h13v3h-13zM848 308h4v1h-4zM858 314h13v4h-13zM861 313h6v1h-6zM869 317h1v3h-1z"/>
<path fill="none" stroke="#000" stroke-width="1" d="M838.5 289.5L843 292M838.5 295.5L843 292M859 306L867 303M870 315.5L874.5 312"/>
<path fill="#000" d="M833 327h5v1h-5zM895 327h5v1h-5zM833 329h46v12h-46z"/>
<path fill="#fff" d="M834 331h2v4h-2zM834 336h2v3h-2zM846 331h2v4h-2zM846 336h2v3h-2zM837 331h7v1h-7zM837 338h7v1h-7zM836 332h1v6h-1zM844 332h1v6h-1zM838 333h5v1h-5zM838 336h5v1h-5zM849 331h2v4h-2zM849 336h2v3h-2zM861 331h2v4h-2zM861 336h2v3h-2zM852 331h7v1h-7zM852 338h7v1h-7zM851 332h1v6h-1zM859 332h1v6h-1zM853 333h5v1h-5zM853 336h5v1h-5zM864 331h2v4h-2zM864 336h2v3h-2zM876 331h2v4h-2zM876 336h2v3h-2zM867 331h7v1h-7zM867 338h7v1h-7zM866 332h1v6h-1zM874 332h1v6h-1zM868 333h5v1h-5zM868 336h5v1h-5z"/>
<path fill="#000" d="M833 341h46v1h-46zM837 344h38v2h-38zM837 378h38v2h-38zM837 344h2v36h-2zM873 344h2v36h-2zM846 347h6v2h-6zM844 349h12v3h-12zM847 362h13v3h-13zM848 365h4v1h-4zM858 371h13v4h-13zM861 370h6v1h-6zM869 374h1v4h-1z"/>
<path fill="none" stroke="#000" stroke-width="1" d="M838.5 346.5L843 349M838.5 352.5L843 349M859 363L867 360M870 372.5L874.5 369"/>
<path d="M40 376H923L925 378H930Q936 378 936 382.0Q936 388 930 388H924V386H40V388H34Q28 388 28 382.0Q28 378 34 378H39Z" fill="#000"/>
<path fill="#000" d="M41 386h11v1h-11zM41 388h11v1h-11zM41 386h1v3h-1zM51 386h1v3h-1zM914 386h11v1h-11zM914 388h11v1h-11zM914 386h1v3h-1zM924 386h1v3h-1z"/>
<path fill="#8c8c8c" d="M178 272h22v52h-22z"/>
<path fill="#fff" d="M179 273h19v10h-19z"/>
<path fill="#8c8c8c" d="M180 274h17v1h-17zM180 281h17v1h-17zM180 274h1v8h-1zM196 274h1v8h-1zM187 273h3v1h-3zM180 273h2v1h-2zM195 273h2v1h-2z"/>
<path fill="#fff" d="M179 282h8v4h-8zM190 282h8v4h-8zM180 287h18v2h-18zM180 290h18v2h-18zM179 293h8v3h-8zM190 293h8v3h-8zM180 297h18v2h-18zM180 300h18v2h-18zM179 303h8v2h-8zM190 303h8v2h-8zM180 306h18v2h-18zM180 309h18v2h-18zM179 312h8v2h-8zM190 312h8v2h-8z"/>
<path fill="#8c8c8c" d="M178 329h22v53h-22z"/>
<path fill="#fff" d="M179 330h19v10h-19z"/>
<path fill="#8c8c8c" d="M180 331h17v1h-17zM180 338h17v1h-17zM180 331h1v8h-1zM196 331h1v8h-1zM187 330h3v1h-3zM180 330h2v1h-2zM195 330h2v1h-2z"/>
<path fill="#fff" d="M179 339h8v4h-8zM190 339h8v4h-8zM180 344h18v2h-18zM180 347h18v2h-18zM179 350h8v3h-8zM190 350h8v3h-8zM180 354h18v2h-18zM180 357h18v2h-18zM179 360h8v2h-8zM190 360h8v2h-8zM180 363h18v2h-18zM180 366h18v2h-18zM179 369h8v2h-8zM190 369h8v2h-8z"/>
<path fill="#8c8c8c" d="M317 272h22v52h-22z"/>
<path fill="#fff" d="M318 273h19v10h-19z"/>
<path fill="#8c8c8c" d="M319 274h17v1h-17zM319 281h17v1h-17zM319 274h1v8h-1zM335 274h1v8h-1zM326 273h3v1h-3zM319 273h2v1h-2zM334 273h2v1h-2z"/>
<path fill="#fff" d="M318 282h8v4h-8zM329 282h8v4h-8zM319 287h18v2h-18zM319 290h18v2h-18zM318 293h8v3h-8zM329 293h8v3h-8zM319 297h18v2h-18zM319 300h18v2h-18zM318 303h8v2h-8zM329 303h8v2h-8zM319 306h18v2h-18zM319 309h18v2h-18zM318 312h8v2h-8zM329 312h8v2h-8z"/>
<path fill="#8c8c8c" d="M317 329h22v53h-22z"/>
<path fill="#fff" d="M318 330h19v10h-19z"/>
<path fill="#8c8c8c" d="M319 331h17v1h-17zM319 338h17v1h-17zM319 331h1v8h-1zM335 331h1v8h-1zM326 330h3v1h-3zM319 330h2v1h-2zM334 330h2v1h-2z"/>
<path fill="#fff" d="M318 339h8v4h-8zM329 339h8v4h-8zM319 344h18v2h-18zM319 347h18v2h-18zM318 350h8v3h-8zM329 350h8v3h-8zM319 354h18v2h-18zM319 357h18v2h-18zM318 360h8v2h-8zM329 360h8v2h-8zM319 363h18v2h-18zM319 366h18v2h-18zM318 369h8v2h-8zM329 369h8v2h-8z"/>
<path fill="#8c8c8c" d="M456 272h22v52h-22z"/>
<path fill="#fff" d="M457 273h19v10h-19z"/>
<path fill="#8c8c8c" d="M458 274h17v1h-17zM458 281h17v1h-17zM458 274h1v8h-1zM474 274h1v8h-1zM465 273h3v1h-3zM458 273h2v1h-2zM473 273h2v1h-2z"/>
<path fill="#fff" d="M457 282h8v4h-8zM468 282h8v4h-8zM458 287h18v2h-18zM458 290h18v2h-18zM457 293h8v3h-8zM468 293h8v3h-8zM458 297h18v2h-18zM458 300h18v2h-18zM457 303h8v2h-8zM468 303h8v2h-8zM458 306h18v2h-18zM458 309h18v2h-18zM457 312h8v2h-8zM468 312h8v2h-8z"/>
<path fill="#8c8c8c" d="M456 329h22v53h-22z"/>
<path fill="#fff" d="M457 330h19v10h-19z"/>
<path fill="#8c8c8c" d="M458 331h17v1h-17zM458 338h17v1h-17zM458 331h1v8h-1zM474 331h1v8h-1zM465 330h3v1h-3zM458 330h2v1h-2zM473 330h2v1h-2z"/>
<path fill="#fff" d="M457 339h8v4h-8zM468 339h8v4h-8zM458 344h18v2h-18zM458 347h18v2h-18zM457 350h8v3h-8zM468 350h8v3h-8zM458 354h18v2h-18zM458 357h18v2h-18zM457 360h8v2h-8zM468 360h8v2h-8zM458 363h18v2h-18zM458 366h18v2h-18zM457 369h8v2h-8zM468 369h8v2h-8z"/>
<path fill="#8c8c8c" d="M600 272h22v52h-22z"/>
<path fill="#fff" d="M601 273h19v10h-19z"/>
<path fill="#8c8c8c" d="M602 274h17v1h-17zM602 281h17v1h-17zM602 274h1v8h-1zM618 274h1v8h-1zM609 273h3v1h-3zM602 273h2v1h-2zM617 273h2v1h-2z"/>
<path fill="#fff" d="M601 282h8v4h-8zM612 282h8v4h-8zM602 287h18v2h-18zM602 290h18v2h-18zM601 293h8v3h-8zM612 293h8v3h-8zM602 297h18v2h-18zM602 300h18v2h-18zM601 303h8v2h-8zM612 303h8v2h-8zM602 306h18v2h-18zM602 309h18v2h-18zM601 312h8v2h-8zM612 312h8v2h-8z"/>
<path fill="#8c8c8c" d="M600 329h22v53h-22z"/>
<path fill="#fff" d="M601 330h19v10h-19z"/>
<path fill="#8c8c8c" d="M602 331h17v1h-17zM602 338h17v1h-17zM602 331h1v8h-1zM618 331h1v8h-1zM609 330h3v1h-3zM602 330h2v1h-2zM617 330h2v1h-2z"/>
<path fill="#fff" d="M601 339h8v4h-8zM612 339h8v4h-8zM602 344h18v2h-18zM602 347h18v2h-18zM601 350h8v3h-8zM612 350h8v3h-8zM602 354h18v2h-18zM602 357h18v2h-18zM601 360h8v2h-8zM612 360h8v2h-8zM602 363h18v2h-18zM602 366h18v2h-18zM601 369h8v2h-8zM612 369h8v2h-8z"/>
<path fill="#8c8c8c" d="M739 272h22v52h-22z"/>
<path fill="#fff" d="M740 273h19v10h-19z"/>
<path fill="#8c8c8c" d="M741 274h17v1h-17zM741 281h17v1h-17zM741 274h1v8h-1zM757 274h1v8h-1zM748 273h3v1h-3zM741 273h2v1h-2zM756 273h2v1h-2z"/>
<path fill="#fff" d="M740 282h8v4h-8zM751 282h8v4h-8zM741 287h18v2h-18zM741 290h18v2h-18zM740 293h8v3h-8zM751 293h8v3h-8zM741 297h18v2h-18zM741 300h18v2h-18zM740 303h8v2h-8zM751 303h8v2h-8zM741 306h18v2h-18zM741 309h18v2h-18zM740 312h8v2h-8zM751 312h8v2h-8z"/>
<path fill="#8c8c8c" d="M739 329h22v53h-22z"/>
<path fill="#fff" d="M740 330h19v10h-19z"/>
<path fill="#8c8c8c" d="M741 331h17v1h-17zM741 338h17v1h-17zM741 331h1v8h-1zM757 331h1v8h-1zM748 330h3v1h-3zM741 330h2v1h-2zM756 330h2v1h-2z"/>
<path fill="#fff" d="M740 339h8v4h-8zM751 339h8v4h-8zM741 344h18v2h-18zM741 347h18v2h-18zM740 350h8v3h-8zM751 350h8v3h-8zM741 354h18v2h-18zM741 357h18v2h-18zM740 360h8v2h-8zM751 360h8v2h-8zM741 363h18v2h-18zM741 366h18v2h-18zM740 369h8v2h-8zM751 369h8v2h-8z"/>
<path fill="#8c8c8c" d="M878 272h22v52h-22z"/>
<path fill="#fff" d="M879 273h19v10h-19z"/>
<path fill="#8c8c8c" d="M880 274h17v1h-17zM880 281h17v1h-17zM880 274h1v8h-1zM896 274h1v8h-1zM887 273h3v1h-3zM880 273h2v1h-2zM895 273h2v1h-2z"/>
<path fill="#fff" d="M879 282h8v4h-8zM890 282h8v4h-8zM880 287h18v2h-18zM880 290h18v2h-18zM879 293h8v3h-8zM890 293h8v3h-8zM880 297h18v2h-18zM880 300h18v2h-18zM879 303h8v2h-8zM890 303h8v2h-8zM880 306h18v2h-18zM880 309h18v2h-18zM879 312h8v2h-8zM890 312h8v2h-8z"/>
<path fill="#8c8c8c" d="M878 329h22v53h-22z"/>
<path fill="#fff" d="M879 330h19v10h-19z"/>
<path fill="#8c8c8c" d="M880 331h17v1h-17zM880 338h17v1h-17zM880 331h1v8h-1zM896 331h1v8h-1zM887 330h3v1h-3zM880 330h2v1h-2zM895 330h2v1h-2z"/>
<path fill="#fff" d="M879 339h8v4h-8zM890 339h8v4h-8zM880 344h18v2h-18zM880 347h18v2h-18zM879 350h8v3h-8zM890 350h8v3h-8zM880 354h18v2h-18zM880 357h18v2h-18zM879 360h8v2h-8zM890 360h8v2h-8zM880 363h18v2h-18zM880 366h18v2h-18zM879 369h8v2h-8zM890 369h8v2h-8z"/>
<text x="449" y="395" font-family="Liberation Sans, sans-serif" font-weight="bold" font-size="7" fill="#14142a" textLength="64" lengthAdjust="spacingAndGlyphs">ELEVACION E - 01</text>
<text x="449" y="400.5" font-family="Liberation Sans, sans-serif" font-weight="bold" font-size="5" fill="#000" stroke="#000" stroke-width="0.5" textLength="26" lengthAdjust="spacingAndGlyphs">ESCALA 1/50</text>
<path d="M75.5 463.5L162 431L248.5 463.5" fill="none" stroke="#000" stroke-width="3.2" stroke-linejoin="miter"/>
<path fill="#000" d="M59 467h189v1h-189zM52 461h5v2h-5zM58 461h6v2h-6zM64 462h2v1h-2zM53 460h2v1h-2zM52 463h19v1h-19zM66 459h1v8h-1zM64 466h5v1h-5zM84 443h13v4h-13zM88 446h5v2h-5zM97 443h4v2h-4zM92 467h1v110h-1zM211 467h1v110h-1zM99 471h6v1h-6zM199 471h6v1h-6zM99 471h1v6h-1zM204 471h1v6h-1zM99 474h1v50h-1zM204 474h1v50h-1zM99 474h51v1h-51zM99 474h1v50h-1zM149 474h1v50h-1zM99 523h51v1h-51zM102 478h46v2h-46zM102 519h46v2h-46zM102 478h2v43h-2zM146 478h2v43h-2zM110 484h10v3h-10zM112 483h5v1h-5zM111 500h13v3h-13zM113 503h3v1h-3zM128 514h12v4h-12zM131 513h5v1h-5zM153 474h52v1h-52zM153 474h1v50h-1zM204 474h1v50h-1zM153 523h52v1h-52zM156 478h47v2h-47zM156 519h47v2h-47zM156 478h2v43h-2zM201 478h2v43h-2zM164 484h10v3h-10zM166 483h5v1h-5zM165 500h13v3h-13zM167 503h3v1h-3zM183 514h12v4h-12zM186 513h5v1h-5zM99 527h6v1h-6zM199 527h6v1h-6zM99 527h1v6h-1zM204 527h1v6h-1zM99 530h1v48h-1zM204 530h1v48h-1zM99 530h51v1h-51zM99 530h1v48h-1zM149 530h1v48h-1zM102 533h46v2h-46zM102 533h2v45h-2zM146 533h2v45h-2zM110 540h10v3h-10zM112 539h5v1h-5zM111 556h13v3h-13zM113 559h3v1h-3zM128 570h12v4h-12zM131 569h5v1h-5zM153 530h52v1h-52zM153 530h1v48h-1zM204 530h1v48h-1zM156 533h47v2h-47zM156 533h2v45h-2zM201 533h2v45h-2zM164 540h10v3h-10zM166 539h5v1h-5zM165 556h13v3h-13zM167 559h3v1h-3zM183 570h12v4h-12zM186 569h5v1h-5zM59 523h34v1h-34zM52 517h5v2h-5zM58 517h6v2h-6zM64 518h2v1h-2zM53 516h2v1h-2zM52 519h19v1h-19zM66 515h1v8h-1zM64 522h5v1h-5zM51 575h5v2h-5zM57 575h6v2h-6zM63 576h2v1h-2zM52 574h2v1h-2zM51 577h19v1h-19zM65 573h1v8h-1zM63 580h5v1h-5zM211 507h45v1h-45zM211 511h42v1h-42zM252 511h1v13h-1zM218 514h11v3h-11zM232 518h11v3h-11zM255 451h1v128h-1zM261 452h1v127h-1zM336 467h1v112h-1zM342 468h1v111h-1z"/>
<path fill="none" stroke="#000" stroke-width="1" d="M100.5 443.5L104.5 451.5M103 479L107.5 486M103 487L108 485M123 501.5L131 498M139 515.5L145 512M141 517L142 520M157 479L161.5 486M157 487L162 485M177 501.5L185 498M194 515.5L200 512M196 517L197 520M103 535L107.5 542M103 543L108 541M123 557.5L131 554M139 571.5L145 568M141 573L142 576M157 535L161.5 542M157 543L162 541M177 557.5L185 554M194 571.5L200 568M196 573L197 576M211 528.5L252 522.5M252 523.5L255 523.5M211 534.5L255 527M213 512L218 516M213 519L218 516M242 519L250 514"/>
<path d="M238 447L359.5 472.5L359 476L238 449.8Z" fill="none" stroke="#000" stroke-width="1"/>
<path fill="none" stroke="#000" stroke-width="1" d="M261 507.5L315 536.5M261 532.5L290 544.5M305 537.5L336 537.5"/>
<path d="M261.5 512L303.5 535.5L299.5 541L261.5 528Z" fill="none" stroke="#000" stroke-width="1.1"/>
<rect x="263.5" y="514.5" width="8" height="10" fill="none" stroke="#000" stroke-width="1.1"/>
<circle cx="267.5" cy="519.5" r="2.3" fill="none" stroke="#000" stroke-width="1"/>
<rect x="273.0" y="520.5" width="8" height="10" fill="none" stroke="#000" stroke-width="1.1"/>
<circle cx="277.0" cy="525.5" r="2.3" fill="none" stroke="#000" stroke-width="1"/>
<rect x="282.5" y="526.5" width="8" height="10" fill="none" stroke="#000" stroke-width="1.1"/>
<circle cx="286.5" cy="531.5" r="2.3" fill="none" stroke="#000" stroke-width="1"/>
<rect x="292.0" y="532.5" width="8" height="10" fill="none" stroke="#000" stroke-width="1.1"/>
<circle cx="296.0" cy="537.5" r="2.3" fill="none" stroke="#000" stroke-width="1"/>
<path fill="#000" d="M313 556h24v1h-24zM316 537h21v1h-21z"/>
<path fill="none" stroke="#000" stroke-width="1" d="M261 559L290.5 544.5M273 578.5L313.5 556.5"/>
<path d="M72 576H347L349 578H354Q360 578 360 582.5Q360 589 354 589H348V587H72V589H66Q60 589 60 582.5Q60 578 66 578H71Z" fill="#000"/>
<path fill="#000" d="M73 587h11v1h-11zM73 589h11v1h-11zM73 587h1v3h-1zM83 587h1v3h-1zM338 587h11v1h-11zM338 589h11v1h-11zM338 587h1v3h-1zM348 587h1v3h-1z"/>
<text x="177" y="605" font-family="Liberation Sans, sans-serif" font-weight="bold" font-size="7.6" fill="#000" stroke="#000" stroke-width="0.7" textLength="63" lengthAdjust="spacingAndGlyphs">ELEVACION E - 01</text>
<text x="177" y="610.5" font-family="Liberation Sans, sans-serif" font-weight="bold" font-size="5" fill="#000" stroke="#000" stroke-width="0.5" textLength="26" lengthAdjust="spacingAndGlyphs">ESCALA 1/50</text>
<path fill="#000" d="M432 434h97v1h-97zM432 444h97v1h-97zM432 434h1v11h-1zM528 434h1v11h-1zM400 441h33v1h-33zM392 435h5v2h-5zM398 435h6v2h-6zM404 436h2v1h-2zM393 434h2v1h-2zM392 437h19v1h-19zM406 433h1v8h-1zM404 440h5v1h-5zM436 437h1v5h-1zM436 441h6v1h-6zM474 441h14v1h-14zM525 437h1v5h-1zM520 441h6v1h-6zM432 444h1v50h-1zM436 444h1v50h-1zM479 444h1v50h-1zM482 444h1v50h-1zM524 444h1v50h-1zM528 444h1v50h-1zM436 445h44v12h-44z"/>
<path fill="#fff" d="M437 447h2v1h-2zM440 447h3v1h-3zM444 447h5v1h-5zM437 455h2v1h-2zM440 455h3v1h-3zM444 455h5v1h-5zM439 449h8v2h-8zM439 452h8v1h-8zM437 448h2v3h-2zM448 448h2v3h-2zM437 452h2v3h-2zM448 452h2v3h-2zM451 447h2v1h-2zM454 447h3v1h-3zM458 447h5v1h-5zM464 447h1v1h-1zM451 455h2v1h-2zM454 455h3v1h-3zM458 455h5v1h-5zM464 455h1v1h-1zM453 449h9v2h-9zM453 452h9v1h-9zM451 448h2v3h-2zM463 448h2v3h-2zM451 452h2v3h-2zM463 452h2v3h-2zM466 447h2v1h-2zM469 447h3v1h-3zM473 447h5v1h-5zM466 455h2v1h-2zM469 455h3v1h-3zM473 455h5v1h-5zM468 449h8v2h-8zM468 452h8v1h-8zM466 448h2v3h-2zM477 448h2v3h-2zM466 452h2v3h-2zM477 452h2v3h-2z"/>
<path fill="#000" d="M482 445h22v12h-22z"/>
<path fill="#fff" d="M483 447h2v1h-2zM486 447h3v1h-3zM490 447h2v1h-2zM483 455h2v1h-2zM486 455h3v1h-3zM490 455h2v1h-2zM485 449h4v2h-4zM485 452h4v1h-4zM483 448h2v3h-2zM490 448h2v3h-2zM483 452h2v3h-2zM490 452h2v3h-2zM493 447h2v1h-2zM496 447h3v1h-3zM500 447h3v1h-3zM493 455h2v1h-2zM496 455h3v1h-3zM500 455h3v1h-3zM495 449h5v2h-5zM495 452h5v1h-5zM493 448h2v3h-2zM501 448h2v3h-2zM493 452h2v3h-2zM501 452h2v3h-2z"/>
<path fill="#000" d="M436 458h44v1h-44zM482 458h22v1h-22zM440 461h36v2h-36zM440 461h2v33h-2zM474 461h2v33h-2zM486 461h17v2h-17zM486 461h2v33h-2zM448 465h10v4h-10zM450 464h5v1h-5zM447 478h13v3h-13zM449 481h4v1h-4zM457 489h13v3h-13zM460 488h5v1h-5zM471 491h1v3h-1zM494 465h9v4h-9zM483 478h12v3h-12zM484 489h11v3h-11z"/>
<path fill="none" stroke="#000" stroke-width="1" d="M441.5 462.5L446 466.5M441.5 469.5L446 466.5M459 479.5L467 476M469 490L474 487M487.5 462.5L492 466.5M487.5 469.5L492 466.5M494 479L497 473M494 490L499 485"/>
<path d="M412 493H548L550 495H555Q561 495 561 499.0Q561 505 555 505H549V503H412V505H406Q400 505 400 499.0Q400 495 406 495H411Z" fill="#000"/>
<path fill="#000" d="M413 503h11v1h-11zM413 505h11v1h-11zM413 503h1v3h-1zM423 503h1v3h-1zM539 503h11v1h-11zM539 505h11v1h-11zM539 503h1v3h-1zM549 503h1v3h-1z"/>
<path fill="#8c8c8c" d="M503 445h22v53h-22z"/>
<path fill="#fff" d="M504 446h19v10h-19z"/>
<path fill="#8c8c8c" d="M505 447h17v1h-17zM505 454h17v1h-17zM505 447h1v8h-1zM521 447h1v8h-1zM512 446h3v1h-3zM505 446h2v1h-2zM520 446h2v1h-2z"/>
<path fill="#fff" d="M504 455h8v4h-8zM515 455h8v4h-8zM505 460h18v2h-18zM505 463h18v2h-18zM504 466h8v3h-8zM515 466h8v3h-8zM505 470h18v2h-18zM505 473h18v2h-18zM504 476h8v2h-8zM515 476h8v2h-8zM505 479h18v2h-18zM505 482h18v2h-18zM504 485h8v2h-8zM515 485h8v2h-8z"/>
<path fill="#000" d="M391 491h5v2h-5zM397 491h6v2h-6zM403 492h2v1h-2zM392 490h2v1h-2zM391 493h19v1h-19zM405 489h1v8h-1zM403 496h5v1h-5z"/>
<text x="454" y="518.5" font-family="Liberation Sans, sans-serif" font-weight="bold" font-size="7.6" fill="#000" stroke="#000" stroke-width="0.7" textLength="63" lengthAdjust="spacingAndGlyphs">ELEVACION E - 04</text>
<text x="454" y="524.0" font-family="Liberation Sans, sans-serif" font-weight="bold" font-size="5" fill="#000" stroke="#000" stroke-width="0.5" textLength="26" lengthAdjust="spacingAndGlyphs">ESCALA 1/50</text>
<path fill="#000" d="M648 434h98v1h-98zM616 441h33v1h-33zM609 435h5v2h-5zM615 435h6v2h-6zM621 436h2v1h-2zM610 434h2v1h-2zM609 437h19v1h-19zM623 433h1v8h-1zM621 440h5v1h-5zM648 434h1v59h-1zM653 434h1v59h-1zM694 434h1v59h-1zM699 434h1v59h-1zM740 434h1v59h-1zM745 434h1v59h-1zM653 441h6v1h-6zM689 441h6v1h-6zM653 444h42v3h-42zM653 443h4v4h-4zM691 443h4v4h-4zM653 446h42v25h-42z"/>
<path fill="#fff" d="M654 449h2v9h-2zM654 460h2v10h-2zM665 449h2v9h-2zM665 460h2v10h-2zM657 451h7v1h-7zM657 453h7v1h-7zM657 460h7v1h-7zM657 464h7v1h-7zM656 455h3v1h-3zM659 455h2v1h-2zM662 455h3v1h-3zM656 462h3v1h-3zM659 462h2v1h-2zM662 462h3v1h-3zM654 469h5v1h-5zM662 469h5v1h-5zM659 469h2v1h-2zM668 449h2v9h-2zM668 460h2v10h-2zM678 449h2v9h-2zM678 460h2v10h-2zM671 451h6v1h-6zM671 453h6v1h-6zM671 460h6v1h-6zM671 464h6v1h-6zM670 455h3v1h-3zM672 455h2v1h-2zM675 455h3v1h-3zM670 462h3v1h-3zM672 462h2v1h-2zM675 462h3v1h-3zM668 469h5v1h-5zM675 469h5v1h-5zM672 469h2v1h-2zM681 449h2v9h-2zM681 460h2v10h-2zM692 449h2v9h-2zM692 460h2v10h-2zM684 451h7v1h-7zM684 453h7v1h-7zM684 460h7v1h-7zM684 464h7v1h-7zM683 455h3v1h-3zM686 455h2v1h-2zM689 455h3v1h-3zM683 462h3v1h-3zM686 462h2v1h-2zM689 462h3v1h-3zM681 469h5v1h-5zM689 469h5v1h-5zM686 469h2v1h-2z"/>
<path fill="#fff" d="M653 471h42v1h-42z"/>
<path fill="#000" d="M653 472h42v1h-42zM656 474h37v2h-37zM656 474h2v19h-2zM691 474h2v19h-2zM665 478h13v4h-13zM666 484h14v4h-14zM677 489h11v4h-11zM699 441h6v1h-6zM735 441h6v1h-6zM699 444h42v3h-42zM699 443h4v4h-4zM737 443h4v4h-4zM699 446h42v25h-42z"/>
<path fill="#fff" d="M700 449h2v9h-2zM700 460h2v10h-2zM711 449h2v9h-2zM711 460h2v10h-2zM703 451h7v1h-7zM703 453h7v1h-7zM703 460h7v1h-7zM703 464h7v1h-7zM702 455h3v1h-3zM705 455h2v1h-2zM708 455h3v1h-3zM702 462h3v1h-3zM705 462h2v1h-2zM708 462h3v1h-3zM700 469h5v1h-5zM708 469h5v1h-5zM705 469h2v1h-2zM714 449h2v9h-2zM714 460h2v10h-2zM724 449h2v9h-2zM724 460h2v10h-2zM717 451h6v1h-6zM717 453h6v1h-6zM717 460h6v1h-6zM717 464h6v1h-6zM716 455h3v1h-3zM718 455h2v1h-2zM721 455h3v1h-3zM716 462h3v1h-3zM718 462h2v1h-2zM721 462h3v1h-3zM714 469h5v1h-5zM721 469h5v1h-5zM718 469h2v1h-2zM727 449h2v9h-2zM727 460h2v10h-2zM738 449h2v9h-2zM738 460h2v10h-2zM730 451h7v1h-7zM730 453h7v1h-7zM730 460h7v1h-7zM730 464h7v1h-7zM729 455h3v1h-3zM732 455h2v1h-2zM735 455h3v1h-3zM729 462h3v1h-3zM732 462h2v1h-2zM735 462h3v1h-3zM727 469h5v1h-5zM735 469h5v1h-5zM732 469h2v1h-2z"/>
<path fill="none" stroke="#000" stroke-width="1" d="M657 475L664 479M657 482L664 479M679 485L686 482M687 490L692 487"/>
<path fill="#fff" d="M699 471h42v1h-42z"/>
<path fill="#000" d="M699 472h42v1h-42zM702 474h37v2h-37zM702 474h2v19h-2zM737 474h2v19h-2zM711 478h13v4h-13zM712 484h14v4h-14zM723 489h11v4h-11z"/>
<path fill="none" stroke="#000" stroke-width="1" d="M703 475L710 479M703 482L710 479M725 485L732 482M733 490L738 487"/>
<path d="M628 492H765L767 494H772Q778 494 778 498.0Q778 504 772 504H766V502H628V504H622Q616 504 616 498.0Q616 494 622 494H627Z" fill="#000"/>
<path fill="#000" d="M629 502h11v1h-11zM629 504h11v1h-11zM629 502h1v3h-1zM639 502h1v3h-1zM756 502h11v1h-11zM756 504h11v1h-11zM756 502h1v3h-1zM766 502h1v3h-1zM608 490h5v2h-5zM614 490h6v2h-6zM620 491h2v1h-2zM609 489h2v1h-2zM608 492h19v1h-19zM622 488h1v8h-1zM620 495h5v1h-5z"/>
<text x="668" y="514.5" font-family="Liberation Sans, sans-serif" font-weight="bold" font-size="7" fill="#14142a" textLength="64" lengthAdjust="spacingAndGlyphs">ELEVACION E - 06</text>
<text x="668" y="520.0" font-family="Liberation Sans, sans-serif" font-weight="bold" font-size="5" fill="#000" stroke="#000" stroke-width="0.5" textLength="26" lengthAdjust="spacingAndGlyphs">ESCALA 1/50</text>
<path fill="#000" d="M453 529h150v1h-150zM453 529h1v60h-1zM602 529h1v11h-1zM455 531h1v6h-1zM455 536h12v1h-12zM600 531h1v6h-1zM585 536h16v1h-16zM460 539h7v1h-7zM460 539h1v50h-1zM559 536h7v1h-7zM572 536h7v1h-7zM559 539h7v1h-7zM572 539h7v1h-7zM565 536h1v53h-1zM572 540h1v49h-1zM420 536h34v1h-34zM413 530h5v2h-5zM419 530h6v2h-6zM425 531h2v1h-2zM414 529h2v1h-2zM413 532h19v1h-19zM427 528h1v8h-1zM425 535h5v1h-5zM462 543h49v1h-49zM462 543h1v46h-1zM510 543h1v46h-1zM465 546h43v2h-43zM465 546h2v43h-2zM506 546h2v43h-2zM473 552h10v3h-10zM475 551h5v1h-5zM474 568h13v3h-13zM476 571h3v1h-3zM488 582h12v4h-12zM491 581h5v1h-5zM514 543h52v1h-52zM514 543h1v46h-1zM565 543h1v46h-1zM517 546h46v2h-46zM517 546h2v43h-2zM561 546h2v43h-2zM525 552h10v3h-10zM527 551h5v1h-5zM526 568h13v3h-13zM528 571h3v1h-3zM543 582h12v4h-12zM546 581h5v1h-5z"/>
<path fill="none" stroke="#000" stroke-width="1" d="M602 539.5L572.5 544.5M466 547L470.5 554M466 555L471 553M486 569.5L494 566M499 583.5L505 580M501 585L502 588M518 547L522.5 554M518 555L523 553M538 569.5L546 566M554 583.5L560 580M556 585L557 588"/>
<path d="M431 588H617L619 590H624Q630 590 630 594.0Q630 600 624 600H618V598H431V600H425Q419 600 419 594.0Q419 590 425 590H430Z" fill="#000"/>
<path fill="#000" d="M432 598h11v1h-11zM432 600h11v1h-11zM432 598h1v3h-1zM442 598h1v3h-1zM608 598h11v1h-11zM608 600h11v1h-11zM608 598h1v3h-1zM618 598h1v3h-1zM411 586h5v2h-5zM417 586h6v2h-6zM423 587h2v1h-2zM412 585h2v1h-2zM411 588h19v1h-19zM425 584h1v8h-1zM423 591h5v1h-5z"/>
<text x="505" y="610" font-family="Liberation Sans, sans-serif" font-weight="bold" font-size="7.6" fill="#000" stroke="#000" stroke-width="0.7" textLength="64" lengthAdjust="spacingAndGlyphs">ELEVACION E - 03</text>
</svg></body></html>
